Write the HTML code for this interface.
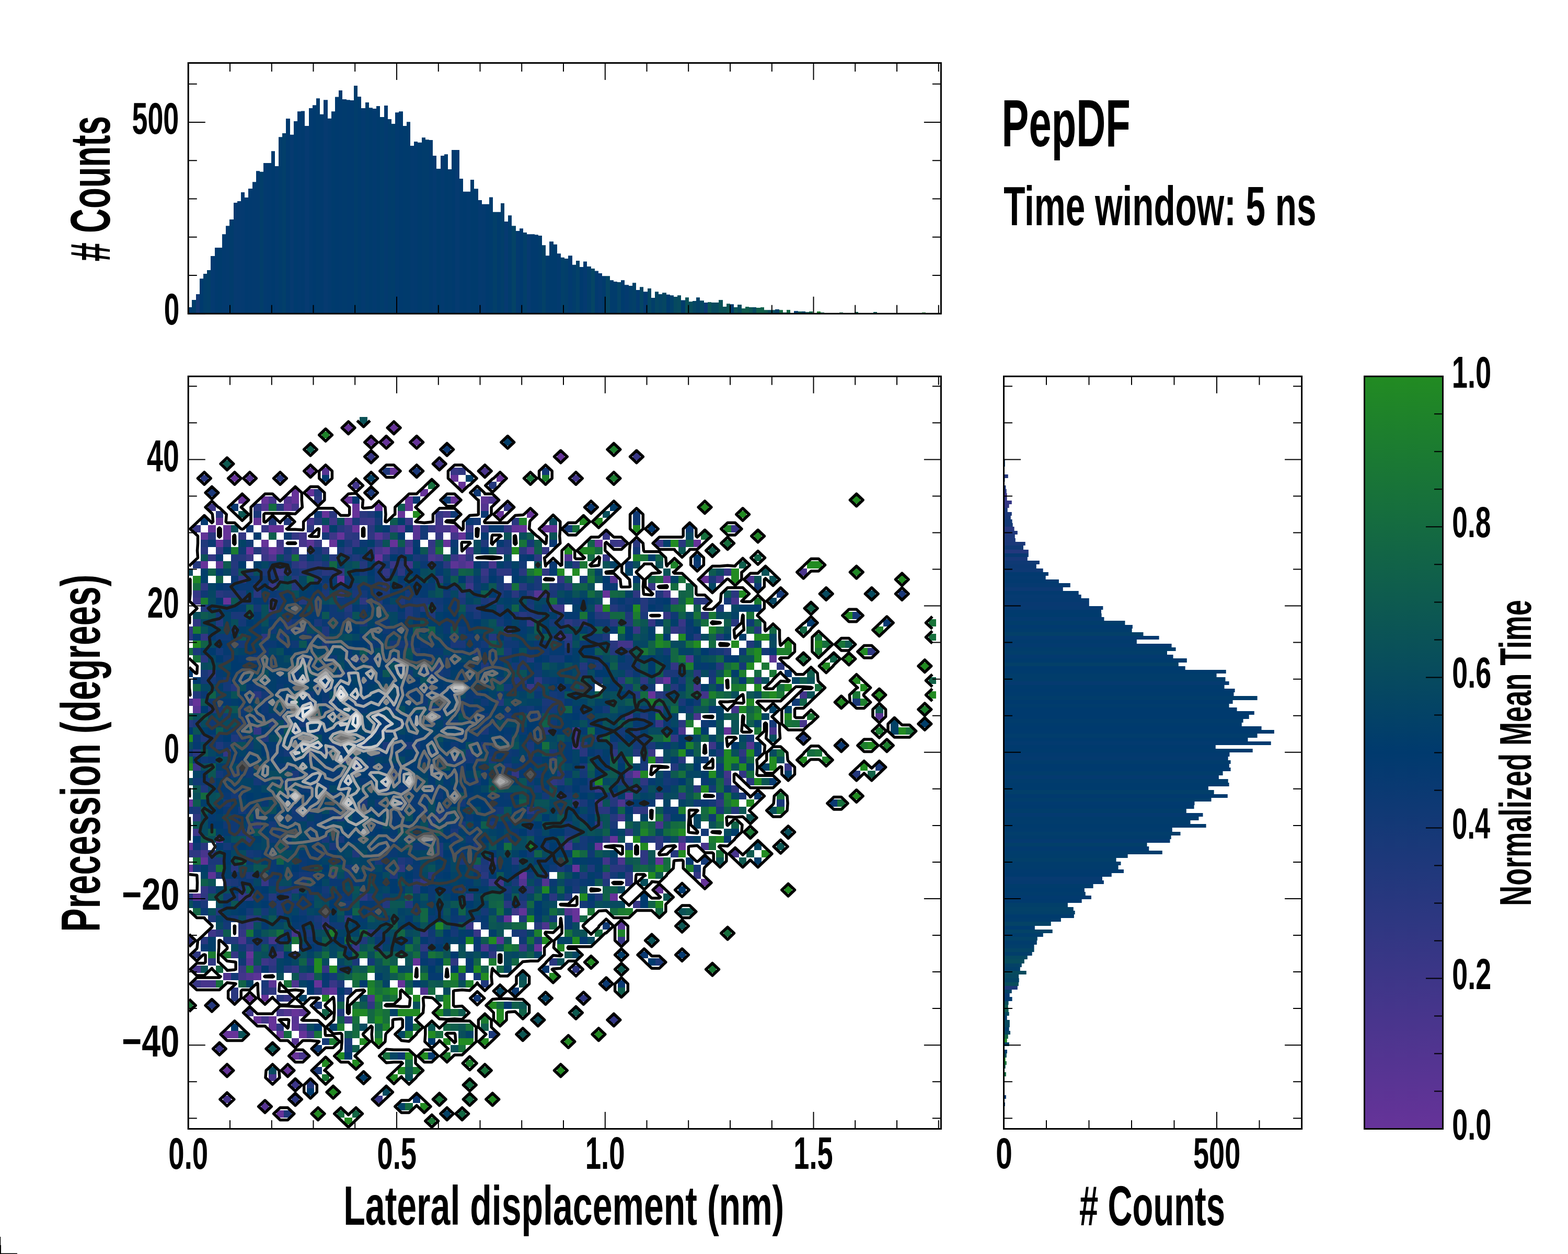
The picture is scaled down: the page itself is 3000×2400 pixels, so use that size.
<!DOCTYPE html><html><head><meta charset="utf-8"><title>PepDF</title><style>html,body{margin:0;padding:0;background:#fff;width:3000px;height:2400px;overflow:hidden}svg{display:block}</style></head><body><svg width="3000" height="2400" viewBox="0 0 3000 2400"><defs><clipPath id="cm"><rect x="360.25" y="720.3" width="1440.15" height="1440.2"/></clipPath><linearGradient id="cg" x1="0" y1="1" x2="0" y2="0"><stop offset="0" stop-color="#663399"/><stop offset="0.5" stop-color="#003a6e"/><stop offset="1" stop-color="#228b22"/></linearGradient></defs><rect width="3000" height="2400" fill="#fff"/><path fill="#013a6e" d="M360 588h7V600.3h-7zM411 473.9h7V600.3h-7zM547 227.1h8V600.3h-8zM576 212.4h7V600.3h-7zM612 218.8h7V600.3h-7zM648 173.1h7V600.3h-7zM663 191.2h7V600.3h-7zM670 192.1h7V600.3h-7zM821 268h7V600.3h-7zM879 342h7V600.3h-7zM1015 448.3h8V600.3h-8zM1023 449.2h7V600.3h-7z"/><path fill="#013d6b" d="M367 574.1h8V600.3h-8zM677 164h7V600.3h-7zM749 236.9h7V600.3h-7zM1095 506.8h7V600.3h-7z"/><path fill="#123975" d="M375 563h7V600.3h-7z"/><path fill="#003a6e" d="M382 533.2h7V600.3h-7zM519 289.2h7V600.3h-7zM598 201.2h7V600.3h-7zM641 185.4h7V600.3h-7zM763 213.2h8V600.3h-8zM864 286.9h7V600.3h-7zM886 366.8h7V600.3h-7zM929 390.7h7V600.3h-7zM994 437.2h7V600.3h-7zM1109 510.9h7V600.3h-7zM1519 595.2h8V600.3h-8z"/><path fill="#023e6a" d="M389 524h7V600.3h-7zM497 328.7h7V600.3h-7zM958 389.1h7V600.3h-7zM1080 495.1h7V600.3h-7zM1123 510.1h8V600.3h-8zM1203 547.1h7V600.3h-7zM1246 569.9h7V600.3h-7z"/><path fill="#023f69" d="M396 517.1h7V600.3h-7zM943 405.8h8V600.3h-8zM1001 445h7V600.3h-7z"/><path fill="#043a70" d="M403 490.1h8V600.3h-8zM461 367.9h7V600.3h-7zM828 298.1h7V600.3h-7zM915 382.9h7V600.3h-7zM1116 500.4h7V600.3h-7zM1231 558.2h8V600.3h-8z"/><path fill="#003b6d" d="M418 473.9h7V600.3h-7zM634 213.2h7V600.3h-7zM684 185.1h7V600.3h-7zM706 206.3h7V600.3h-7zM720 202.9h7V600.3h-7zM771 241h7V600.3h-7zM778 233.2h7V600.3h-7zM799 272.8h8V600.3h-8zM835 323.1h8V600.3h-8zM850 295.3h7V600.3h-7zM900 344h7V600.3h-7zM907 361.2h8V600.3h-8zM936 377.4h7V600.3h-7zM951 405.8h7V600.3h-7zM1051 462.2h8V600.3h-8zM1059 467.8h7V600.3h-7zM1188 536.2h7V600.3h-7zM1275 563.8h7V600.3h-7zM1397 582.2h7V600.3h-7z"/><path fill="#023a6f" d="M425 448.3h7V600.3h-7zM475 361h8V600.3h-8zM511 312h8V600.3h-8zM569 213.2h7V600.3h-7zM591 207.1h7V600.3h-7zM713 207.9h7V600.3h-7zM756 215.2h7V600.3h-7zM792 271.1h7V600.3h-7zM893 366.8h7V600.3h-7zM1066 485.3h7V600.3h-7zM1087 489.2h8V600.3h-8zM1138 518.4h7V600.3h-7z"/><path fill="#033a6f" d="M432 432.2h7V600.3h-7zM483 348.2h7V600.3h-7zM490 327.3h7V600.3h-7zM504 312h7V600.3h-7zM526 318.1h7V600.3h-7zM627 226.8h7V600.3h-7zM691 207.1h8V600.3h-8zM735 202.1h7V600.3h-7zM785 278.9h7V600.3h-7zM843 298.1h7V600.3h-7zM987 441.9h7V600.3h-7zM1195 545.2h8V600.3h-8zM1217 554.9h7V600.3h-7z"/><path fill="#013c6c" d="M439 419.9h8V600.3h-8zM533 262.2h7V600.3h-7zM699 196h7V600.3h-7zM742 228h7V600.3h-7zM807 263.3h7V600.3h-7zM814 267.2h7V600.3h-7zM972 412.2h7V600.3h-7zM1030 451.1h7V600.3h-7zM1167 536.2h7V600.3h-7zM1174 539h7V600.3h-7zM1303 574.4h8V600.3h-8z"/><path fill="#063a70" d="M447 387.9h7V600.3h-7zM555 257.7h7V600.3h-7zM619 191.2h8V600.3h-8z"/><path fill="#053a70" d="M454 384.9h7V600.3h-7zM871 286.9h8V600.3h-8zM1145 522.9h7V600.3h-7z"/><path fill="#013a6f" d="M468 377.9h7V600.3h-7z"/><path fill="#023f6a" d="M540 254.9h7V600.3h-7z"/><path fill="#003b6e" d="M562 232.1h7V600.3h-7z"/><path fill="#063a71" d="M583 241h8V600.3h-8zM965 424.1h7V600.3h-7zM1008 448.3h7V600.3h-7z"/><path fill="#013b6d" d="M605 188.2h7V600.3h-7zM655 190.1h8V600.3h-8zM857 324h7V600.3h-7zM1044 489.2h7V600.3h-7zM1152 528.2h7V600.3h-7z"/><path fill="#013d6c" d="M727 224.1h8V600.3h-8z"/><path fill="#043a6f" d="M922 390.7h7V600.3h-7z"/><path fill="#044366" d="M979 432.2h8V600.3h-8zM1181 540.1h7V600.3h-7zM1260 563h7V600.3h-7z"/><path fill="#034167" d="M1037 469.2h7V600.3h-7zM1332 569.2h7V600.3h-7zM1483 592.1h8V600.3h-8z"/><path fill="#024069" d="M1073 492.8h7V600.3h-7zM1282 565.2h7V600.3h-7z"/><path fill="#034168" d="M1102 499h7V600.3h-7z"/><path fill="#054564" d="M1131 514h7V600.3h-7zM1159 528.2h8V600.3h-8z"/><path fill="#034068" d="M1210 541.3h7V600.3h-7z"/><path fill="#044464" d="M1224 549.3h7V600.3h-7zM1534 596.1h7V600.3h-7z"/><path fill="#054662" d="M1239 552.1h7V600.3h-7zM1267 560.2h8V600.3h-8zM1339 575.3h8V600.3h-8z"/><path fill="#054663" d="M1253 558.2h7V600.3h-7zM1325 576h7V600.3h-7z"/><path fill="#064960" d="M1289 568h7V600.3h-7zM1440 588.1h7V600.3h-7z"/><path fill="#074b5e" d="M1296 565.2h7V600.3h-7z"/><path fill="#0a5158" d="M1311 569.2h7V600.3h-7zM1383 587.1h7V600.3h-7z"/><path fill="#084d5c" d="M1318 577.2h7V600.3h-7zM1469 593.3h7V600.3h-7zM1476 593.3h7V600.3h-7z"/><path fill="#0c3973" d="M1347 579.1h7V600.3h-7z"/><path fill="#0b5356" d="M1354 578.2h7V600.3h-7z"/><path fill="#074a5f" d="M1361 579.1h7V600.3h-7zM1368 579.1h7V600.3h-7z"/><path fill="#0a5257" d="M1375 574.1h8V600.3h-8z"/><path fill="#0c5654" d="M1390 581.2h7V600.3h-7zM1433 588.1h7V600.3h-7z"/><path fill="#0b5456" d="M1404 588.1h7V600.3h-7zM1541 597.3h7V600.3h-7z"/><path fill="#074c5d" d="M1411 583.1h8V600.3h-8z"/><path fill="#0e5b4f" d="M1419 590.2h7V600.3h-7zM1462 593.3h7V600.3h-7z"/><path fill="#0f5d4d" d="M1426 587.1h7V600.3h-7z"/><path fill="#0f5e4c" d="M1447 589h8V600.3h-8zM1635 597.1h7V600.3h-7z"/><path fill="#10604a" d="M1455 588.1h7V600.3h-7z"/><path fill="#146a41" d="M1491 593.3h7V600.3h-7z"/><path fill="#0c5753" d="M1498 598h7V600.3h-7z"/><path fill="#126645" d="M1505 593.1h7V600.3h-7z"/><path fill="#0c5752" d="M1527 596.1h7V600.3h-7z"/><path fill="#126545" d="M1548 596.1h7V600.3h-7z"/><path fill="#1d7f2e" d="M1563 596.1h7V600.3h-7z"/><path fill="#10604b" d="M1570 598h7V600.3h-7z"/><path fill="#126447" d="M1606 598h7V600.3h-7z"/><path fill="#0b5554" d="M1671 597.1h7V600.3h-7z"/><path fill="#1c7d2f" d="M1764 598h7V600.3h-7z"/><path fill="#0b3973" d="M1920.5 879H1922.8V886H1920.5z"/><path fill="#003a6e" d="M1920.5 886H1922.8V893H1920.5zM1920.5 1275H2267.7V1282H1920.5zM1920.5 1318H2362.6V1325H1920.5zM1920.5 1340H2358.6V1347H1920.5zM1920.5 1354H2366.6V1361H1920.5zM1920.5 1361H2399.8V1368H1920.5zM1920.5 1368H2389.7V1376H1920.5zM1920.5 1390H2413.6V1397H1920.5zM1920.5 1397H2437.9V1404H1920.5zM1920.5 1412H2387.5V1419H1920.5zM1920.5 1426H2325.8V1433H1920.5zM1920.5 1462H2351.9V1469H1920.5zM1920.5 1469H2354.6V1476H1920.5zM1920.5 1541H2284.6V1548H1920.5zM1920.5 1671H2126.8V1678H1920.5z"/><path fill="#24377d" d="M1920.5 908H1928.8V915H1920.5z"/><path fill="#0f3974" d="M1920.5 915H1922.5V922H1920.5zM1920.5 1044H1958V1052H1920.5zM1920.5 1073H1988.9V1080H1920.5z"/><path fill="#663399" d="M1920.5 922H1921.8V929H1920.5z"/><path fill="#1c387a" d="M1920.5 929H1924.4V936H1920.5zM1920.5 980H1935.8V987H1920.5zM1920.5 1023H1941.8V1030H1920.5zM1920.5 1030H1942.8V1037H1920.5z"/><path fill="#2a3780" d="M1920.5 936H1925.7V944H1920.5z"/><path fill="#3f3688" d="M1920.5 944H1926.7V951H1920.5z"/><path fill="#353684" d="M1920.5 951H1926.7V958H1920.5z"/><path fill="#353685" d="M1920.5 958H1935.8V965H1920.5z"/><path fill="#323783" d="M1920.5 965H1930.7V972H1920.5z"/><path fill="#1b387a" d="M1920.5 972H1927.7V980H1920.5z"/><path fill="#193878" d="M1920.5 987H1933.8V994H1920.5z"/><path fill="#133976" d="M1920.5 994H1936.6V1001H1920.5z"/><path fill="#143976" d="M1920.5 1001H1937.7V1008H1920.5z"/><path fill="#28377f" d="M1920.5 1008H1940.6V1016H1920.5z"/><path fill="#21387c" d="M1920.5 1016H1946.8V1023H1920.5z"/><path fill="#1a3879" d="M1920.5 1037H1961.7V1044H1920.5z"/><path fill="#23387d" d="M1920.5 1052H1967.8V1059H1920.5z"/><path fill="#083971" d="M1920.5 1059H1967.8V1066H1920.5zM1920.5 1152H2083.8V1160H1920.5z"/><path fill="#173878" d="M1920.5 1066H1965.8V1073H1920.5z"/><path fill="#0c3973" d="M1920.5 1080H1982.8V1088H1920.5zM1920.5 1124H2033.8V1131H1920.5zM1920.5 2096H1924.9V2103H1920.5z"/><path fill="#0e3974" d="M1920.5 1088H1995.7V1095H1920.5z"/><path fill="#023a6f" d="M1920.5 1095H2005.9V1102H1920.5zM1920.5 1109H2025.9V1116H1920.5zM1920.5 1440H2352.5V1448H1920.5zM1920.5 1620H2198.3V1628H1920.5zM1920.5 1714H2087.9V1721H1920.5z"/><path fill="#043a70" d="M1920.5 1102H2000.7V1109H1920.5zM1920.5 1181H2112.5V1188H1920.5zM1920.5 1217H2217.6V1224H1920.5zM1920.5 1484H2331.9V1491H1920.5zM1920.5 1556H2301.5V1563H1920.5zM1920.5 1606H2238.5V1613H1920.5z"/><path fill="#053a70" d="M1920.5 1116H2047.8V1124H1920.5zM1920.5 1145H2083.8V1152H1920.5zM1920.5 1304H2351.6V1311H1920.5zM1920.5 1685H2111.9V1692H1920.5zM1920.5 1901H1931.7V1908H1920.5zM1920.5 2110H1922.9V2117H1920.5z"/><path fill="#033a6f" d="M1920.5 1131H2063.7V1138H1920.5zM1920.5 1232H2241.6V1239H1920.5zM1920.5 1253H2244.6V1260H1920.5zM1920.5 1419H2431.7V1426H1920.5zM1920.5 1908H1936.6V1916H1920.5z"/><path fill="#063a71" d="M1920.5 1138H2068.7V1145H1920.5z"/><path fill="#073a71" d="M1920.5 1160H2110.4V1167H1920.5zM1920.5 1678H2109V1685H1920.5z"/><path fill="#013a6e" d="M1920.5 1167H2107V1174H1920.5zM1920.5 1520H2348.8V1527H1920.5zM1920.5 1664H2150V1671H1920.5zM1920.5 1721H2069.7V1728H1920.5z"/><path fill="#003b6d" d="M1920.5 1174H2107.6V1181H1920.5zM1920.5 1260H2270.8V1268H1920.5zM1920.5 1282H2345.7V1289H1920.5zM1920.5 1311H2342.6V1318H1920.5zM1920.5 1325H2360.5V1332H1920.5zM1920.5 1383H2375.8V1390H1920.5zM1920.5 1433H2396.7V1440H1920.5zM1920.5 1498H2351.6V1505H1920.5zM1920.5 1505H2311.9V1512H1920.5zM1920.5 1577H2307.6V1584H1920.5zM1920.5 1700H2074.9V1707H1920.5zM1920.5 1750H2054.9V1757H1920.5zM1920.5 1944H1926.7V1952H1920.5z"/><path fill="#013d6b" d="M1920.5 1188H2152.5V1196H1920.5zM1920.5 1239H2249.6V1246H1920.5zM1920.5 1289H2327.6V1296H1920.5zM1920.5 1296H2344.5V1304H1920.5zM1920.5 1332H2405.6V1340H1920.5zM1920.5 1476H2339.6V1484H1920.5zM1920.5 1527H2317.5V1534H1920.5zM1920.5 1548H2269.8V1556H1920.5zM1920.5 1635H2157.7V1642H1920.5z"/><path fill="#013a6f" d="M1920.5 1196H2166.9V1203H1920.5zM1920.5 1534H2285.5V1541H1920.5z"/><path fill="#013c6c" d="M1920.5 1203H2165.7V1210H1920.5zM1920.5 1347H2351.6V1354H1920.5zM1920.5 1376H2378.6V1383H1920.5zM1920.5 1455H2354.6V1462H1920.5zM1920.5 1491H2349.7V1498H1920.5zM1920.5 1563H2293.5V1570H1920.5zM1920.5 1570H2277.5V1577H1920.5zM1920.5 1599H2240.7V1606H1920.5zM1920.5 1649H2144.5V1656H1920.5zM1920.5 1656H2139.6V1664H1920.5zM1920.5 1692H2091.6V1700H1920.5zM1920.5 1707H2076.8V1714H1920.5zM1920.5 1757H2029.9V1764H1920.5zM1920.5 1800H1983.8V1808H1920.5zM1920.5 2009H1926.9V2016H1920.5z"/><path fill="#034068" d="M1920.5 1210H2187.5V1217H1920.5zM1920.5 1268H2254.8V1275H1920.5z"/><path fill="#013b6d" d="M1920.5 1224H2174.9V1232H1920.5zM1920.5 1584H2242.8V1592H1920.5z"/><path fill="#023e6a" d="M1920.5 1246H2233V1253H1920.5zM1920.5 1808H1978.6V1815H1920.5zM1920.5 1822H1974.7V1829H1920.5z"/><path fill="#013d6c" d="M1920.5 1404H2405.6V1412H1920.5zM1920.5 1628H2223.8V1635H1920.5zM1920.5 1786H1995.8V1793H1920.5z"/><path fill="#043a6f" d="M1920.5 1448H2349.7V1455H1920.5z"/><path fill="#023f6a" d="M1920.5 1512H2322.7V1520H1920.5z"/><path fill="#023e6b" d="M1920.5 1592H2258.5V1599H1920.5z"/><path fill="#023f69" d="M1920.5 1613H2194.6V1620H1920.5zM1920.5 1642H2135.6V1649H1920.5zM1920.5 1728H2042.9V1736H1920.5zM1920.5 1851H1951.8V1858H1920.5zM1920.5 1966H1930.7V1973H1920.5z"/><path fill="#034168" d="M1920.5 1736H2053.8V1743H1920.5z"/><path fill="#024069" d="M1920.5 1743H2056.7V1750H1920.5z"/><path fill="#044366" d="M1920.5 1764H2010.8V1772H1920.5zM1920.5 1995H1930.9V2002H1920.5z"/><path fill="#003b6e" d="M1920.5 1772H1979.9V1779H1920.5z"/><path fill="#034267" d="M1920.5 1779H2013.7V1786H1920.5zM1920.5 1793H1984.8V1800H1920.5z"/><path fill="#044465" d="M1920.5 1815H1978.6V1822H1920.5z"/><path fill="#064861" d="M1920.5 1829H1965.8V1836H1920.5zM1920.5 1865H1949.1V1872H1920.5zM1920.5 1973H1933V1980H1920.5z"/><path fill="#074c5d" d="M1920.5 1836H1959.8V1844H1920.5z"/><path fill="#044266" d="M1920.5 1844H1954.8V1851H1920.5zM1920.5 1894H1935.8V1901H1920.5z"/><path fill="#074b5e" d="M1920.5 1858H1963.7V1865H1920.5z"/><path fill="#044464" d="M1920.5 1872H1949.7V1880H1920.5z"/><path fill="#084e5b" d="M1920.5 1880H1948.8V1887H1920.5z"/><path fill="#1b3879" d="M1920.5 1887H1946.8V1894H1920.5z"/><path fill="#084d5c" d="M1920.5 1916H1929.6V1923H1920.5z"/><path fill="#0d5951" d="M1920.5 1923H1928.8V1930H1920.5z"/><path fill="#0e5a50" d="M1920.5 1930H1929.6V1937H1920.5z"/><path fill="#064860" d="M1920.5 1937H1930.7V1944H1920.5z"/><path fill="#074a5f" d="M1920.5 1952H1931.8V1959H1920.5z"/><path fill="#064960" d="M1920.5 1959H1931.8V1966H1920.5z"/><path fill="#126645" d="M1920.5 1980H1928.8V1988H1920.5z"/><path fill="#218825" d="M1920.5 1988H1926.7V1995H1920.5z"/><path fill="#0a5257" d="M1920.5 2016H1925.8V2024H1920.5z"/><path fill="#228b22" d="M1920.5 2024H1923.7V2031H1920.5z"/><path fill="#187239" d="M1920.5 2031H1925.8V2038H1920.5z"/><path fill="#0c5654" d="M1920.5 2038H1923.7V2045H1920.5z"/><path fill="#156b40" d="M1920.5 2052H1924.9V2060H1920.5z"/><g clip-path="url(#cm)"><path fill="#074a5f" d="M355 1088h14v14h-14zM355 1489h14v14h-14zM384 1268h14v14h-14zM384 1378h14v14h-14zM384 1558h14v14h-14zM384 1572h14v14h-14zM384 1586h14v14h-14zM398 1144h15v13h-15zM398 1226h15v14h-15zM413 1724h14v14h-14zM413 1765h14v14h-14zM427 1378h15v14h-15zM427 1448h15v13h-15zM427 1558h15v14h-15zM442 1420h14v14h-14zM442 1807h14v14h-14zM456 1627h15v14h-15zM456 1655h15v14h-15zM456 1752h15v13h-15zM471 1351h14v14h-14zM485 1406h15v14h-15zM485 1461h15v14h-15zM500 1254h14v14h-14zM514 1475h15v14h-15zM514 2042h15v14h-15zM529 1061h14v13h-14zM529 1378h14v14h-14zM529 1475h14v14h-14zM529 1682h14v14h-14zM543 1102h15v14h-15zM543 1254h15v14h-15zM543 1475h15v14h-15zM543 1627h15v14h-15zM543 1682h15v14h-15zM558 1268h14v14h-14zM558 1600h14v13h-14zM558 1641h14v14h-14zM558 1710h14v14h-14zM572 1268h15v14h-15zM572 1613h15v14h-15zM572 1696h15v14h-15zM572 1793h15v14h-15zM572 1848h15v14h-15zM587 1199h14v14h-14zM587 1282h14v14h-14zM587 1682h14v14h-14zM587 1959h14v14h-14zM601 1351h15v14h-15zM601 1710h15v14h-15zM601 1779h15v14h-15zM616 991h14v14h-14zM616 1144h14v13h-14zM616 1544h14v14h-14zM616 1724h14v14h-14zM616 1834h14v14h-14zM630 1130h15v14h-15zM630 1323h15v14h-15zM630 1406h15v14h-15zM630 1434h15v14h-15zM630 1696h15v14h-15zM645 1061h14v13h-14zM645 1213h14v13h-14zM645 1268h14v14h-14zM645 1669h14v13h-14zM645 1752h14v13h-14zM645 1807h14v14h-14zM659 1074h15v14h-15zM659 1461h15v14h-15zM659 1558h15v14h-15zM659 1696h15v14h-15zM674 1434h14v14h-14zM688 1102h15v14h-15zM688 1627h15v14h-15zM688 1904h15v13h-15zM688 1959h15v14h-15zM703 1213h14v13h-14zM717 1157h15v14h-15zM717 1240h15v14h-15zM717 1752h15v13h-15zM732 1171h14v14h-14zM732 1572h14v14h-14zM732 1669h14v13h-14zM732 1765h14v14h-14zM732 1848h14v14h-14zM732 1862h14v14h-14zM732 2083h14v14h-14zM746 1102h15v14h-15zM746 1779h15v14h-15zM761 1448h14v13h-14zM761 1710h14v14h-14zM775 1696h15v14h-15zM775 1779h15v14h-15zM775 1848h15v14h-15zM790 1268h14v14h-14zM804 1088h15v14h-15zM804 1213h15v13h-15zM804 1489h15v14h-15zM804 1586h15v14h-15zM804 1655h15v14h-15zM819 1130h14v14h-14zM819 1337h14v14h-14zM819 1530h14v14h-14zM819 1544h14v14h-14zM833 1337h15v14h-15zM833 1710h15v14h-15zM833 1848h15v14h-15zM848 1724h14v14h-14zM848 1752h14v13h-14zM848 1890h14v14h-14zM862 1544h15v14h-15zM877 1171h14v14h-14zM891 1572h15v14h-15zM906 1033h14v14h-14zM906 1047h14v14h-14zM906 1144h14v13h-14zM906 1544h14v14h-14zM935 1600h15v13h-15zM935 1696h15v14h-15zM950 1226h14v14h-14zM950 1378h14v14h-14zM950 1696h14v14h-14zM964 1282h15v14h-15zM964 1337h15v14h-15zM964 1821h15v13h-15zM964 1834h15v14h-15zM979 1406h14v14h-14zM979 1613h14v14h-14zM993 1378h15v14h-15zM993 1600h15v13h-15zM993 1613h15v14h-15zM1008 1213h14v13h-14zM1008 1682h14v14h-14zM1022 1669h15v13h-15zM1022 1696h15v14h-15zM1037 1309h14v14h-14zM1037 1627h14v14h-14zM1051 991h15v14h-15zM1051 1268h15v14h-15zM1051 1420h15v14h-15zM1051 1724h15v14h-15zM1066 1130h14v14h-14zM1066 1572h14v14h-14zM1066 1682h14v14h-14zM1080 1199h15v14h-15zM1080 1530h15v14h-15zM1095 1199h14v14h-14zM1095 1558h14v14h-14zM1095 1765h14v14h-14zM1109 1254h15v14h-15zM1109 1586h15v14h-15zM1109 1655h15v14h-15zM1124 1157h14v14h-14zM1124 1282h14v14h-14zM1124 1296h14v13h-14zM1124 1793h14v14h-14zM1138 1144h15v13h-15zM1153 1199h14v14h-14zM1153 1254h14v14h-14zM1153 1296h14v13h-14zM1153 1323h14v14h-14zM1153 1365h14v13h-14zM1153 1724h14v14h-14zM1167 1282h15v14h-15zM1167 1724h15v14h-15zM1182 1309h14v14h-14zM1182 1420h14v14h-14zM1182 1503h14v14h-14zM1182 1696h14v14h-14zM1182 1724h14v14h-14zM1196 1434h15v14h-15zM1196 1503h15v14h-15zM1211 1351h14v14h-14zM1211 1517h14v13h-14zM1225 1213h15v13h-15zM1240 1296h14v13h-14zM1240 1392h14v14h-14zM1254 1392h15v14h-15zM1254 1475h15v14h-15zM1269 1434h14v14h-14zM1269 1448h14v13h-14zM1269 1517h14v13h-14zM1283 1226h15v14h-15zM1283 1517h15v13h-15zM1298 1226h14v14h-14zM1312 1530h15v14h-15zM1341 1213h15v13h-15zM1341 1282h15v14h-15zM1370 1088h15v14h-15zM1370 1171h15v14h-15zM1385 1586h14v14h-14zM1443 1323h14v14h-14zM1472 1226h14v14h-14zM1472 1434h14v14h-14zM1573 1130h15v14h-15zM1660 1130h15v14h-15z"/><path fill="#333684" d="M355 1199h14v14h-14zM355 1793h14v14h-14zM369 1130h15v14h-15zM384 1213h14v13h-14zM384 1696h14v14h-14zM398 1061h15v13h-15zM413 1047h14v14h-14zM427 1434h15v14h-15zM442 1821h14v13h-14zM456 1019h15v14h-15zM456 1102h15v14h-15zM456 1779h15v14h-15zM471 1807h14v14h-14zM485 1392h15v14h-15zM485 1848h15v14h-15zM514 1834h15v14h-15zM558 1019h14v14h-14zM558 1848h14v14h-14zM572 1862h15v14h-15zM601 1033h15v14h-15zM616 1848h14v14h-14zM645 1088h14v14h-14zM659 1005h15v14h-15zM674 1033h14v14h-14zM732 1088h14v14h-14zM804 1682h15v14h-15zM819 1005h14v14h-14zM819 1033h14v14h-14zM833 978h15v13h-15zM833 1019h15v14h-15zM891 1005h15v14h-15zM920 1005h15v14h-15zM935 1641h15v14h-15zM964 964h15v14h-15zM964 1005h15v14h-15zM979 1475h14v14h-14zM1008 1185h14v14h-14zM1037 1047h14v14h-14zM1066 1102h14v14h-14zM1138 1503h15v14h-15zM1153 1061h14v13h-14zM1167 1945h15v14h-15zM1196 1682h15v14h-15zM1240 1185h14v14h-14zM1254 1351h15v14h-15zM1254 1448h15v13h-15zM1269 1171h14v14h-14zM1283 1199h15v14h-15zM1283 1268h15v14h-15zM1283 1406h15v14h-15zM1327 1669h14v13h-14zM1385 1088h14v14h-14zM1385 1489h14v14h-14zM1414 1475h14v14h-14z"/><path fill="#2e3781" d="M355 1213h14v13h-14zM355 1627h14v14h-14zM369 1185h15v14h-15zM369 1558h15v14h-15zM369 1627h15v14h-15zM369 1821h15v13h-15zM384 1116h14v14h-14zM384 1710h14v14h-14zM398 1834h15v14h-15zM471 1710h14v14h-14zM485 964h15v14h-15zM500 1213h14v13h-14zM514 1890h15v14h-15zM529 1959h14v14h-14zM558 1047h14v14h-14zM558 2097h14v14h-14zM587 1005h14v14h-14zM601 950h15v14h-15zM616 1047h14v14h-14zM645 1130h14v14h-14zM659 1019h15v14h-15zM659 1047h15v14h-15zM659 1752h15v13h-15zM688 1144h15v13h-15zM688 1710h15v14h-15zM703 1019h14v14h-14zM703 1917h14v14h-14zM761 1088h14v14h-14zM761 1655h14v14h-14zM804 1779h15v14h-15zM804 1807h15v14h-15zM833 1102h15v14h-15zM862 1834h15v14h-15zM877 895h14v14h-14zM891 1061h15v13h-15zM891 1710h15v14h-15zM935 1821h15v13h-15zM950 1047h14v14h-14zM950 1088h14v14h-14zM964 1088h15v14h-15zM964 1199h15v14h-15zM1022 1061h15v13h-15zM1022 1296h15v13h-15zM1037 1088h14v14h-14zM1037 1130h14v14h-14zM1051 1489h15v14h-15zM1080 1185h15v14h-15zM1080 1213h15v13h-15zM1095 1530h14v14h-14zM1095 1848h14v14h-14zM1109 1904h15v13h-15zM1138 1572h15v14h-15zM1167 1434h15v14h-15zM1196 1586h15v14h-15zM1196 1669h15v13h-15zM1211 1130h14v14h-14zM1211 1544h14v14h-14zM1225 1296h15v13h-15zM1225 1489h15v14h-15zM1225 1544h15v14h-15zM1225 1627h15v14h-15zM1225 1641h15v14h-15zM1254 1517h15v13h-15zM1254 1600h15v13h-15zM1254 1613h15v14h-15zM1298 1517h14v13h-14zM1370 1530h15v14h-15zM1399 1503h15v14h-15zM1414 1434h14v14h-14zM1443 1296h14v13h-14zM1486 1268h15v14h-15zM1660 1240h15v14h-15z"/><path fill="#166f3d" d="M355 1240h14v14h-14zM355 1448h14v13h-14zM369 1254h15v14h-15zM369 1641h15v14h-15zM413 1876h14v14h-14zM529 1779h14v14h-14zM558 1061h14v13h-14zM645 2125h14v14h-14zM674 1945h14v14h-14zM688 1862h15v14h-15zM717 1890h15v14h-15zM717 1917h15v14h-15zM732 1931h14v14h-14zM732 1945h14v14h-14zM732 2014h14v14h-14zM761 1862h14v14h-14zM775 1807h15v14h-15zM819 922h14v14h-14zM833 1973h15v14h-15zM862 1931h15v14h-15zM950 1738h14v14h-14zM964 1613h15v14h-15zM979 1116h14v14h-14zM979 1807h14v14h-14zM1008 1793h14v14h-14zM1037 1420h14v14h-14zM1051 1144h15v13h-15zM1095 1005h14v14h-14zM1269 1655h14v14h-14zM1298 1157h14v14h-14zM1298 1475h14v14h-14zM1298 1572h14v14h-14zM1327 1517h14v13h-14zM1341 1019h15v14h-15zM1341 1185h15v14h-15zM1341 1337h15v14h-15zM1385 1033h14v14h-14zM1385 1779h14v14h-14zM1428 1365h15v13h-15zM1428 1475h15v14h-15zM1486 1434h15v14h-15zM1515 1378h15v14h-15zM1530 1254h14v14h-14zM1559 1213h14v13h-14zM1559 1309h14v14h-14zM1573 1226h15v14h-15zM1602 1530h15v14h-15zM1777 1213h14v13h-14z"/><path fill="#003a6e" d="M355 1282h14v14h-14zM355 1392h14v14h-14zM369 1296h15v13h-15zM369 1448h15v13h-15zM369 1600h15v13h-15zM384 1351h14v14h-14zM398 1157h15v14h-15zM398 1240h15v14h-15zM398 1392h15v14h-15zM398 1572h15v14h-15zM413 1116h14v14h-14zM413 1144h14v13h-14zM413 1226h14v14h-14zM413 1254h14v14h-14zM413 1544h14v14h-14zM413 1572h14v14h-14zM427 1406h15v14h-15zM427 1627h15v14h-15zM427 1641h15v14h-15zM442 1157h14v14h-14zM442 1254h14v14h-14zM442 1268h14v14h-14zM442 1282h14v14h-14zM442 1296h14v13h-14zM442 1434h14v14h-14zM442 1696h14v14h-14zM442 1959h14v14h-14zM456 1074h15v14h-15zM456 1268h15v14h-15zM456 1323h15v14h-15zM456 1337h15v14h-15zM456 1392h15v14h-15zM456 1558h15v14h-15zM456 1613h15v14h-15zM456 1738h15v14h-15zM471 1185h14v14h-14zM471 1226h14v14h-14zM471 1240h14v14h-14zM471 1296h14v13h-14zM471 1323h14v14h-14zM471 1337h14v14h-14zM471 1365h14v13h-14zM471 1406h14v14h-14zM471 1517h14v13h-14zM471 1530h14v14h-14zM471 1586h14v14h-14zM471 1724h14v14h-14zM485 1019h15v14h-15zM485 1268h15v14h-15zM485 1351h15v14h-15zM485 1448h15v13h-15zM485 1710h15v14h-15zM500 1116h14v14h-14zM500 1420h14v14h-14zM500 1434h14v14h-14zM500 1517h14v13h-14zM500 1572h14v14h-14zM500 1696h14v14h-14zM500 1724h14v14h-14zM529 1226h14v14h-14zM529 1282h14v14h-14zM529 1323h14v14h-14zM543 1240h15v14h-15zM543 1406h15v14h-15zM543 1517h15v13h-15zM543 1530h15v14h-15zM543 1572h15v14h-15zM543 1600h15v13h-15zM543 1793h15v14h-15zM543 1821h15v13h-15zM558 1309h14v14h-14zM558 1406h14v14h-14zM558 1420h14v14h-14zM558 1434h14v14h-14zM558 1655h14v14h-14zM558 1752h14v13h-14zM572 1240h15v14h-15zM572 1337h15v14h-15zM572 1365h15v13h-15zM572 1392h15v14h-15zM572 1448h15v13h-15zM572 1475h15v14h-15zM572 1517h15v13h-15zM572 1710h15v14h-15zM587 1185h14v14h-14zM587 1420h14v14h-14zM587 1489h14v14h-14zM587 1517h14v13h-14zM587 1600h14v13h-14zM587 1655h14v14h-14zM587 1807h14v14h-14zM587 1876h14v14h-14zM587 1890h14v14h-14zM587 2083h14v14h-14zM601 1116h15v14h-15zM601 1268h15v14h-15zM601 1323h15v14h-15zM601 1337h15v14h-15zM601 1475h15v14h-15zM601 1613h15v14h-15zM601 1669h15v13h-15zM601 1682h15v14h-15zM601 1959h15v14h-15zM616 1296h14v13h-14zM616 1365h14v13h-14zM616 1558h14v14h-14zM616 1586h14v14h-14zM616 1655h14v14h-14zM616 1738h14v14h-14zM630 1226h15v14h-15zM630 1309h15v14h-15zM630 1489h15v14h-15zM630 1627h15v14h-15zM630 1724h15v14h-15zM645 1309h14v14h-14zM645 1351h14v14h-14zM645 1489h14v14h-14zM645 1503h14v14h-14zM645 1517h14v13h-14zM645 1530h14v14h-14zM645 1586h14v14h-14zM645 1613h14v14h-14zM645 1793h14v14h-14zM645 1890h14v14h-14zM659 1296h15v13h-15zM659 1309h15v14h-15zM659 1434h15v14h-15zM659 1586h15v14h-15zM659 1600h15v13h-15zM659 1738h15v14h-15zM659 1821h15v13h-15zM659 2014h15v14h-15zM674 1088h14v14h-14zM674 1199h14v14h-14zM674 1226h14v14h-14zM688 1226h15v14h-15zM688 1282h15v14h-15zM688 1323h15v14h-15zM688 1475h15v14h-15zM688 1517h15v13h-15zM688 1669h15v13h-15zM688 1876h15v14h-15zM703 1088h14v14h-14zM703 1240h14v14h-14zM703 1282h14v14h-14zM703 1337h14v14h-14zM703 1392h14v14h-14zM703 1489h14v14h-14zM703 1544h14v14h-14zM703 1613h14v14h-14zM717 1296h15v13h-15zM717 1323h15v14h-15zM717 1337h15v14h-15zM717 1351h15v14h-15zM717 1503h15v14h-15zM717 1558h15v14h-15zM717 1586h15v14h-15zM732 1254h14v14h-14zM732 1268h14v14h-14zM732 1337h14v14h-14zM732 1489h14v14h-14zM732 1682h14v14h-14zM746 1061h15v13h-15zM746 1282h15v14h-15zM746 1296h15v13h-15zM746 1489h15v14h-15zM746 1517h15v13h-15zM746 1682h15v14h-15zM746 1696h15v14h-15zM761 1157h14v14h-14zM761 1185h14v14h-14zM761 1254h14v14h-14zM761 1282h14v14h-14zM761 1323h14v14h-14zM761 1365h14v13h-14zM761 1489h14v14h-14zM761 1517h14v13h-14zM761 1793h14v14h-14zM775 1116h15v14h-15zM775 1309h15v14h-15zM775 1406h15v14h-15zM775 1461h15v14h-15zM775 1572h15v14h-15zM775 1669h15v13h-15zM775 1959h15v14h-15zM790 1047h14v14h-14zM790 1088h14v14h-14zM790 1185h14v14h-14zM790 1296h14v13h-14zM790 1378h14v14h-14zM790 1558h14v14h-14zM790 1586h14v14h-14zM790 1876h14v14h-14zM804 1171h15v14h-15zM804 1309h15v14h-15zM804 1600h15v13h-15zM804 1696h15v14h-15zM819 1406h14v14h-14zM819 1682h14v14h-14zM819 1848h14v14h-14zM819 1987h14v13h-14zM833 1296h15v13h-15zM833 1309h15v14h-15zM833 1434h15v14h-15zM833 1475h15v14h-15zM833 1530h15v14h-15zM833 1696h15v14h-15zM833 1807h15v14h-15zM833 1834h15v14h-15zM848 1116h14v14h-14zM848 1171h14v14h-14zM848 1323h14v14h-14zM848 1337h14v14h-14zM848 1351h14v14h-14zM848 1420h14v14h-14zM848 1475h14v14h-14zM848 1517h14v13h-14zM848 1600h14v13h-14zM848 1627h14v14h-14zM848 1669h14v13h-14zM848 1779h14v14h-14zM862 1171h15v14h-15zM862 1268h15v14h-15zM862 1461h15v14h-15zM862 1517h15v13h-15zM862 1530h15v14h-15zM862 1613h15v14h-15zM862 1710h15v14h-15zM862 1821h15v13h-15zM862 1848h15v14h-15zM877 1102h14v14h-14zM877 1268h14v14h-14zM877 1558h14v14h-14zM891 1240h15v14h-15zM891 1309h15v14h-15zM891 1378h15v14h-15zM891 1392h15v14h-15zM891 1461h15v14h-15zM891 1503h15v14h-15zM891 1530h15v14h-15zM891 1724h15v14h-15zM906 1185h14v14h-14zM906 1268h14v14h-14zM906 1378h14v14h-14zM906 1420h14v14h-14zM906 1530h14v14h-14zM906 1558h14v14h-14zM906 1586h14v14h-14zM920 1047h15v14h-15zM920 1157h15v14h-15zM920 1254h15v14h-15zM920 1282h15v14h-15zM920 1296h15v13h-15zM920 1323h15v14h-15zM920 1351h15v14h-15zM920 1489h15v14h-15zM920 1517h15v13h-15zM920 1530h15v14h-15zM920 1544h15v14h-15zM920 1600h15v13h-15zM935 1102h15v14h-15zM935 1130h15v14h-15zM935 1351h15v14h-15zM935 1517h15v13h-15zM935 1669h15v13h-15zM950 1213h14v13h-14zM950 1365h14v13h-14zM950 1392h14v14h-14zM950 1406h14v14h-14zM950 1655h14v14h-14zM964 1171h15v14h-15zM979 1102h14v14h-14zM979 1517h14v13h-14zM979 1724h14v14h-14zM993 1586h15v14h-15zM993 1627h15v14h-15zM1008 1061h14v13h-14zM1008 1296h14v13h-14zM1008 1378h14v14h-14zM1008 1392h14v14h-14zM1008 1530h14v14h-14zM1008 1655h14v14h-14zM1022 1254h15v14h-15zM1022 1378h15v14h-15zM1022 1392h15v14h-15zM1022 1572h15v14h-15zM1022 1613h15v14h-15zM1022 1724h15v14h-15zM1022 1738h15v14h-15zM1037 1199h14v14h-14zM1037 1558h14v14h-14zM1037 1655h14v14h-14zM1051 1309h15v14h-15zM1051 1586h15v14h-15zM1051 1613h15v14h-15zM1066 1296h14v13h-14zM1066 1392h14v14h-14zM1066 1586h14v14h-14zM1080 1254h15v14h-15zM1095 1323h14v14h-14zM1095 1365h14v13h-14zM1095 1503h14v14h-14zM1095 1544h14v14h-14zM1095 1641h14v14h-14zM1109 1144h15v13h-15zM1109 1240h15v14h-15zM1109 1448h15v13h-15zM1109 1489h15v14h-15zM1109 1517h15v13h-15zM1124 1185h14v14h-14zM1124 1226h14v14h-14zM1124 1240h14v14h-14zM1124 1365h14v13h-14zM1124 1558h14v14h-14zM1124 1572h14v14h-14zM1124 1710h14v14h-14zM1138 1282h15v14h-15zM1138 1378h15v14h-15zM1138 1392h15v14h-15zM1138 1475h15v14h-15zM1138 1517h15v13h-15zM1153 1102h14v14h-14zM1153 1268h14v14h-14zM1153 1282h14v14h-14zM1167 1503h15v14h-15zM1182 1323h14v14h-14zM1182 1461h14v14h-14zM1182 1475h14v14h-14zM1196 1199h15v14h-15zM1196 1213h15v13h-15zM1196 1406h15v14h-15zM1196 1544h15v14h-15zM1211 1530h14v14h-14zM1225 1710h15v14h-15zM1225 1724h15v14h-15zM1240 1157h14v14h-14zM1240 1254h14v14h-14zM1240 1268h14v14h-14zM1240 1282h14v14h-14zM1240 1834h14v14h-14zM1269 1144h14v13h-14zM1269 1213h14v13h-14zM1283 1392h15v14h-15zM1298 1406h14v14h-14zM1298 1420h14v14h-14zM1298 1489h14v14h-14zM1298 1696h14v14h-14zM1312 1337h15v14h-15zM1312 1406h15v14h-15zM1327 1061h14v13h-14zM1327 1199h14v14h-14zM1327 1461h14v14h-14zM1341 1240h15v14h-15zM1341 1392h15v14h-15zM1399 1254h15v14h-15zM1399 1420h15v14h-15zM1544 1185h15v14h-15z"/><path fill="#4c358e" d="M355 1337h14v14h-14zM514 1061h15v13h-15zM529 1047h14v14h-14zM558 1876h14v14h-14zM703 1904h14v13h-14zM819 1061h14v13h-14zM877 1074h14v14h-14zM920 895h15v14h-15zM920 1807h15v14h-15zM935 950h15v14h-15zM1037 1765h14v14h-14zM1182 1530h14v14h-14zM1182 1641h14v14h-14zM1298 1392h14v14h-14zM1312 1254h15v14h-15zM1327 1365h14v13h-14zM1428 1102h15v14h-15zM1530 1088h14v14h-14z"/><path fill="#116248" d="M355 1365h14v13h-14zM384 1226h14v14h-14zM398 1323h15v14h-15zM413 1102h14v14h-14zM456 1876h15v14h-15zM529 1641h14v14h-14zM572 1834h15v14h-15zM587 1102h14v14h-14zM616 1931h14v14h-14zM645 1821h14v13h-14zM645 1917h14v14h-14zM674 1738h14v14h-14zM732 1904h14v13h-14zM790 1793h14v14h-14zM819 1199h14v14h-14zM877 1088h14v14h-14zM877 1738h14v14h-14zM935 1724h15v14h-15zM979 1157h14v14h-14zM993 1931h15v14h-15zM1022 1627h15v14h-15zM1022 1710h15v14h-15zM1037 1378h14v14h-14zM1080 1102h15v14h-15zM1080 1351h15v14h-15zM1109 1116h15v14h-15zM1124 1033h14v14h-14zM1138 1323h15v14h-15zM1153 1406h14v14h-14zM1153 1710h14v14h-14zM1167 1448h15v13h-15zM1182 1130h14v14h-14zM1182 1544h14v14h-14zM1196 1296h15v13h-15zM1196 1461h15v14h-15zM1211 1185h14v14h-14zM1211 1655h14v14h-14zM1240 1102h14v14h-14zM1240 1226h14v14h-14zM1240 1406h14v14h-14zM1240 1572h14v14h-14zM1240 1724h14v14h-14zM1254 1061h15v13h-15zM1254 1406h15v14h-15zM1298 1130h14v14h-14zM1312 1116h15v14h-15zM1327 1323h14v14h-14zM1356 1213h14v13h-14zM1385 1323h14v14h-14zM1399 1572h15v14h-15zM1428 1199h15v14h-15zM1428 1351h15v14h-15zM1443 1061h14v13h-14zM1443 1185h14v14h-14zM1530 1337h14v14h-14zM1544 1157h15v14h-15zM1588 1254h14v14h-14zM1660 1475h15v14h-15zM1777 1296h14v13h-14z"/><path fill="#24387d" d="M355 1378h14v14h-14zM369 1074h15v14h-15zM398 1627h15v14h-15zM398 1917h15v14h-15zM413 1185h14v14h-14zM413 1738h14v14h-14zM442 1074h14v14h-14zM442 1309h14v14h-14zM442 1793h14v14h-14zM456 1061h15v13h-15zM471 1600h14v13h-14zM485 1047h15v14h-15zM485 1572h15v14h-15zM485 1752h15v13h-15zM514 1144h15v13h-15zM514 1710h15v14h-15zM529 964h14v14h-14zM529 1102h14v14h-14zM543 1088h15v14h-15zM543 1848h15v14h-15zM558 1102h14v14h-14zM558 1116h14v14h-14zM558 1696h14v14h-14zM572 1061h15v13h-15zM572 1144h15v13h-15zM587 1047h14v14h-14zM587 1074h14v14h-14zM587 2069h14v14h-14zM601 936h15v14h-15zM601 991h15v14h-15zM601 1102h15v14h-15zM601 1890h15v14h-15zM630 1061h15v13h-15zM630 1088h15v14h-15zM630 1669h15v13h-15zM645 1005h14v14h-14zM659 1157h15v14h-15zM688 1074h15v14h-15zM703 1047h14v14h-14zM717 1033h15v14h-15zM717 1074h15v14h-15zM732 1061h14v13h-14zM732 1102h14v14h-14zM732 1116h14v14h-14zM732 1724h14v14h-14zM746 1047h15v14h-15zM761 1074h14v14h-14zM775 1724h15v14h-15zM790 1682h14v14h-14zM804 1157h15v14h-15zM819 1669h14v13h-14zM877 1130h14v14h-14zM935 922h15v14h-15zM935 1144h15v13h-15zM935 1213h15v13h-15zM950 1337h14v14h-14zM964 1047h15v14h-15zM993 1724h15v14h-15zM1008 1254h14v14h-14zM1008 1696h14v14h-14zM1022 1765h15v14h-15zM1037 1392h14v14h-14zM1066 1489h14v14h-14zM1080 1226h15v14h-15zM1095 1074h14v14h-14zM1109 1268h15v14h-15zM1109 1420h15v14h-15zM1138 1171h15v14h-15zM1167 1157h15v14h-15zM1167 1240h15v14h-15zM1167 1530h15v14h-15zM1167 1558h15v14h-15zM1196 1185h15v14h-15zM1196 1489h15v14h-15zM1211 1434h14v14h-14zM1225 1144h15v13h-15zM1225 1157h15v14h-15zM1269 1558h14v14h-14zM1283 1309h15v14h-15zM1283 1461h15v14h-15zM1283 1627h15v14h-15zM1327 1144h14v13h-14zM1327 1213h14v13h-14zM1370 1268h15v14h-15zM1385 1240h14v14h-14zM1399 1544h15v14h-15zM1443 1199h14v14h-14zM1631 1475h15v14h-15z"/><path fill="#228b22" d="M355 1406h14v14h-14zM355 1461h14v14h-14zM369 1226h15v14h-15zM601 1834h15v14h-15zM601 1848h15v14h-15zM601 2125h15v14h-15zM616 1904h14v13h-14zM616 2028h14v14h-14zM630 1848h15v14h-15zM630 2083h15v14h-15zM645 2014h14v14h-14zM659 2139h15v13h-15zM674 2028h14v14h-14zM688 1987h15v13h-15zM717 1945h15v14h-15zM717 1987h15v13h-15zM746 1848h15v14h-15zM746 1890h15v14h-15zM746 2056h15v13h-15zM761 1931h14v14h-14zM761 2042h14v14h-14zM775 1862h15v14h-15zM775 1931h15v14h-15zM775 2014h15v14h-15zM790 978h14v13h-14zM790 1904h14v13h-14zM790 1931h14v14h-14zM804 2014h15v14h-15zM804 2111h15v14h-15zM819 1973h14v14h-14zM833 1931h15v14h-15zM848 1904h14v13h-14zM848 1917h14v14h-14zM848 1987h14v13h-14zM862 1862h15v14h-15zM877 1987h14v13h-14zM891 1793h15v14h-15zM891 1987h15v13h-15zM906 1848h14v14h-14zM920 1862h15v14h-15zM920 1987h15v13h-15zM935 1793h15v14h-15zM935 1917h15v14h-15zM935 2097h15v14h-15zM950 1931h14v14h-14zM950 1945h14v14h-14zM979 1047h14v14h-14zM1008 1752h14v13h-14zM1022 1088h15v14h-15zM1037 1793h14v14h-14zM1051 1862h15v14h-15zM1066 1088h14v14h-14zM1066 2042h14v14h-14zM1080 1047h15v14h-15zM1080 1987h15v13h-15zM1095 1088h14v14h-14zM1095 1793h14v14h-14zM1109 991h15v14h-15zM1109 1710h15v14h-15zM1124 1834h14v14h-14zM1138 991h15v14h-15zM1138 1489h15v14h-15zM1138 1973h15v14h-15zM1153 1157h14v14h-14zM1196 1627h15v14h-15zM1211 1005h14v14h-14zM1211 1157h14v14h-14zM1211 1600h14v13h-14zM1225 1613h15v14h-15zM1240 1448h14v13h-14zM1240 1669h14v13h-14zM1254 1655h15v14h-15zM1254 1724h15v14h-15zM1283 1033h15v14h-15zM1298 1213h14v13h-14zM1298 1434h14v14h-14zM1298 1586h14v14h-14zM1298 1627h14v14h-14zM1312 1144h15v13h-15zM1327 1226h14v14h-14zM1327 1392h14v14h-14zM1341 964h15v14h-15zM1341 1503h15v14h-15zM1356 1475h14v14h-14zM1356 1544h14v14h-14zM1370 1296h15v13h-15zM1370 1600h15v13h-15zM1385 1434h14v14h-14zM1385 1448h14v13h-14zM1385 1461h14v14h-14zM1399 1088h15v14h-15zM1399 1102h15v14h-15zM1399 1226h15v14h-15zM1399 1448h15v13h-15zM1399 1530h15v14h-15zM1414 978h14v13h-14zM1414 1130h14v14h-14zM1414 1461h14v14h-14zM1428 1268h15v14h-15zM1428 1337h15v14h-15zM1428 1434h15v14h-15zM1428 1530h15v14h-15zM1443 1213h14v13h-14zM1443 1240h14v14h-14zM1443 1254h14v14h-14zM1443 1309h14v14h-14zM1443 1365h14v13h-14zM1443 1489h14v14h-14zM1457 1213h15v13h-15zM1457 1627h15v14h-15zM1472 1323h14v14h-14zM1472 1448h14v13h-14zM1472 1461h14v14h-14zM1501 1226h14v14h-14zM1501 1309h14v14h-14zM1501 1365h14v13h-14zM1501 1696h14v14h-14zM1530 1448h14v13h-14zM1544 1074h15v14h-15zM1559 1074h14v14h-14zM1559 1226h14v14h-14zM1573 1268h15v14h-15zM1602 1337h15v14h-15zM1617 1171h14v14h-14zM1617 1254h14v14h-14zM1631 950h15v14h-15zM1631 1296h15v13h-15zM1631 1517h15v13h-15zM1646 1240h14v14h-14zM1646 1309h14v14h-14zM1646 1461h14v14h-14zM1660 1420h15v14h-15zM1675 1323h15v14h-15zM1719 1102h14v14h-14zM1719 1392h14v14h-14zM1762 1268h15v14h-15zM1777 1323h14v14h-14z"/><path fill="#084e5b" d="M355 1420h14v14h-14zM355 1724h14v14h-14zM369 1171h15v14h-15zM369 1365h15v13h-15zM369 1517h15v13h-15zM384 1461h14v14h-14zM398 1268h15v14h-15zM398 1517h15v13h-15zM398 1530h15v14h-15zM398 1600h15v13h-15zM398 1738h15v14h-15zM413 1448h14v13h-14zM413 1627h14v14h-14zM427 1696h15v14h-15zM442 1005h14v14h-14zM442 1185h14v14h-14zM442 1378h14v14h-14zM442 1600h14v13h-14zM456 1309h15v14h-15zM456 1420h15v14h-15zM485 1088h15v14h-15zM485 1641h15v14h-15zM485 1738h15v14h-15zM485 1765h15v14h-15zM500 1157h14v14h-14zM500 1171h14v14h-14zM500 1185h14v14h-14zM500 1282h14v14h-14zM500 1544h14v14h-14zM500 1821h14v13h-14zM514 1544h15v14h-15zM529 1116h14v14h-14zM529 1240h14v14h-14zM529 1337h14v14h-14zM529 1406h14v14h-14zM529 1627h14v14h-14zM529 1862h14v14h-14zM558 1130h14v14h-14zM572 1821h15v13h-15zM587 1157h14v14h-14zM601 1365h15v13h-15zM601 1406h15v14h-15zM601 1724h15v14h-15zM616 1779h14v14h-14zM630 1586h15v14h-15zM645 991h14v14h-14zM659 1088h15v14h-15zM659 1213h15v13h-15zM674 1710h14v14h-14zM703 1503h14v14h-14zM703 1793h14v14h-14zM703 1821h14v13h-14zM717 1848h15v14h-15zM732 1738h14v14h-14zM746 1268h15v14h-15zM746 1752h15v13h-15zM761 1351h14v14h-14zM761 1586h14v14h-14zM775 1102h15v14h-15zM775 1254h15v14h-15zM775 1558h15v14h-15zM790 1752h14v13h-14zM790 1779h14v14h-14zM790 1917h14v14h-14zM804 1102h15v14h-15zM804 1296h15v13h-15zM804 1572h15v14h-15zM819 1088h14v14h-14zM819 1268h14v14h-14zM819 1613h14v14h-14zM833 1406h15v14h-15zM877 1365h14v13h-14zM877 1434h14v14h-14zM877 1517h14v13h-14zM877 1807h14v14h-14zM877 1876h14v14h-14zM877 1973h14v14h-14zM891 1420h15v14h-15zM906 1475h14v14h-14zM906 1821h14v13h-14zM935 1199h15v14h-15zM935 1296h15v13h-15zM935 1461h15v14h-15zM935 1489h15v14h-15zM950 1199h14v14h-14zM950 1558h14v14h-14zM950 1807h14v14h-14zM964 1503h15v14h-15zM964 1627h15v14h-15zM979 1282h14v14h-14zM979 1503h14v14h-14zM993 1019h15v14h-15zM993 1144h15v13h-15zM993 1240h15v14h-15zM993 1503h15v14h-15zM993 1641h15v14h-15zM993 1862h15v14h-15zM1008 1102h14v14h-14zM1008 1323h14v14h-14zM1008 1738h14v14h-14zM1008 1807h14v14h-14zM1022 1074h15v14h-15zM1022 1213h15v13h-15zM1022 1558h15v14h-15zM1022 1655h15v14h-15zM1022 1945h15v14h-15zM1037 1544h14v14h-14zM1051 1517h15v13h-15zM1051 1572h15v14h-15zM1066 1461h14v14h-14zM1080 1268h15v14h-15zM1080 1296h15v13h-15zM1080 1489h15v14h-15zM1080 1669h15v13h-15zM1095 1226h14v14h-14zM1095 1475h14v14h-14zM1109 1323h15v14h-15zM1109 1378h15v14h-15zM1109 1696h15v14h-15zM1124 1116h14v14h-14zM1124 1337h14v14h-14zM1124 1448h14v13h-14zM1138 1102h15v14h-15zM1138 1558h15v14h-15zM1138 1586h15v14h-15zM1138 1724h15v14h-15zM1153 978h14v13h-14zM1153 1627h14v14h-14zM1167 1323h15v14h-15zM1167 1489h15v14h-15zM1182 1337h14v14h-14zM1182 1434h14v14h-14zM1196 1378h15v14h-15zM1196 1420h15v14h-15zM1211 1074h14v14h-14zM1211 1254h14v14h-14zM1211 1296h14v13h-14zM1211 1572h14v14h-14zM1211 1586h14v14h-14zM1225 1199h15v14h-15zM1225 1282h15v14h-15zM1225 1337h15v14h-15zM1225 1682h15v14h-15zM1240 1503h14v14h-14zM1283 1600h15v13h-15zM1298 1323h14v14h-14zM1312 1365h15v13h-15zM1312 1503h15v14h-15zM1327 1240h14v14h-14zM1341 1254h15v14h-15zM1370 1392h15v14h-15zM1385 1171h14v14h-14zM1385 1199h14v14h-14zM1399 1323h15v14h-15zM1399 1434h15v14h-15zM1414 1420h14v14h-14zM1457 1296h15v13h-15zM1472 1406h14v14h-14zM1472 1544h14v14h-14zM1486 1448h15v13h-15zM1501 1586h14v14h-14z"/><path fill="#143977" d="M355 1434h14v14h-14zM355 1544h14v14h-14zM369 1655h15v14h-15zM384 1296h14v13h-14zM398 1296h15v13h-15zM413 1171h14v14h-14zM413 1240h14v14h-14zM413 1351h14v14h-14zM413 1475h14v14h-14zM427 1296h15v13h-15zM427 1309h15v14h-15zM427 1365h15v13h-15zM427 1530h15v14h-15zM427 1613h15v14h-15zM427 1765h15v14h-15zM442 1475h14v14h-14zM442 1517h14v13h-14zM442 1710h14v14h-14zM442 1752h14v13h-14zM442 1862h14v14h-14zM456 1144h15v13h-15zM456 1185h15v14h-15zM456 1226h15v14h-15zM456 1378h15v14h-15zM456 1406h15v14h-15zM456 1461h15v14h-15zM456 1544h15v14h-15zM456 1807h15v14h-15zM471 1005h14v14h-14zM471 1627h14v14h-14zM471 1738h14v14h-14zM471 1793h14v14h-14zM485 1157h15v14h-15zM485 1254h15v14h-15zM485 1489h15v14h-15zM485 1807h15v14h-15zM500 1323h14v14h-14zM500 1738h14v14h-14zM514 1102h15v14h-15zM514 1572h15v14h-15zM529 1144h14v13h-14zM543 1047h15v14h-15zM543 1199h15v14h-15zM543 1378h15v14h-15zM543 1434h15v14h-15zM543 1696h15v14h-15zM558 1088h14v14h-14zM558 1185h14v14h-14zM558 1199h14v14h-14zM558 1544h14v14h-14zM572 1199h15v14h-15zM572 1378h15v14h-15zM572 1669h15v13h-15zM572 1682h15v14h-15zM587 1088h14v14h-14zM587 1669h14v13h-14zM601 1061h15v13h-15zM601 1144h15v13h-15zM601 1157h15v14h-15zM601 1309h15v14h-15zM601 1765h15v14h-15zM616 1019h14v14h-14zM616 1116h14v14h-14zM616 1309h14v14h-14zM616 1434h14v14h-14zM616 1696h14v14h-14zM616 1987h14v13h-14zM630 1420h15v14h-15zM630 1544h15v14h-15zM630 1862h15v14h-15zM645 1116h14v14h-14zM659 1061h15v13h-15zM659 1655h15v14h-15zM659 1669h15v13h-15zM659 1724h15v14h-15zM659 2000h15v14h-15zM674 1116h14v14h-14zM674 1448h14v13h-14zM688 1061h15v13h-15zM688 1088h15v14h-15zM688 1130h15v14h-15zM688 1420h15v14h-15zM703 1738h14v14h-14zM703 1834h14v14h-14zM717 991h15v14h-15zM717 1088h15v14h-15zM717 1102h15v14h-15zM717 1130h15v14h-15zM717 1779h15v14h-15zM746 1157h15v14h-15zM746 1226h15v14h-15zM761 1061h14v13h-14zM761 1226h14v14h-14zM775 1130h15v14h-15zM775 1226h15v14h-15zM775 1600h15v13h-15zM775 1641h15v14h-15zM790 1144h14v13h-14zM790 1240h14v14h-14zM790 1420h14v14h-14zM804 1005h15v14h-15zM804 1019h15v14h-15zM804 1061h15v13h-15zM804 1544h15v14h-15zM819 1144h14v13h-14zM819 1282h14v14h-14zM819 1503h14v14h-14zM819 1558h14v14h-14zM819 1572h14v14h-14zM819 1600h14v13h-14zM819 1793h14v14h-14zM833 1157h15v14h-15zM833 1282h15v14h-15zM833 1544h15v14h-15zM862 1116h15v14h-15zM862 1213h15v13h-15zM862 1448h15v13h-15zM862 1779h15v14h-15zM877 1530h14v14h-14zM891 1019h15v14h-15zM891 1448h15v13h-15zM906 991h14v14h-14zM906 1862h14v14h-14zM906 1904h14v13h-14zM920 1074h15v14h-15zM920 1226h15v14h-15zM920 1738h15v14h-15zM935 1655h15v14h-15zM950 1116h14v14h-14zM950 1185h14v14h-14zM950 1544h14v14h-14zM950 1752h14v13h-14zM964 1213h15v13h-15zM964 1309h15v14h-15zM964 1365h15v13h-15zM964 1600h15v13h-15zM964 1696h15v14h-15zM979 1268h14v14h-14zM979 1779h14v14h-14zM993 1074h15v14h-15zM993 1254h15v14h-15zM993 1268h15v14h-15zM993 1696h15v14h-15zM993 1710h15v14h-15zM1008 1033h14v14h-14zM1008 1144h14v13h-14zM1008 1351h14v14h-14zM1008 1586h14v14h-14zM1022 1309h15v14h-15zM1022 1365h15v13h-15zM1022 1503h15v14h-15zM1022 1544h15v14h-15zM1037 895h14v14h-14zM1037 1351h14v14h-14zM1037 1517h14v13h-14zM1037 1613h14v14h-14zM1051 1185h15v14h-15zM1051 1213h15v13h-15zM1051 1254h15v14h-15zM1051 1323h15v14h-15zM1051 1351h15v14h-15zM1051 1752h15v13h-15zM1066 1116h14v14h-14zM1066 1185h14v14h-14zM1066 1199h14v14h-14zM1066 1254h14v14h-14zM1066 1309h14v14h-14zM1066 1337h14v14h-14zM1080 1005h15v14h-15zM1080 1240h15v14h-15zM1080 1517h15v13h-15zM1080 1572h15v14h-15zM1080 1586h15v14h-15zM1095 1586h14v14h-14zM1095 1682h14v14h-14zM1109 1102h15v14h-15zM1109 1475h15v14h-15zM1109 1600h15v13h-15zM1109 1613h15v14h-15zM1109 1724h15v14h-15zM1124 1503h14v14h-14zM1138 1226h15v14h-15zM1153 1351h14v14h-14zM1167 1641h15v14h-15zM1167 1669h15v13h-15zM1182 1157h14v14h-14zM1182 1392h14v14h-14zM1196 1144h15v13h-15zM1196 1309h15v14h-15zM1196 1655h15v14h-15zM1211 1047h14v14h-14zM1211 1268h14v14h-14zM1211 1406h14v14h-14zM1211 1420h14v14h-14zM1225 1406h15v14h-15zM1225 1448h15v13h-15zM1225 1503h15v14h-15zM1269 1240h14v14h-14zM1269 1489h14v14h-14zM1312 1351h15v14h-15zM1327 1655h14v14h-14zM1341 1586h15v14h-15zM1341 1641h15v14h-15zM1356 1282h14v14h-14zM1356 1503h14v14h-14zM1356 1530h14v14h-14zM1370 1240h15v14h-15zM1385 1144h14v13h-14zM1414 1268h14v14h-14zM1428 1406h15v14h-15zM1457 1240h15v14h-15zM1472 1378h14v14h-14zM1486 1130h15v14h-15zM1631 1171h15v14h-15z"/><path fill="#663399" d="M355 1530h14v14h-14zM355 1613h14v14h-14zM355 1655h14v14h-14zM369 1337h15v14h-15zM384 1074h14v14h-14zM398 1005h15v14h-15zM413 991h14v14h-14zM413 1033h14v14h-14zM427 1005h15v14h-15zM427 1019h15v14h-15zM427 1144h15v13h-15zM427 1973h15v14h-15zM427 2042h15v14h-15zM442 909h14v13h-14zM442 1973h14v14h-14zM456 950h15v14h-15zM471 1047h14v14h-14zM471 1821h14v13h-14zM471 1904h14v13h-14zM485 991h15v14h-15zM485 1945h15v14h-15zM500 950h14v14h-14zM500 1033h14v14h-14zM500 1904h14v13h-14zM514 1005h15v14h-15zM514 1047h15v14h-15zM514 1945h15v14h-15zM514 1959h15v14h-15zM529 1005h14v14h-14zM529 1973h14v14h-14zM529 2125h14v14h-14zM543 2042h15v14h-15zM558 936h14v14h-14zM558 950h14v14h-14zM558 1931h14v14h-14zM558 2014h14v14h-14zM572 1973h15v14h-15zM587 936h14v14h-14zM601 1876h15v14h-15zM616 978h14v13h-14zM616 1005h14v14h-14zM630 1033h15v14h-15zM645 1019h14v14h-14zM645 1102h14v14h-14zM659 812h15v14h-15zM659 950h15v14h-15zM674 964h14v14h-14zM674 978h14v13h-14zM674 1005h14v14h-14zM703 839h14v14h-14zM717 964h15v14h-15zM717 1061h15v13h-15zM732 839h14v14h-14zM746 812h15v14h-15zM746 895h15v14h-15zM746 1033h15v14h-15zM761 978h14v13h-14zM761 1876h14v14h-14zM775 950h15v14h-15zM775 964h15v14h-15zM790 839h14v14h-14zM790 1834h14v14h-14zM804 936h15v14h-15zM848 1033h14v14h-14zM862 909h15v13h-15zM862 950h15v14h-15zM862 1005h15v14h-15zM877 922h14v14h-14zM877 1019h14v14h-14zM950 909h14v13h-14zM950 978h14v13h-14zM964 1752h15v13h-15zM993 1005h15v14h-15zM993 1669h15v13h-15zM1008 978h14v13h-14zM1022 1807h15v14h-15zM1037 1005h14v14h-14zM1051 1005h15v14h-15zM1066 867h14v14h-14zM1095 1655h14v14h-14zM1095 1738h14v14h-14zM1095 1752h14v13h-14zM1138 1033h15v14h-15zM1138 1613h15v14h-15zM1153 1130h14v14h-14zM1167 1600h15v13h-15zM1167 1710h15v14h-15zM1211 1475h14v14h-14zM1240 1323h14v14h-14zM1254 1641h15v14h-15zM1254 1696h15v14h-15zM1269 1102h14v14h-14zM1269 1296h14v13h-14zM1298 1613h14v14h-14zM1327 1033h14v14h-14zM1341 1102h15v14h-15zM1341 1682h15v14h-15zM1385 1392h14v14h-14z"/><path fill="#1f387b" d="M355 1710h14v14h-14zM369 1323h15v14h-15zM384 1033h14v14h-14zM384 1157h14v14h-14zM384 1406h14v14h-14zM384 1503h14v14h-14zM398 1351h15v14h-15zM398 1655h15v14h-15zM398 1752h15v13h-15zM413 1420h14v14h-14zM427 1130h15v14h-15zM427 1682h15v14h-15zM427 1793h15v14h-15zM442 1061h14v13h-14zM442 1088h14v14h-14zM442 1130h14v14h-14zM442 1406h14v14h-14zM456 1696h15v14h-15zM500 1406h14v14h-14zM500 1890h14v14h-14zM514 991h15v14h-15zM543 991h15v14h-15zM543 1061h15v13h-15zM543 1185h15v14h-15zM543 1710h15v14h-15zM543 2125h15v14h-15zM572 1088h15v14h-15zM616 1199h14v14h-14zM616 1213h14v13h-14zM645 1876h14v14h-14zM645 1931h14v14h-14zM659 1890h15v14h-15zM674 1061h14v13h-14zM674 1254h14v14h-14zM674 1627h14v14h-14zM688 1793h15v14h-15zM703 978h14v13h-14zM717 1144h15v13h-15zM717 1807h15v14h-15zM732 895h14v14h-14zM746 1669h15v13h-15zM761 1144h14v13h-14zM761 1641h14v14h-14zM775 1157h15v14h-15zM775 1171h15v14h-15zM790 1696h14v14h-14zM819 1171h14v14h-14zM833 1268h15v14h-15zM833 1613h15v14h-15zM833 1627h15v14h-15zM862 1088h15v14h-15zM877 1862h14v14h-14zM906 1157h14v14h-14zM906 1240h14v14h-14zM920 1033h15v14h-15zM920 1268h15v14h-15zM920 1655h15v14h-15zM920 1876h15v14h-15zM979 1296h14v13h-14zM993 1296h15v13h-15zM993 1752h15v13h-15zM1008 1171h14v14h-14zM1051 1116h15v14h-15zM1066 1171h14v14h-14zM1066 1475h14v14h-14zM1080 1710h15v14h-15zM1095 1185h14v14h-14zM1109 1309h15v14h-15zM1109 1669h15v13h-15zM1124 1655h14v14h-14zM1138 1710h15v14h-15zM1153 1213h14v13h-14zM1153 1682h14v14h-14zM1196 1171h15v14h-15zM1196 1240h15v14h-15zM1196 1530h15v14h-15zM1196 1613h15v14h-15zM1211 1323h14v14h-14zM1211 1392h14v14h-14zM1225 1365h15v13h-15zM1240 1600h14v13h-14zM1254 1130h15v14h-15zM1370 1157h15v14h-15zM1370 1213h15v13h-15zM1428 1226h15v14h-15zM1530 1406h14v14h-14z"/><path fill="#187339" d="M355 1917h14v14h-14zM413 1655h14v14h-14zM471 1779h14v14h-14zM543 1876h15v14h-15zM558 1793h14v14h-14zM601 1973h15v14h-15zM674 1862h14v14h-14zM688 1821h15v13h-15zM746 1904h15v13h-15zM790 1959h14v14h-14zM819 1821h14v13h-14zM833 1047h15v14h-15zM833 2097h15v14h-15zM848 1876h14v14h-14zM877 2000h14v14h-14zM891 1959h15v14h-15zM920 2042h15v14h-15zM993 1033h15v14h-15zM1008 909h14v13h-14zM1008 1088h14v14h-14zM1080 1779h15v14h-15zM1109 1171h15v14h-15zM1225 1061h15v13h-15zM1225 1572h15v14h-15zM1254 1102h15v14h-15zM1298 1102h14v14h-14zM1312 1226h15v14h-15zM1327 1171h14v14h-14zM1356 1613h14v14h-14zM1370 1627h15v14h-15zM1385 1530h14v14h-14zM1428 1171h15v14h-15zM1486 1517h15v13h-15zM1501 1378h14v14h-14zM1559 1434h14v14h-14zM1602 1226h15v14h-15zM1733 1392h15v14h-15zM1777 1185h14v14h-14z"/><path fill="#383686" d="M369 1005h15v14h-15zM369 1461h15v14h-15zM369 1876h15v14h-15zM456 1710h15v14h-15zM456 1848h15v14h-15zM471 1061h14v13h-14zM471 1765h14v14h-14zM500 1005h14v14h-14zM500 1061h14v13h-14zM500 1682h14v14h-14zM514 1116h15v14h-15zM529 1088h14v14h-14zM543 1904h15v13h-15zM572 1074h15v14h-15zM587 1973h14v14h-14zM616 1765h14v14h-14zM630 1876h15v14h-15zM674 1807h14v14h-14zM688 991h15v14h-15zM703 867h14v14h-14zM717 2097h15v14h-15zM732 1019h14v14h-14zM746 1074h15v14h-15zM775 991h15v14h-15zM819 1047h14v14h-14zM862 895h15v14h-15zM862 1061h15v13h-15zM891 1765h15v14h-15zM906 1779h14v14h-14zM920 1088h15v14h-15zM935 1682h15v14h-15zM1008 1309h14v14h-14zM1153 1019h14v14h-14zM1153 1669h14v13h-14zM1167 1033h15v14h-15zM1182 1793h14v14h-14zM1196 1365h15v13h-15zM1211 867h14v14h-14zM1211 1199h14v14h-14zM1211 1724h14v14h-14zM1240 1116h14v14h-14zM1240 1434h14v14h-14zM1254 1378h15v14h-15zM1283 1144h15v13h-15zM1298 1185h14v14h-14zM1399 1005h15v14h-15zM1501 1461h14v14h-14z"/><path fill="#208726" d="M369 1102h15v14h-15zM674 1931h14v14h-14zM688 1931h15v14h-15zM703 1890h14v14h-14zM833 1765h15v14h-15zM877 1848h14v14h-14zM1037 1696h14v14h-14zM1066 1807h14v14h-14zM1109 1047h15v14h-15zM1225 1475h15v14h-15zM1254 1226h15v14h-15zM1414 1351h14v14h-14zM1443 1019h14v14h-14zM1631 1088h15v14h-15z"/><path fill="#146b40" d="M369 1116h15v14h-15zM384 1517h14v13h-14zM514 964h15v14h-15zM543 1973h15v14h-15zM616 1821h14v13h-14zM659 1793h15v14h-15zM674 1876h14v14h-14zM674 1917h14v14h-14zM674 1973h14v14h-14zM688 1779h15v14h-15zM717 1821h15v13h-15zM717 1973h15v14h-15zM732 1834h14v14h-14zM775 2111h15v14h-15zM790 1821h14v13h-14zM819 1890h14v14h-14zM891 2069h15v14h-15zM891 2097h15v14h-15zM950 1917h14v14h-14zM1051 1738h15v14h-15zM1124 1088h14v14h-14zM1124 1130h14v14h-14zM1138 1047h15v14h-15zM1138 1779h15v14h-15zM1167 1738h15v14h-15zM1225 1323h15v14h-15zM1269 1586h14v14h-14zM1269 1641h14v14h-14zM1283 1116h15v14h-15zM1283 1157h15v14h-15zM1283 1351h15v14h-15zM1283 1572h15v14h-15zM1341 1544h15v14h-15zM1356 1226h14v14h-14zM1370 1323h15v14h-15zM1370 1503h15v14h-15zM1385 1268h14v14h-14zM1428 1448h15v13h-15zM1443 1282h14v14h-14zM1486 1309h15v14h-15zM1544 1434h15v14h-15z"/><path fill="#3d3688" d="M369 1144h15v13h-15zM369 1586h15v14h-15zM398 964h15v14h-15zM398 1779h15v14h-15zM413 2000h14v14h-14zM471 1931h14v14h-14zM500 1834h14v14h-14zM514 1157h15v14h-15zM529 1033h14v14h-14zM529 1821h14v13h-14zM558 2069h14v14h-14zM572 1959h15v14h-15zM630 991h15v14h-15zM630 1019h15v14h-15zM703 991h14v14h-14zM775 1033h15v14h-15zM833 991h15v14h-15zM833 1061h15v13h-15zM891 1116h15v14h-15zM979 1738h14v14h-14zM993 1807h15v14h-15zM1051 1157h15v14h-15zM1066 1157h14v14h-14zM1182 1033h14v14h-14zM1196 1475h15v14h-15zM1254 1033h15v14h-15zM1298 1600h14v13h-14zM1356 1420h14v14h-14z"/><path fill="#1b7b31" d="M369 1199h15v14h-15zM384 1144h14v13h-14zM398 1821h15v13h-15zM427 1821h15v13h-15zM442 1047h14v14h-14zM630 1987h15v13h-15zM703 1848h14v14h-14zM717 1931h15v14h-15zM732 1890h14v14h-14zM775 1890h15v14h-15zM790 2042h14v14h-14zM920 1945h15v14h-15zM935 1834h15v14h-15zM964 1807h15v14h-15zM1095 1627h14v14h-14zM1167 909h15v13h-15zM1182 1199h14v14h-14zM1182 1738h14v14h-14zM1211 1171h14v14h-14zM1254 1365h15v13h-15zM1269 1226h14v14h-14zM1269 1406h14v14h-14zM1312 1378h15v14h-15zM1356 1600h14v13h-14zM1385 1517h14v13h-14zM1399 1268h15v14h-15zM1399 1309h15v14h-15zM1443 1144h14v13h-14zM1457 1323h15v14h-15zM1486 1544h15v14h-15zM1675 1392h15v14h-15z"/><path fill="#053a70" d="M369 1213h15v13h-15zM369 1420h15v14h-15zM384 991h14v14h-14zM384 1475h14v14h-14zM398 1213h15v13h-15zM398 1558h15v14h-15zM413 1061h14v13h-14zM413 1088h14v14h-14zM413 1282h14v14h-14zM413 1337h14v14h-14zM413 1503h14v14h-14zM413 1613h14v14h-14zM427 1157h15v14h-15zM427 1226h15v14h-15zM427 1240h15v14h-15zM427 1337h15v14h-15zM427 1461h15v14h-15zM427 1503h15v14h-15zM427 1586h15v14h-15zM427 1724h15v14h-15zM442 1116h14v14h-14zM442 1448h14v13h-14zM442 1503h14v14h-14zM442 1544h14v14h-14zM456 1157h15v14h-15zM456 1254h15v14h-15zM456 1282h15v14h-15zM456 1296h15v13h-15zM456 1448h15v13h-15zM456 1475h15v14h-15zM456 1503h15v14h-15zM456 1517h15v13h-15zM456 1724h15v14h-15zM471 1102h14v14h-14zM471 1434h14v14h-14zM485 1144h15v13h-15zM485 1171h15v14h-15zM485 1199h15v14h-15zM485 1240h15v14h-15zM485 1696h15v14h-15zM500 1144h14v13h-14zM500 1309h14v14h-14zM500 1392h14v14h-14zM500 1627h14v14h-14zM500 1765h14v14h-14zM500 1848h14v14h-14zM514 1185h15v14h-15zM514 1254h15v14h-15zM514 1420h15v14h-15zM514 1558h15v14h-15zM514 1627h15v14h-15zM529 1074h14v14h-14zM529 1296h14v13h-14zM529 1420h14v14h-14zM529 1489h14v14h-14zM529 1600h14v13h-14zM529 1655h14v14h-14zM529 1669h14v13h-14zM529 1752h14v13h-14zM543 1130h15v14h-15zM543 1296h15v13h-15zM543 1351h15v14h-15zM543 1503h15v14h-15zM543 1724h15v14h-15zM558 1144h14v13h-14zM558 1157h14v14h-14zM558 1171h14v14h-14zM558 1530h14v14h-14zM558 1682h14v14h-14zM558 1765h14v14h-14zM572 1171h15v14h-15zM572 1213h15v13h-15zM572 1420h15v14h-15zM572 1530h15v14h-15zM572 1627h15v14h-15zM572 1752h15v13h-15zM587 1130h14v14h-14zM587 1171h14v14h-14zM587 1226h14v14h-14zM587 1268h14v14h-14zM587 1351h14v14h-14zM587 1530h14v14h-14zM587 1586h14v14h-14zM587 1627h14v14h-14zM587 1641h14v14h-14zM587 1724h14v14h-14zM601 1130h15v14h-15zM601 1171h15v14h-15zM601 1213h15v13h-15zM601 1296h15v13h-15zM601 1420h15v14h-15zM601 1448h15v13h-15zM601 1530h15v14h-15zM601 1572h15v14h-15zM601 1696h15v14h-15zM616 909h14v13h-14zM616 1157h14v14h-14zM616 1351h14v14h-14zM616 1378h14v14h-14zM616 1392h14v14h-14zM616 1406h14v14h-14zM616 1461h14v14h-14zM616 1475h14v14h-14zM616 1489h14v14h-14zM616 1572h14v14h-14zM616 1862h14v14h-14zM630 1461h15v14h-15zM630 1710h15v14h-15zM645 1296h14v13h-14zM645 1365h14v13h-14zM645 1434h14v14h-14zM645 1448h14v13h-14zM645 1641h14v14h-14zM645 1696h14v14h-14zM659 1199h15v14h-15zM659 1337h15v14h-15zM659 1392h15v14h-15zM659 1406h15v14h-15zM659 1489h15v14h-15zM659 1503h15v14h-15zM659 1848h15v14h-15zM674 1157h14v14h-14zM674 1268h14v14h-14zM674 1351h14v14h-14zM674 1365h14v13h-14zM674 1420h14v14h-14zM674 1558h14v14h-14zM674 1600h14v13h-14zM688 1171h15v14h-15zM688 1309h15v14h-15zM688 1406h15v14h-15zM688 1461h15v14h-15zM688 1544h15v14h-15zM688 1586h15v14h-15zM688 1724h15v14h-15zM688 1752h15v13h-15zM703 1130h14v14h-14zM703 1144h14v13h-14zM703 1157h14v14h-14zM703 1296h14v13h-14zM703 1406h14v14h-14zM703 1586h14v14h-14zM703 1724h14v14h-14zM717 978h15v13h-15zM717 1254h15v14h-15zM717 1282h15v14h-15zM717 1365h15v13h-15zM717 1378h15v14h-15zM717 1420h15v14h-15zM717 1461h15v14h-15zM717 1544h15v14h-15zM717 1613h15v14h-15zM717 1627h15v14h-15zM732 1005h14v14h-14zM732 1144h14v13h-14zM732 1213h14v13h-14zM732 1323h14v14h-14zM732 1434h14v14h-14zM732 1475h14v14h-14zM732 1600h14v13h-14zM732 1613h14v14h-14zM732 1655h14v14h-14zM732 1752h14v13h-14zM746 1130h15v14h-15zM746 1337h15v14h-15zM746 1392h15v14h-15zM746 1434h15v14h-15zM746 1544h15v14h-15zM746 1586h15v14h-15zM746 1613h15v14h-15zM761 1019h14v14h-14zM761 1102h14v14h-14zM761 1406h14v14h-14zM761 1420h14v14h-14zM761 1434h14v14h-14zM761 1461h14v14h-14zM761 1696h14v14h-14zM775 1088h15v14h-15zM775 1199h15v14h-15zM775 1337h15v14h-15zM775 1365h15v13h-15zM775 1448h15v13h-15zM775 1489h15v14h-15zM775 1752h15v13h-15zM775 1765h15v14h-15zM775 1793h15v14h-15zM790 1033h14v14h-14zM790 1116h14v14h-14zM790 1213h14v13h-14zM790 1226h14v14h-14zM790 1254h14v14h-14zM790 1309h14v14h-14zM790 1323h14v14h-14zM790 1337h14v14h-14zM790 1365h14v13h-14zM790 1434h14v14h-14zM790 1461h14v14h-14zM790 1517h14v13h-14zM790 1544h14v14h-14zM790 1641h14v14h-14zM804 1116h15v14h-15zM804 1130h15v14h-15zM804 1240h15v14h-15zM804 1254h15v14h-15zM804 1268h15v14h-15zM804 1406h15v14h-15zM804 1420h15v14h-15zM804 1434h15v14h-15zM804 1530h15v14h-15zM804 1793h15v14h-15zM804 1834h15v14h-15zM819 1226h14v14h-14zM819 1296h14v13h-14zM819 1323h14v14h-14zM819 1475h14v14h-14zM819 1489h14v14h-14zM819 1517h14v13h-14zM819 1862h14v14h-14zM819 2014h14v14h-14zM833 1088h15v14h-15zM833 1600h15v13h-15zM833 1669h15v13h-15zM833 1862h15v14h-15zM848 1144h14v13h-14zM848 1226h14v14h-14zM848 1309h14v14h-14zM848 1489h14v14h-14zM848 1586h14v14h-14zM848 1655h14v14h-14zM862 1309h15v14h-15zM862 1503h15v14h-15zM862 1696h15v14h-15zM862 1738h15v14h-15zM877 1185h14v14h-14zM877 1282h14v14h-14zM877 1296h14v13h-14zM877 1392h14v14h-14zM877 1420h14v14h-14zM877 1503h14v14h-14zM877 1793h14v14h-14zM891 1185h15v14h-15zM891 1199h15v14h-15zM891 1296h15v13h-15zM891 1351h15v14h-15zM891 1365h15v13h-15zM891 1406h15v14h-15zM891 1517h15v13h-15zM891 1586h15v14h-15zM891 1613h15v14h-15zM891 1682h15v14h-15zM891 1779h15v14h-15zM891 1834h15v14h-15zM891 1848h15v14h-15zM906 1074h14v14h-14zM906 1130h14v14h-14zM906 1213h14v13h-14zM906 1365h14v13h-14zM906 1392h14v14h-14zM906 1572h14v14h-14zM906 1600h14v13h-14zM906 1669h14v13h-14zM906 1793h14v14h-14zM920 1019h15v14h-15zM920 1240h15v14h-15zM920 1406h15v14h-15zM920 1752h15v13h-15zM935 1005h15v14h-15zM935 1254h15v14h-15zM935 1392h15v14h-15zM935 1420h15v14h-15zM935 1627h15v14h-15zM950 1005h14v14h-14zM950 1033h14v14h-14zM950 1268h14v14h-14zM950 1434h14v14h-14zM950 1517h14v13h-14zM950 1530h14v14h-14zM950 1572h14v14h-14zM964 1185h15v14h-15zM964 1392h15v14h-15zM964 1489h15v14h-15zM964 1530h15v14h-15zM964 1917h15v14h-15zM979 1088h14v14h-14zM979 1240h14v14h-14zM979 1351h14v14h-14zM979 1544h14v14h-14zM979 1669h14v13h-14zM993 1157h15v14h-15zM993 1199h15v14h-15zM993 1448h15v13h-15zM993 1475h15v14h-15zM1008 1461h14v14h-14zM1022 1240h15v14h-15zM1022 1351h15v14h-15zM1022 1406h15v14h-15zM1022 1600h15v13h-15zM1022 1641h15v14h-15zM1022 1752h15v13h-15zM1037 1254h14v14h-14zM1037 1503h14v14h-14zM1037 1600h14v13h-14zM1051 1088h15v14h-15zM1051 1240h15v14h-15zM1051 1641h15v14h-15zM1066 1226h14v14h-14zM1066 1240h14v14h-14zM1066 1420h14v14h-14zM1066 1503h14v14h-14zM1080 1171h15v14h-15zM1080 1309h15v14h-15zM1080 1337h15v14h-15zM1080 1420h15v14h-15zM1080 1434h15v14h-15zM1080 1448h15v13h-15zM1080 1627h15v14h-15zM1095 1171h14v14h-14zM1095 1351h14v14h-14zM1095 1489h14v14h-14zM1109 1351h15v14h-15zM1109 1392h15v14h-15zM1109 1793h15v14h-15zM1124 1171h14v14h-14zM1124 1434h14v14h-14zM1124 1530h14v14h-14zM1124 1641h14v14h-14zM1124 1682h14v14h-14zM1138 1351h15v14h-15zM1138 1641h15v14h-15zM1153 1116h14v14h-14zM1153 1392h14v14h-14zM1153 1448h14v13h-14zM1153 1461h14v14h-14zM1167 1199h15v14h-15zM1167 1309h15v14h-15zM1167 1406h15v14h-15zM1182 1144h14v13h-14zM1211 1102h14v14h-14zM1211 1378h14v14h-14zM1225 1530h15v14h-15zM1240 1005h14v14h-14zM1240 1351h14v14h-14zM1240 1365h14v13h-14zM1240 1489h14v14h-14zM1254 1144h15v13h-15zM1254 1185h15v14h-15zM1283 1448h15v13h-15zM1298 1309h14v14h-14zM1298 1821h14v13h-14zM1312 1185h15v14h-15zM1312 1213h15v13h-15zM1312 1641h15v14h-15zM1341 1268h15v14h-15zM1356 1378h14v14h-14zM1385 1254h14v14h-14zM1385 1600h14v13h-14zM1414 1296h14v13h-14zM1443 1157h14v14h-14zM1443 1517h14v13h-14zM1472 1240h14v14h-14zM1472 1489h14v14h-14z"/><path fill="#1a3879" d="M369 1240h15v14h-15zM369 1378h15v14h-15zM369 1544h15v14h-15zM384 1282h14v14h-14zM384 1724h14v14h-14zM398 936h15v14h-15zM398 1641h15v14h-15zM398 1696h15v14h-15zM413 1641h14v14h-14zM413 1669h14v13h-14zM442 1171h14v14h-14zM442 1199h14v14h-14zM442 1682h14v14h-14zM456 1130h15v14h-15zM456 1171h15v14h-15zM456 1586h15v14h-15zM471 1088h14v14h-14zM471 1669h14v13h-14zM485 978h15v13h-15zM485 1116h15v14h-15zM500 1088h14v14h-14zM500 1793h14v14h-14zM500 1876h14v14h-14zM514 1088h15v14h-15zM514 1378h15v14h-15zM514 1821h15v13h-15zM529 1213h14v13h-14zM529 1696h14v14h-14zM529 1724h14v14h-14zM529 1738h14v14h-14zM529 1807h14v14h-14zM558 1475h14v14h-14zM587 1434h14v14h-14zM587 1779h14v14h-14zM587 1834h14v14h-14zM601 1088h15v14h-15zM601 1185h15v14h-15zM601 1752h15v13h-15zM601 1917h15v14h-15zM601 2042h15v14h-15zM616 1074h14v14h-14zM616 1130h14v14h-14zM616 1226h14v14h-14zM616 1600h14v13h-14zM630 1613h15v14h-15zM645 1047h14v14h-14zM645 1558h14v14h-14zM645 1600h14v13h-14zM659 1033h15v14h-15zM659 1171h15v14h-15zM659 1987h15v13h-15zM674 991h14v14h-14zM674 1130h14v14h-14zM674 1461h14v14h-14zM674 1834h14v14h-14zM688 1185h15v14h-15zM688 1530h15v14h-15zM703 936h14v14h-14zM703 1710h14v14h-14zM717 1641h15v14h-15zM732 1130h14v14h-14zM732 1420h14v14h-14zM746 1475h15v14h-15zM761 1047h14v14h-14zM775 1420h15v14h-15zM790 895h14v14h-14zM790 1061h14v13h-14zM804 1144h15v13h-15zM819 1074h14v14h-14zM819 1351h14v14h-14zM833 1558h15v14h-15zM862 1226h15v14h-15zM862 1586h15v14h-15zM877 1144h14v13h-14zM877 1226h14v14h-14zM877 1572h14v14h-14zM877 1641h14v14h-14zM877 1696h14v14h-14zM891 1157h15v14h-15zM891 1434h15v14h-15zM906 1171h14v14h-14zM906 1613h14v14h-14zM920 1144h15v13h-15zM920 1392h15v14h-15zM920 1420h15v14h-15zM920 1641h15v14h-15zM935 1448h15v13h-15zM935 1572h15v14h-15zM935 1807h15v14h-15zM935 1973h15v14h-15zM950 1130h14v14h-14zM950 1157h14v14h-14zM964 1033h15v14h-15zM964 1240h15v14h-15zM964 1461h15v14h-15zM979 1171h14v14h-14zM979 1682h14v14h-14zM993 1779h15v14h-15zM1008 1157h14v14h-14zM1008 1420h14v14h-14zM1008 1434h14v14h-14zM1022 1102h15v14h-15zM1022 1116h15v14h-15zM1022 1171h15v14h-15zM1022 1793h15v14h-15zM1037 1337h14v14h-14zM1037 1669h14v13h-14zM1051 1130h15v14h-15zM1051 1337h15v14h-15zM1051 1434h15v14h-15zM1051 1448h15v13h-15zM1066 1655h14v14h-14zM1095 1696h14v14h-14zM1109 1282h15v14h-15zM1109 1461h15v14h-15zM1109 1530h15v14h-15zM1124 1489h14v14h-14zM1138 1268h15v14h-15zM1138 1296h15v13h-15zM1138 1406h15v14h-15zM1167 1420h15v14h-15zM1167 1572h15v14h-15zM1182 1489h14v14h-14zM1196 1282h15v14h-15zM1225 1171h15v14h-15zM1225 1461h15v14h-15zM1225 1600h15v13h-15zM1240 1420h14v14h-14zM1254 1834h15v14h-15zM1269 1282h14v14h-14zM1269 1323h14v14h-14zM1283 1282h15v14h-15zM1298 1296h14v13h-14zM1298 1337h14v14h-14zM1356 1102h14v14h-14zM1356 1296h14v13h-14zM1370 1434h15v14h-15zM1370 1517h15v13h-15zM1370 1544h15v14h-15zM1414 1448h14v13h-14zM1414 1517h14v13h-14zM1486 1530h15v14h-15zM1631 1337h15v14h-15zM1675 1461h15v14h-15zM1719 1130h14v14h-14z"/><path fill="#136744" d="M369 1309h15v14h-15zM369 1738h15v14h-15zM413 1848h14v14h-14zM456 1641h15v14h-15zM630 1074h15v14h-15zM674 1821h14v13h-14zM674 1959h14v14h-14zM674 2125h14v14h-14zM703 1931h14v14h-14zM703 1945h14v14h-14zM717 1876h15v14h-15zM761 1779h14v14h-14zM761 1821h14v13h-14zM775 1710h15v14h-15zM775 2028h15v14h-15zM804 1738h15v14h-15zM804 1752h15v13h-15zM833 1821h15v13h-15zM848 1959h14v14h-14zM877 2125h14v14h-14zM906 1834h14v14h-14zM950 1724h14v14h-14zM950 1848h14v14h-14zM979 1765h14v14h-14zM979 1834h14v14h-14zM993 1765h15v14h-15zM1008 1724h14v14h-14zM1037 1116h14v14h-14zM1051 1765h15v14h-15zM1066 1669h14v13h-14zM1066 1696h14v14h-14zM1109 1627h15v14h-15zM1109 1752h15v13h-15zM1124 1061h14v13h-14zM1124 1392h14v14h-14zM1167 1130h15v14h-15zM1167 1171h15v14h-15zM1182 1171h14v14h-14zM1225 1655h15v14h-15zM1240 1586h14v14h-14zM1254 1337h15v14h-15zM1254 1738h15v14h-15zM1283 1240h15v14h-15zM1283 1254h15v14h-15zM1298 1503h14v14h-14zM1312 1033h15v14h-15zM1312 1130h15v14h-15zM1341 1406h15v14h-15zM1341 1558h15v14h-15zM1370 1199h15v14h-15zM1370 1254h15v14h-15zM1370 1489h15v14h-15zM1370 1572h15v14h-15zM1472 1199h14v14h-14zM1530 1199h14v14h-14z"/><path fill="#573493" d="M369 1351h15v14h-15zM369 1710h15v14h-15zM413 1600h14v13h-14zM500 2111h14v14h-14zM558 1945h14v14h-14zM558 1987h14v13h-14zM616 895h14v14h-14zM717 1019h15v14h-15zM732 1047h14v14h-14zM790 1005h14v14h-14zM790 1019h14v14h-14zM950 1793h14v14h-14zM1022 1130h15v14h-15zM1167 1102h15v14h-15zM1182 1765h14v14h-14zM1675 1365h15v13h-15z"/><path fill="#0a5257" d="M369 1392h15v14h-15zM384 1061h14v13h-14zM384 1199h14v14h-14zM384 1848h14v14h-14zM398 1171h15v14h-15zM398 1682h15v14h-15zM413 1517h14v13h-14zM442 1323h14v14h-14zM456 1600h15v13h-15zM456 1973h15v14h-15zM471 1558h14v14h-14zM485 1586h15v14h-15zM485 1821h15v13h-15zM485 1834h15v14h-15zM500 1779h14v14h-14zM529 1503h14v14h-14zM529 1613h14v14h-14zM543 1116h15v14h-15zM543 1392h15v14h-15zM543 1765h15v14h-15zM558 1337h14v14h-14zM601 1254h15v14h-15zM601 1821h15v13h-15zM616 1807h14v14h-14zM630 1144h15v13h-15zM630 1185h15v14h-15zM645 1655h14v14h-14zM645 1738h14v14h-14zM645 1862h14v14h-14zM659 1834h15v14h-15zM674 1074h14v14h-14zM674 1171h14v14h-14zM674 1696h14v14h-14zM674 1724h14v14h-14zM674 1793h14v14h-14zM688 798h15v14h-15zM688 1600h15v13h-15zM688 1807h15v14h-15zM703 1682h14v14h-14zM717 1834h15v14h-15zM732 1033h14v14h-14zM746 1738h15v14h-15zM761 1682h14v14h-14zM775 1240h15v14h-15zM775 1586h15v14h-15zM775 1613h15v14h-15zM775 1834h15v14h-15zM775 2056h15v13h-15zM804 1185h15v14h-15zM804 1710h15v14h-15zM804 1765h15v14h-15zM819 1627h14v14h-14zM819 1655h14v14h-14zM833 1116h15v14h-15zM833 1130h15v14h-15zM848 1461h14v14h-14zM848 1738h14v14h-14zM848 1807h14v14h-14zM848 1821h14v13h-14zM862 2000h15v14h-15zM877 1116h14v14h-14zM877 1821h14v13h-14zM891 1544h15v14h-15zM920 1627h15v14h-15zM935 1185h15v14h-15zM935 1613h15v14h-15zM950 1503h14v14h-14zM950 1765h14v14h-14zM950 1779h14v14h-14zM964 1019h15v14h-15zM964 1544h15v14h-15zM964 1793h15v14h-15zM979 1420h14v14h-14zM993 1282h15v14h-15zM993 1365h15v13h-15zM993 1489h15v14h-15zM993 1517h15v13h-15zM993 1821h15v13h-15zM1022 1530h15v14h-15zM1037 1268h14v14h-14zM1037 1530h14v14h-14zM1037 1572h14v14h-14zM1037 1752h14v13h-14zM1051 1019h15v14h-15zM1051 1226h15v14h-15zM1051 1503h15v14h-15zM1066 1406h14v14h-14zM1066 1448h14v13h-14zM1066 1600h14v13h-14zM1066 1834h14v14h-14zM1080 1323h15v14h-15zM1080 1641h15v14h-15zM1095 1130h14v14h-14zM1095 1309h14v14h-14zM1095 1779h14v14h-14zM1109 1572h15v14h-15zM1109 1779h15v14h-15zM1124 1586h14v14h-14zM1153 1074h14v14h-14zM1153 1240h14v14h-14zM1153 1378h14v14h-14zM1153 1530h14v14h-14zM1153 1558h14v14h-14zM1153 1572h14v14h-14zM1167 1254h15v14h-15zM1167 1337h15v14h-15zM1182 1185h14v14h-14zM1182 1213h14v13h-14zM1182 1600h14v13h-14zM1211 1213h14v13h-14zM1211 1489h14v14h-14zM1225 1434h15v14h-15zM1240 1641h14v14h-14zM1240 1793h14v14h-14zM1254 1074h15v14h-15zM1269 1088h14v14h-14zM1269 1199h14v14h-14zM1269 1309h14v14h-14zM1298 1738h14v14h-14zM1312 1282h15v14h-15zM1312 1489h15v14h-15zM1312 1517h15v13h-15zM1327 1185h14v14h-14zM1356 1254h14v14h-14zM1356 1309h14v14h-14zM1356 1572h14v14h-14zM1370 1282h15v14h-15zM1370 1378h15v14h-15zM1370 1448h15v13h-15zM1399 1378h15v14h-15zM1399 1392h15v14h-15zM1399 1461h15v14h-15zM1414 1254h14v14h-14zM1428 1254h15v14h-15zM1443 1102h14v14h-14zM1457 1088h15v14h-15zM1472 1102h14v14h-14zM1544 1296h15v13h-15zM1544 1323h15v14h-15z"/><path fill="#0a3972" d="M369 1406h15v14h-15zM369 1724h15v14h-15zM384 1323h14v14h-14zM384 1738h14v14h-14zM384 1807h14v14h-14zM398 1033h15v14h-15zM398 1420h15v14h-15zM398 1448h15v13h-15zM413 1296h14v13h-14zM413 1406h14v14h-14zM427 1116h15v14h-15zM427 1475h15v14h-15zM427 1517h15v13h-15zM427 1544h15v14h-15zM442 964h14v14h-14zM442 1102h14v14h-14zM442 1613h14v14h-14zM442 1669h14v13h-14zM456 1116h15v14h-15zM456 1365h15v13h-15zM456 1669h15v13h-15zM471 1116h14v14h-14zM471 1254h14v14h-14zM471 1309h14v14h-14zM471 1378h14v14h-14zM471 1544h14v14h-14zM471 1641h14v14h-14zM471 1682h14v14h-14zM485 1102h15v14h-15zM485 1365h15v13h-15zM485 1558h15v14h-15zM500 1226h14v14h-14zM500 1365h14v13h-14zM500 1489h14v14h-14zM500 1530h14v14h-14zM500 1710h14v14h-14zM514 1074h15v14h-15zM514 1130h15v14h-15zM514 1226h15v14h-15zM514 1268h15v14h-15zM514 1434h15v14h-15zM514 1448h15v13h-15zM514 1586h15v14h-15zM514 1641h15v14h-15zM514 1655h15v14h-15zM514 1669h15v13h-15zM529 1185h14v14h-14zM529 1309h14v14h-14zM529 1392h14v14h-14zM529 1434h14v14h-14zM529 1461h14v14h-14zM529 1710h14v14h-14zM543 1019h15v14h-15zM543 1074h15v14h-15zM543 1171h15v14h-15zM543 1226h15v14h-15zM543 1558h15v14h-15zM543 1613h15v14h-15zM558 1282h14v14h-14zM558 1296h14v13h-14zM558 1392h14v14h-14zM558 1669h14v13h-14zM572 1296h15v13h-15zM572 1503h15v14h-15zM572 1641h15v14h-15zM572 1655h15v14h-15zM572 1724h15v14h-15zM572 1765h15v14h-15zM587 1254h14v14h-14zM587 1448h14v13h-14zM587 1475h14v14h-14zM587 1696h14v14h-14zM601 1392h15v14h-15zM601 1489h15v14h-15zM601 1558h15v14h-15zM601 1600h15v13h-15zM601 1627h15v14h-15zM601 1807h15v14h-15zM616 1102h14v14h-14zM616 1185h14v14h-14zM616 1282h14v14h-14zM616 1323h14v14h-14zM616 1876h14v14h-14zM630 1102h15v14h-15zM630 1337h15v14h-15zM630 1351h15v14h-15zM630 1392h15v14h-15zM630 1475h15v14h-15zM630 1517h15v13h-15zM630 1558h15v14h-15zM630 1682h15v14h-15zM645 1185h14v14h-14zM645 1323h14v14h-14zM645 1378h14v14h-14zM645 1475h14v14h-14zM645 1682h14v14h-14zM659 1102h15v14h-15zM659 1116h15v14h-15zM659 1240h15v14h-15zM659 1254h15v14h-15zM659 1544h15v14h-15zM659 1710h15v14h-15zM674 950h14v14h-14zM674 1655h14v14h-14zM674 1682h14v14h-14zM688 1033h15v14h-15zM688 1116h15v14h-15zM688 1213h15v13h-15zM688 1337h15v14h-15zM688 1351h15v14h-15zM688 1489h15v14h-15zM703 1061h14v13h-14zM703 1116h14v14h-14zM703 1268h14v14h-14zM703 1448h14v13h-14zM703 1461h14v14h-14zM703 1475h14v14h-14zM717 1226h15v14h-15zM717 1392h15v14h-15zM717 1572h15v14h-15zM717 1724h15v14h-15zM717 1793h15v14h-15zM732 1185h14v14h-14zM732 1378h14v14h-14zM732 1392h14v14h-14zM732 1461h14v14h-14zM732 1627h14v14h-14zM732 1641h14v14h-14zM732 1793h14v14h-14zM746 1199h15v14h-15zM746 1420h15v14h-15zM746 1461h15v14h-15zM746 1558h15v14h-15zM746 1572h15v14h-15zM746 1627h15v14h-15zM761 1171h14v14h-14zM761 1240h14v14h-14zM761 1309h14v14h-14zM761 1378h14v14h-14zM761 1475h14v14h-14zM761 1544h14v14h-14zM761 1558h14v14h-14zM761 2014h14v14h-14zM775 1005h15v14h-15zM775 1296h15v13h-15zM775 1323h15v14h-15zM775 1503h15v14h-15zM775 1530h15v14h-15zM790 950h14v14h-14zM790 1102h14v14h-14zM790 1130h14v14h-14zM790 1406h14v14h-14zM790 1489h14v14h-14zM790 1530h14v14h-14zM790 1655h14v14h-14zM790 1669h14v13h-14zM790 2097h14v14h-14zM804 1074h15v14h-15zM804 1282h15v14h-15zM804 1323h15v14h-15zM804 1448h15v13h-15zM819 1116h14v14h-14zM819 1240h14v14h-14zM819 1254h14v14h-14zM819 1434h14v14h-14zM819 1696h14v14h-14zM819 1710h14v14h-14zM819 1752h14v13h-14zM833 1074h15v14h-15zM833 1240h15v14h-15zM833 1351h15v14h-15zM833 1503h15v14h-15zM833 1738h15v14h-15zM833 1793h15v14h-15zM848 950h14v14h-14zM848 1185h14v14h-14zM848 1199h14v14h-14zM848 1268h14v14h-14zM848 1696h14v14h-14zM862 1033h15v14h-15zM862 1144h15v13h-15zM862 1157h15v14h-15zM862 1323h15v14h-15zM862 1475h15v14h-15zM862 1627h15v14h-15zM862 1752h15v13h-15zM877 1240h14v14h-14zM877 1309h14v14h-14zM877 1337h14v14h-14zM877 1406h14v14h-14zM877 1475h14v14h-14zM877 1627h14v14h-14zM891 991h15v14h-15zM891 1171h15v14h-15zM891 1323h15v14h-15zM891 1337h15v14h-15zM891 1489h15v14h-15zM891 1558h15v14h-15zM906 1102h14v14h-14zM906 1226h14v14h-14zM906 1406h14v14h-14zM906 1807h14v14h-14zM920 978h15v13h-15zM920 1171h15v14h-15zM920 1378h15v14h-15zM920 1461h15v14h-15zM920 1475h15v14h-15zM920 1765h15v14h-15zM935 1088h15v14h-15zM935 1171h15v14h-15zM935 1240h15v14h-15zM935 1268h15v14h-15zM935 1378h15v14h-15zM935 1530h15v14h-15zM950 1254h14v14h-14zM950 1475h14v14h-14zM964 1130h15v14h-15zM964 1351h15v14h-15zM964 1406h15v14h-15zM964 1448h15v13h-15zM964 1475h15v14h-15zM964 1517h15v13h-15zM964 1572h15v14h-15zM964 1710h15v14h-15zM979 1309h14v14h-14zM979 1365h14v13h-14zM979 1434h14v14h-14zM979 1461h14v14h-14zM979 1586h14v14h-14zM979 1655h14v14h-14zM979 1890h14v14h-14zM993 1061h15v13h-15zM993 1130h15v14h-15zM993 1185h15v14h-15zM993 1309h15v14h-15zM993 1392h15v14h-15zM993 1461h15v14h-15zM1008 1240h14v14h-14zM1008 1365h14v13h-14zM1008 1448h14v13h-14zM1008 1572h14v14h-14zM1022 1226h15v14h-15zM1022 1268h15v14h-15zM1022 1323h15v14h-15zM1022 1448h15v13h-15zM1022 1586h15v14h-15zM1037 1157h14v14h-14zM1037 1641h14v14h-14zM1037 1848h14v14h-14zM1051 1033h15v14h-15zM1051 1074h15v14h-15zM1051 1296h15v13h-15zM1051 1392h15v14h-15zM1051 1682h15v14h-15zM1066 1144h14v13h-14zM1080 1475h15v14h-15zM1080 1655h15v14h-15zM1080 1752h15v13h-15zM1080 1765h15v14h-15zM1095 1144h14v13h-14zM1109 1226h15v14h-15zM1109 1682h15v14h-15zM1124 964h14v14h-14zM1124 1378h14v14h-14zM1124 1544h14v14h-14zM1124 1600h14v13h-14zM1124 1724h14v14h-14zM1138 1669h15v13h-15zM1153 1876h14v14h-14zM1167 1116h15v14h-15zM1167 1544h15v14h-15zM1167 1586h15v14h-15zM1182 1240h14v14h-14zM1182 1448h14v13h-14zM1182 1876h14v14h-14zM1196 1157h15v14h-15zM1211 1282h14v14h-14zM1211 1365h14v13h-14zM1225 1351h15v14h-15zM1225 1378h15v14h-15zM1225 1821h15v13h-15zM1240 1378h14v14h-14zM1240 1530h14v14h-14zM1254 1157h15v14h-15zM1269 1378h14v14h-14zM1269 1420h14v14h-14zM1269 1503h14v14h-14zM1269 1544h14v14h-14zM1283 1544h15v14h-15zM1312 1005h15v14h-15zM1312 1199h15v14h-15zM1327 1074h14v14h-14zM1341 1448h15v13h-15zM1341 1489h15v14h-15zM1341 1530h15v14h-15zM1356 1351h14v14h-14zM1370 1309h15v14h-15zM1385 1503h14v14h-14zM1443 1434h14v14h-14zM1501 1282h14v14h-14zM1588 1530h14v14h-14zM1602 1420h15v14h-15zM1690 1185h14v14h-14z"/><path fill="#29377f" d="M369 1434h15v14h-15zM384 909h14v13h-14zM384 1047h14v14h-14zM384 1254h14v14h-14zM384 1613h14v14h-14zM384 1793h14v14h-14zM398 1019h15v14h-15zM398 1282h15v14h-15zM413 978h14v13h-14zM413 1130h14v14h-14zM413 1779h14v14h-14zM427 1033h15v14h-15zM442 1655h14v14h-14zM442 1890h14v14h-14zM442 1904h14v13h-14zM456 1765h15v14h-15zM471 1752h14v13h-14zM485 1130h15v14h-15zM485 1323h15v14h-15zM514 1848h15v14h-15zM529 909h14v13h-14zM529 1904h14v13h-14zM558 1074h14v14h-14zM558 1821h14v13h-14zM601 1074h15v14h-15zM616 1088h14v14h-14zM616 1752h14v13h-14zM630 978h15v13h-15zM659 1448h15v13h-15zM674 1019h14v14h-14zM688 978h15v13h-15zM703 1005h14v14h-14zM703 1779h14v14h-14zM848 1074h14v14h-14zM891 1102h15v14h-15zM906 1655h14v14h-14zM920 1102h15v14h-15zM920 1669h15v13h-15zM964 1116h15v14h-15zM964 1724h15v14h-15zM979 991h14v14h-14zM979 1130h14v14h-14zM979 1641h14v14h-14zM993 1047h15v14h-15zM993 1088h15v14h-15zM993 1116h15v14h-15zM993 1171h15v14h-15zM1008 1130h14v14h-14zM1008 1544h14v14h-14zM1051 1710h15v14h-15zM1051 1834h15v14h-15zM1066 1517h14v13h-14zM1080 1116h15v14h-15zM1080 1600h15v13h-15zM1109 1185h15v14h-15zM1109 1434h15v14h-15zM1138 1544h15v14h-15zM1153 1171h14v14h-14zM1153 1544h14v14h-14zM1153 1600h14v13h-14zM1167 1185h15v14h-15zM1167 1226h15v14h-15zM1167 1517h15v13h-15zM1167 1655h15v14h-15zM1182 1296h14v13h-14zM1182 1655h14v14h-14zM1211 1033h14v14h-14zM1211 1503h14v14h-14zM1254 1323h15v14h-15zM1298 1033h14v14h-14zM1298 1199h14v14h-14zM1298 1378h14v14h-14zM1298 1448h14v13h-14zM1327 1282h14v14h-14zM1327 1503h14v14h-14zM1341 1144h15v13h-15zM1341 1171h15v14h-15zM1399 1130h15v14h-15zM1399 1185h15v14h-15zM1428 1489h15v14h-15z"/><path fill="#034266" d="M369 1475h15v14h-15zM384 1669h14v13h-14zM398 1116h15v14h-15zM398 1185h15v14h-15zM398 1199h15v14h-15zM398 1365h15v13h-15zM398 1544h15v14h-15zM413 1378h14v14h-14zM413 1696h14v14h-14zM413 1752h14v13h-14zM427 1171h15v14h-15zM427 1185h15v14h-15zM427 1323h15v14h-15zM427 1600h15v13h-15zM427 1738h15v14h-15zM442 1489h14v14h-14zM456 1033h15v14h-15zM456 1240h15v14h-15zM456 1434h15v14h-15zM456 1489h15v14h-15zM456 1530h15v14h-15zM456 1572h15v14h-15zM471 1130h14v14h-14zM471 1199h14v14h-14zM471 1268h14v14h-14zM471 1489h14v14h-14zM471 1503h14v14h-14zM471 1876h14v14h-14zM485 1226h15v14h-15zM485 1282h15v14h-15zM485 1378h15v14h-15zM485 1434h15v14h-15zM485 1475h15v14h-15zM485 1530h15v14h-15zM485 1544h15v14h-15zM485 1613h15v14h-15zM485 1779h15v14h-15zM500 1130h14v14h-14zM500 1199h14v14h-14zM500 1296h14v13h-14zM500 1448h14v13h-14zM500 1558h14v14h-14zM500 1669h14v13h-14zM514 1213h15v13h-15zM514 1351h15v14h-15zM514 1461h15v14h-15zM529 1199h14v14h-14zM529 1254h14v14h-14zM529 1268h14v14h-14zM529 1351h14v14h-14zM529 1517h14v13h-14zM529 1572h14v14h-14zM529 1834h14v14h-14zM529 1848h14v14h-14zM543 1157h15v14h-15zM543 1268h15v14h-15zM543 1282h15v14h-15zM543 1365h15v13h-15zM543 1420h15v14h-15zM543 1448h15v13h-15zM543 1752h15v13h-15zM558 1213h14v13h-14zM558 1489h14v14h-14zM558 1613h14v14h-14zM558 1738h14v14h-14zM572 1282h15v14h-15zM572 1572h15v14h-15zM572 1600h15v13h-15zM572 1876h15v14h-15zM572 1904h15v13h-15zM587 1309h14v14h-14zM587 1558h14v14h-14zM587 1821h14v13h-14zM587 1848h14v14h-14zM601 1240h15v14h-15zM601 1503h15v14h-15zM601 1738h15v14h-15zM601 1793h15v14h-15zM616 1240h14v14h-14zM616 1641h14v14h-14zM630 1240h15v14h-15zM630 1282h15v14h-15zM630 1378h15v14h-15zM630 1530h15v14h-15zM630 1572h15v14h-15zM645 1199h14v14h-14zM645 1240h14v14h-14zM645 1406h14v14h-14zM645 1461h14v14h-14zM645 1627h14v14h-14zM645 1779h14v14h-14zM659 1378h15v14h-15zM659 1420h15v14h-15zM659 1517h15v13h-15zM659 1613h15v14h-15zM659 1641h15v14h-15zM659 1779h15v14h-15zM674 1240h14v14h-14zM674 1296h14v13h-14zM674 1378h14v14h-14zM674 1406h14v14h-14zM674 1489h14v14h-14zM674 1503h14v14h-14zM674 1613h14v14h-14zM674 1669h14v13h-14zM674 1779h14v14h-14zM688 1047h15v14h-15zM688 1268h15v14h-15zM688 1365h15v13h-15zM688 1392h15v14h-15zM688 1558h15v14h-15zM688 1613h15v14h-15zM688 1641h15v14h-15zM703 909h14v13h-14zM703 1171h14v14h-14zM703 1185h14v14h-14zM703 1365h14v13h-14zM703 1378h14v14h-14zM703 1530h14v14h-14zM703 1600h14v13h-14zM703 1669h14v13h-14zM717 1005h15v14h-15zM717 1171h15v14h-15zM717 1309h15v14h-15zM717 1448h15v13h-15zM717 1475h15v14h-15zM717 1489h15v14h-15zM717 1600h15v13h-15zM717 1696h15v14h-15zM732 1351h14v14h-14zM732 1365h14v13h-14zM732 1530h14v14h-14zM732 1807h14v14h-14zM732 1876h14v14h-14zM746 1213h15v13h-15zM746 1240h15v14h-15zM746 1309h15v14h-15zM746 1323h15v14h-15zM746 1365h15v13h-15zM746 1503h15v14h-15zM746 1655h15v14h-15zM746 1807h15v14h-15zM746 1931h15v14h-15zM761 1296h14v13h-14zM761 1613h14v14h-14zM761 1669h14v13h-14zM761 1738h14v14h-14zM761 1765h14v14h-14zM761 2111h14v14h-14zM775 1213h15v13h-15zM775 1268h15v14h-15zM775 1475h15v14h-15zM775 1517h15v13h-15zM790 1392h14v14h-14zM790 1475h14v14h-14zM790 1600h14v13h-14zM790 1627h14v14h-14zM790 1710h14v14h-14zM804 1475h15v14h-15zM804 1503h15v14h-15zM819 1213h14v13h-14zM819 1392h14v14h-14zM819 1765h14v14h-14zM833 1199h15v14h-15zM833 1254h15v14h-15zM833 1378h15v14h-15zM833 1420h15v14h-15zM833 1461h15v14h-15zM833 1572h15v14h-15zM833 1655h15v14h-15zM833 1682h15v14h-15zM833 1724h15v14h-15zM848 1102h14v14h-14zM848 1365h14v13h-14zM848 1613h14v14h-14zM848 1710h14v14h-14zM848 2125h14v14h-14zM862 1254h15v14h-15zM862 1489h15v14h-15zM862 1669h15v13h-15zM862 1682h15v14h-15zM862 1793h15v14h-15zM877 1378h14v14h-14zM877 1669h14v13h-14zM891 1144h15v13h-15zM891 1254h15v14h-15zM891 1475h15v14h-15zM891 1641h15v14h-15zM891 1738h15v14h-15zM891 1973h15v14h-15zM906 1254h14v14h-14zM906 1724h14v14h-14zM920 1116h15v14h-15zM920 1309h15v14h-15zM920 1434h15v14h-15zM920 1558h15v14h-15zM920 1613h15v14h-15zM920 1724h15v14h-15zM935 1157h15v14h-15zM935 1323h15v14h-15zM935 1586h15v14h-15zM950 1144h14v13h-14zM950 1461h14v14h-14zM950 1489h14v14h-14zM950 1641h14v14h-14zM964 1157h15v14h-15zM964 1323h15v14h-15zM964 1682h15v14h-15zM964 1738h15v14h-15zM964 1848h15v14h-15zM979 1074h14v14h-14zM979 1144h14v13h-14zM979 1185h14v14h-14zM979 1213h14v13h-14zM979 1337h14v14h-14zM979 1448h14v13h-14zM979 1530h14v14h-14zM979 1558h14v14h-14zM979 1572h14v14h-14zM979 1627h14v14h-14zM993 1102h15v14h-15zM993 1323h15v14h-15zM993 1420h15v14h-15zM993 1434h15v14h-15zM1008 1199h14v14h-14zM1008 1337h14v14h-14zM1022 1157h15v14h-15zM1022 1337h15v14h-15zM1022 1434h15v14h-15zM1022 1517h15v13h-15zM1022 1821h15v13h-15zM1037 1282h14v14h-14zM1037 1489h14v14h-14zM1037 1738h14v14h-14zM1037 1904h14v13h-14zM1051 1461h15v14h-15zM1051 1475h15v14h-15zM1051 1544h15v14h-15zM1051 1696h15v14h-15zM1066 1268h14v14h-14zM1066 1365h14v13h-14zM1066 1434h14v14h-14zM1066 1793h14v14h-14zM1080 1074h15v14h-15zM1080 1130h15v14h-15zM1080 1392h15v14h-15zM1080 1544h15v14h-15zM1080 1793h15v14h-15zM1095 1268h14v14h-14zM1095 1337h14v14h-14zM1095 1378h14v14h-14zM1095 1434h14v14h-14zM1095 1448h14v13h-14zM1109 1337h15v14h-15zM1124 1144h14v13h-14zM1124 1351h14v14h-14zM1124 1406h14v14h-14zM1124 1420h14v14h-14zM1124 1517h14v13h-14zM1124 1613h14v14h-14zM1138 1088h15v14h-15zM1138 1337h15v14h-15zM1153 1226h14v14h-14zM1153 1309h14v14h-14zM1153 1337h14v14h-14zM1167 1074h15v14h-15zM1167 1392h15v14h-15zM1167 1627h15v14h-15zM1182 1586h14v14h-14zM1196 1088h15v14h-15zM1196 1130h15v14h-15zM1196 1351h15v14h-15zM1196 1392h15v14h-15zM1196 1558h15v14h-15zM1211 1461h14v14h-14zM1225 1254h15v14h-15zM1225 1517h15v13h-15zM1225 1558h15v14h-15zM1254 1254h15v14h-15zM1254 1420h15v14h-15zM1254 1489h15v14h-15zM1254 1503h15v14h-15zM1269 1365h14v13h-14zM1269 1530h14v14h-14zM1283 1102h15v14h-15zM1283 1323h15v14h-15zM1283 1365h15v13h-15zM1298 1240h14v14h-14zM1298 1530h14v14h-14zM1312 1240h15v14h-15zM1327 1254h14v14h-14zM1327 1448h14v13h-14zM1327 1600h14v13h-14zM1356 1406h14v14h-14zM1356 1489h14v14h-14zM1370 1351h15v14h-15zM1370 1365h15v13h-15zM1399 1171h15v14h-15zM1428 1461h15v14h-15zM1443 1378h14v14h-14zM1457 1461h15v14h-15zM1472 1351h14v14h-14zM1501 1351h14v14h-14zM1704 1378h15v14h-15zM1704 1392h15v14h-15z"/><path fill="#0f3974" d="M369 1489h15v14h-15zM369 1613h15v14h-15zM384 1130h14v14h-14zM384 1448h14v13h-14zM384 1489h14v14h-14zM398 1337h15v14h-15zM398 1378h15v14h-15zM398 1406h15v14h-15zM398 1489h15v14h-15zM413 1213h14v13h-14zM427 1213h15v13h-15zM427 1254h15v14h-15zM427 1420h15v14h-15zM427 1572h15v14h-15zM427 1710h15v14h-15zM427 1752h15v13h-15zM442 1226h14v14h-14zM442 1392h14v14h-14zM442 1558h14v14h-14zM442 1572h14v14h-14zM442 1586h14v14h-14zM456 1047h15v14h-15zM456 1351h15v14h-15zM456 1682h15v14h-15zM456 1834h15v14h-15zM471 1033h14v14h-14zM471 1144h14v13h-14zM471 1420h14v14h-14zM471 1461h14v14h-14zM471 1475h14v14h-14zM471 1572h14v14h-14zM485 1309h15v14h-15zM485 1627h15v14h-15zM485 1669h15v13h-15zM485 1793h15v14h-15zM500 1102h14v14h-14zM500 1240h14v14h-14zM500 1337h14v14h-14zM500 1351h14v14h-14zM514 1171h15v14h-15zM514 1199h15v14h-15zM514 1365h15v13h-15zM514 1600h15v13h-15zM514 1682h15v14h-15zM514 1724h15v14h-15zM514 1807h15v14h-15zM529 1130h14v14h-14zM529 1157h14v14h-14zM529 1365h14v13h-14zM529 1586h14v14h-14zM529 1793h14v14h-14zM543 1337h15v14h-15zM543 1461h15v14h-15zM543 1489h15v14h-15zM543 1779h15v14h-15zM558 1226h14v14h-14zM558 1365h14v13h-14zM558 1558h14v14h-14zM558 1724h14v14h-14zM572 1254h15v14h-15zM572 1558h15v14h-15zM572 1738h15v14h-15zM572 1779h15v14h-15zM572 1807h15v14h-15zM587 1213h14v13h-14zM587 1323h14v14h-14zM587 1337h14v14h-14zM587 1406h14v14h-14zM587 1503h14v14h-14zM587 1544h14v14h-14zM587 1572h14v14h-14zM587 1710h14v14h-14zM587 1752h14v13h-14zM587 1793h14v14h-14zM601 978h15v13h-15zM601 1047h15v14h-15zM601 2000h15v14h-15zM616 1268h14v14h-14zM616 1337h14v14h-14zM616 1503h14v14h-14zM616 1627h14v14h-14zM616 1710h14v14h-14zM630 1157h15v14h-15zM630 1171h15v14h-15zM630 1254h15v14h-15zM630 1641h15v14h-15zM630 1765h15v14h-15zM645 1144h14v13h-14zM645 1171h14v14h-14zM645 1282h14v14h-14zM645 1420h14v14h-14zM645 1710h14v14h-14zM645 1765h14v14h-14zM645 1848h14v14h-14zM645 1904h14v13h-14zM659 1144h15v13h-15zM659 1282h15v14h-15zM659 1365h15v13h-15zM659 1807h15v14h-15zM674 1337h14v14h-14zM674 1475h14v14h-14zM688 1157h15v14h-15zM688 1254h15v14h-15zM688 1296h15v13h-15zM703 1226h14v14h-14zM703 1254h14v14h-14zM703 1655h14v14h-14zM717 1116h15v14h-15zM717 1185h15v14h-15zM717 1434h15v14h-15zM717 1530h15v14h-15zM732 1074h14v14h-14zM732 1157h14v14h-14zM732 1199h14v14h-14zM732 1503h14v14h-14zM732 1710h14v14h-14zM746 1088h15v14h-15zM746 1254h15v14h-15zM746 1351h15v14h-15zM746 1600h15v13h-15zM761 1116h14v14h-14zM761 1268h14v14h-14zM761 1503h14v14h-14zM761 1530h14v14h-14zM775 1144h15v13h-15zM775 1282h15v14h-15zM790 1157h14v14h-14zM790 1171h14v14h-14zM790 1613h14v14h-14zM790 1738h14v14h-14zM804 1226h15v14h-15zM804 1337h15v14h-15zM804 1517h15v13h-15zM804 1613h15v14h-15zM804 1821h15v13h-15zM819 1309h14v14h-14zM819 1365h14v13h-14zM819 1378h14v14h-14zM819 1461h14v14h-14zM819 1779h14v14h-14zM819 1834h14v14h-14zM833 1144h15v13h-15zM833 1323h15v14h-15zM833 1365h15v13h-15zM833 1517h15v13h-15zM848 853h14v14h-14zM848 1130h14v14h-14zM848 1254h14v14h-14zM848 1282h14v14h-14zM848 1378h14v14h-14zM848 1448h14v13h-14zM848 1544h14v14h-14zM848 1558h14v14h-14zM862 978h15v13h-15zM862 1185h15v14h-15zM862 1378h15v14h-15zM862 1420h15v14h-15zM862 1572h15v14h-15zM862 1600h15v13h-15zM862 1765h15v14h-15zM877 1199h14v14h-14zM877 1351h14v14h-14zM877 1448h14v13h-14zM877 1461h14v14h-14zM877 1752h14v13h-14zM891 1213h15v13h-15zM891 1268h15v14h-15zM891 1600h15v13h-15zM906 936h14v14h-14zM906 1116h14v14h-14zM906 1323h14v14h-14zM906 1351h14v14h-14zM906 1448h14v13h-14zM906 1489h14v14h-14zM906 1752h14v13h-14zM920 1337h15v14h-15zM920 1365h15v13h-15zM920 1682h15v14h-15zM935 1434h15v14h-15zM935 1544h15v14h-15zM935 1558h15v14h-15zM950 1102h14v14h-14zM950 1171h14v14h-14zM950 1296h14v13h-14zM950 1323h14v14h-14zM964 1074h15v14h-15zM964 1226h15v14h-15zM964 1254h15v14h-15zM964 1434h15v14h-15zM979 1226h14v14h-14zM993 1351h15v14h-15zM993 1793h15v14h-15zM1008 1116h14v14h-14zM1008 1406h14v14h-14zM1008 1489h14v14h-14zM1008 1558h14v14h-14zM1008 1627h14v14h-14zM1008 1669h14v13h-14zM1022 1282h15v14h-15zM1022 1475h15v14h-15zM1022 1682h15v14h-15zM1037 1226h14v14h-14zM1037 1240h14v14h-14zM1037 1296h14v13h-14zM1051 1378h15v14h-15zM1051 1655h15v14h-15zM1066 1323h14v14h-14zM1066 1544h14v14h-14zM1066 1613h14v14h-14zM1080 1503h15v14h-15zM1080 1682h15v14h-15zM1095 1613h14v14h-14zM1109 1365h15v13h-15zM1109 1503h15v14h-15zM1109 1558h15v14h-15zM1124 1199h14v14h-14zM1124 1213h14v13h-14zM1124 1254h14v14h-14zM1124 1309h14v14h-14zM1124 1627h14v14h-14zM1138 1185h15v14h-15zM1138 1213h15v13h-15zM1138 1254h15v14h-15zM1138 1434h15v14h-15zM1153 1185h14v14h-14zM1153 1517h14v13h-14zM1153 1765h14v14h-14zM1167 1144h15v13h-15zM1182 1268h14v14h-14zM1182 1406h14v14h-14zM1196 1074h15v14h-15zM1196 1254h15v14h-15zM1196 1268h15v14h-15zM1211 978h14v13h-14zM1211 991h14v14h-14zM1211 1144h14v13h-14zM1225 1309h15v14h-15zM1225 1420h15v14h-15zM1240 1144h14v13h-14zM1240 1309h14v14h-14zM1269 1475h14v14h-14zM1269 1600h14v13h-14zM1283 1171h15v14h-15zM1283 1489h15v14h-15zM1312 1600h15v13h-15zM1327 1337h14v14h-14zM1327 1530h14v14h-14zM1341 1378h15v14h-15zM1356 1240h14v14h-14zM1356 1558h14v14h-14zM1370 1461h15v14h-15zM1414 1240h14v14h-14zM1428 1185h15v14h-15zM1443 1116h14v14h-14zM1515 1337h15v14h-15z"/><path fill="#0c5653" d="M369 1503h15v14h-15zM369 1572h15v14h-15zM384 1337h14v14h-14zM384 1434h14v14h-14zM398 1475h15v14h-15zM398 1710h15v14h-15zM413 1710h14v14h-14zM427 1351h15v14h-15zM442 1144h14v13h-14zM442 1351h14v14h-14zM442 1641h14v14h-14zM442 1724h14v14h-14zM456 978h15v13h-15zM456 1088h15v14h-15zM456 1213h15v13h-15zM485 1655h15v14h-15zM500 1655h14v14h-14zM500 1807h14v14h-14zM514 1752h15v13h-15zM514 2000h15v14h-15zM558 1862h14v14h-14zM572 1226h15v14h-15zM616 1171h14v14h-14zM688 1240h15v14h-15zM688 1848h15v14h-15zM703 1752h14v13h-14zM732 1282h14v14h-14zM746 1019h15v14h-15zM746 1724h15v14h-15zM761 1724h14v14h-14zM775 1821h15v13h-15zM775 1876h15v14h-15zM790 1807h14v14h-14zM804 1047h15v14h-15zM804 1848h15v14h-15zM819 1959h14v14h-14zM833 1586h15v14h-15zM833 1779h15v14h-15zM833 1876h15v14h-15zM848 1061h14v13h-14zM848 1931h14v14h-14zM862 1199h15v14h-15zM862 1724h15v14h-15zM877 1157h14v14h-14zM877 1724h14v14h-14zM877 1765h14v14h-14zM877 1959h14v14h-14zM920 1710h15v14h-15zM935 1047h15v14h-15zM935 1116h15v14h-15zM935 1765h15v14h-15zM950 1309h14v14h-14zM950 1669h14v13h-14zM993 1876h15v14h-15zM993 1917h15v14h-15zM993 1973h15v14h-15zM1008 1600h14v13h-14zM1037 1365h14v13h-14zM1037 1434h14v14h-14zM1066 1558h14v14h-14zM1066 1641h14v14h-14zM1066 1738h14v14h-14zM1080 1821h15v13h-15zM1095 1600h14v13h-14zM1109 1296h15v13h-15zM1124 1475h14v14h-14zM1138 1130h15v14h-15zM1138 1627h15v14h-15zM1153 1475h14v14h-14zM1167 1351h15v14h-15zM1196 1641h15v14h-15zM1211 1116h14v14h-14zM1211 1337h14v14h-14zM1225 1185h15v14h-15zM1225 1268h15v14h-15zM1240 1627h14v14h-14zM1254 1544h15v14h-15zM1269 1337h14v14h-14zM1269 1572h14v14h-14zM1269 1710h14v14h-14zM1283 1434h15v14h-15zM1298 1047h14v14h-14zM1298 1268h14v14h-14zM1298 1765h14v14h-14zM1312 1461h15v14h-15zM1327 1351h14v14h-14zM1341 1351h15v14h-15zM1370 1641h15v14h-15zM1385 1130h14v14h-14zM1414 1544h14v14h-14zM1428 1323h15v14h-15zM1428 1558h15v14h-15zM1457 1489h15v14h-15zM1486 1613h15v14h-15z"/><path fill="#0e5a50" d="M369 1530h15v14h-15zM384 1171h14v14h-14zM384 1365h14v13h-14zM384 1544h14v14h-14zM413 1392h14v14h-14zM427 881h15v14h-15zM427 1074h15v14h-15zM427 1779h15v14h-15zM471 1157h14v14h-14zM471 1171h14v14h-14zM471 1696h14v14h-14zM514 1779h15v14h-15zM601 1655h15v14h-15zM601 1862h15v14h-15zM630 1655h15v14h-15zM688 1917h15v14h-15zM732 1821h14v13h-14zM746 991h15v14h-15zM746 1821h15v13h-15zM746 1834h15v14h-15zM746 1862h15v14h-15zM761 964h14v14h-14zM761 1033h14v14h-14zM775 2042h15v14h-15zM819 1876h14v14h-14zM848 1765h14v14h-14zM862 1102h15v14h-15zM877 1931h14v14h-14zM920 1793h15v14h-15zM935 1226h15v14h-15zM935 1752h15v13h-15zM950 1240h14v14h-14zM964 1765h15v14h-15zM979 1710h14v14h-14zM1022 1033h15v14h-15zM1022 1185h15v14h-15zM1022 1199h15v14h-15zM1037 1213h14v13h-14zM1095 1931h14v14h-14zM1138 1240h15v14h-15zM1138 1682h15v14h-15zM1153 1503h14v14h-14zM1153 1655h14v14h-14zM1167 1475h15v14h-15zM1182 1378h14v14h-14zM1182 1848h14v14h-14zM1196 1337h15v14h-15zM1211 1240h14v14h-14zM1211 1641h14v14h-14zM1240 1655h14v14h-14zM1254 1669h15v13h-15zM1269 1185h14v14h-14zM1283 1337h15v14h-15zM1283 1475h15v14h-15zM1312 1296h15v13h-15zM1312 1738h15v14h-15zM1327 1420h14v14h-14zM1356 1088h14v14h-14zM1356 1337h14v14h-14zM1370 1406h15v14h-15zM1385 1365h14v13h-14zM1414 1641h14v14h-14zM1428 1627h15v14h-15zM1617 1226h14v14h-14zM1675 1351h15v14h-15z"/><path fill="#47358c" d="M369 1848h15v14h-15zM384 1627h14v14h-14zM384 1876h14v14h-14zM398 1876h15v14h-15zM427 2097h15v14h-15zM456 1793h15v14h-15zM514 950h15v14h-15zM514 2056h15v13h-15zM558 1779h14v14h-14zM572 1033h15v14h-15zM572 2014h15v14h-15zM717 1047h15v14h-15zM833 1005h15v14h-15zM848 1005h14v14h-14zM891 1047h15v14h-15zM935 1074h15v14h-15zM1080 1613h15v14h-15zM1095 1420h14v14h-14zM1138 1157h15v14h-15zM1254 1572h15v14h-15zM1269 1130h14v14h-14zM1341 1613h15v14h-15zM1370 1102h15v14h-15zM1399 1144h15v13h-15zM1399 1627h15v14h-15zM1472 1392h14v14h-14zM1530 1378h14v14h-14z"/><path fill="#613397" d="M384 1019h14v14h-14zM384 1641h14v14h-14zM543 964h15v14h-15zM630 1890h15v14h-15zM979 1005h14v14h-14zM993 1738h15v14h-15z"/><path fill="#023e6a" d="M384 1088h14v14h-14zM384 1102h14v14h-14zM384 1240h14v14h-14zM384 1392h14v14h-14zM384 1530h14v14h-14zM384 1655h14v14h-14zM398 1793h15v14h-15zM398 1807h15v14h-15zM413 1309h14v14h-14zM413 1434h14v14h-14zM413 1461h14v14h-14zM413 1489h14v14h-14zM413 1530h14v14h-14zM413 1558h14v14h-14zM413 1586h14v14h-14zM427 1047h15v14h-15zM427 1282h15v14h-15zM427 1489h15v14h-15zM427 1655h15v14h-15zM427 1669h15v13h-15zM442 1213h14v13h-14zM442 1337h14v14h-14zM442 1530h14v14h-14zM442 1738h14v14h-14zM456 1199h15v14h-15zM471 1213h14v13h-14zM471 1448h14v13h-14zM471 1613h14v14h-14zM485 1074h15v14h-15zM485 1185h15v14h-15zM485 1213h15v13h-15zM485 1503h15v14h-15zM485 1517h15v13h-15zM485 1600h15v13h-15zM485 1724h15v14h-15zM500 1268h14v14h-14zM500 1461h14v14h-14zM500 1475h14v14h-14zM500 1586h14v14h-14zM500 1641h14v14h-14zM514 1282h15v14h-15zM514 1296h15v13h-15zM514 1309h15v14h-15zM514 1323h15v14h-15zM514 1337h15v14h-15zM514 1392h15v14h-15zM514 1517h15v13h-15zM514 1613h15v14h-15zM529 1448h14v13h-14zM529 1544h14v14h-14zM529 1558h14v14h-14zM543 1144h15v13h-15zM543 1213h15v13h-15zM543 1309h15v14h-15zM543 1323h15v14h-15zM543 1544h15v14h-15zM543 1738h15v14h-15zM543 1834h15v14h-15zM558 1240h14v14h-14zM558 1254h14v14h-14zM558 1351h14v14h-14zM558 1378h14v14h-14zM558 1448h14v13h-14zM558 1461h14v14h-14zM558 1517h14v13h-14zM558 1572h14v14h-14zM558 1586h14v14h-14zM572 1130h15v14h-15zM572 1157h15v14h-15zM572 1185h15v14h-15zM572 1309h15v14h-15zM572 1323h15v14h-15zM572 1351h15v14h-15zM572 1406h15v14h-15zM572 1489h15v14h-15zM572 1544h15v14h-15zM587 1061h14v13h-14zM587 1116h14v14h-14zM587 1240h14v14h-14zM587 1296h14v13h-14zM587 1365h14v13h-14zM587 1378h14v14h-14zM587 1392h14v14h-14zM587 1461h14v14h-14zM587 1613h14v14h-14zM601 1226h15v14h-15zM601 1282h15v14h-15zM601 1378h15v14h-15zM601 1434h15v14h-15zM601 1461h15v14h-15zM601 1517h15v13h-15zM601 1544h15v14h-15zM601 1586h15v14h-15zM601 1641h15v14h-15zM616 1254h14v14h-14zM616 1420h14v14h-14zM616 1448h14v13h-14zM616 1530h14v14h-14zM616 1669h14v13h-14zM630 1005h15v14h-15zM630 1116h15v14h-15zM630 1199h15v14h-15zM630 1268h15v14h-15zM630 1296h15v13h-15zM630 1365h15v13h-15zM630 1448h15v13h-15zM630 1600h15v13h-15zM630 1738h15v14h-15zM630 1752h15v13h-15zM630 1793h15v14h-15zM630 1959h15v14h-15zM645 1033h14v14h-14zM645 1074h14v14h-14zM645 1337h14v14h-14zM645 1392h14v14h-14zM645 1544h14v14h-14zM659 1185h15v14h-15zM659 1226h15v14h-15zM659 1268h15v14h-15zM659 1323h15v14h-15zM659 1475h15v14h-15zM659 1530h15v14h-15zM659 1572h15v14h-15zM674 1047h14v14h-14zM674 1185h14v14h-14zM674 1282h14v14h-14zM674 1309h14v14h-14zM674 1323h14v14h-14zM674 1392h14v14h-14zM674 1517h14v13h-14zM674 1530h14v14h-14zM674 1544h14v14h-14zM674 1572h14v14h-14zM674 1586h14v14h-14zM674 1752h14v13h-14zM674 1765h14v14h-14zM688 1378h15v14h-15zM688 1434h15v14h-15zM688 1448h15v13h-15zM688 1682h15v14h-15zM688 1696h15v14h-15zM688 1738h15v14h-15zM688 1765h15v14h-15zM688 2056h15v13h-15zM703 1033h14v14h-14zM703 1074h14v14h-14zM703 1102h14v14h-14zM703 1199h14v14h-14zM703 1309h14v14h-14zM703 1323h14v14h-14zM703 1351h14v14h-14zM703 1420h14v14h-14zM703 1434h14v14h-14zM703 1517h14v13h-14zM703 1572h14v14h-14zM703 1627h14v14h-14zM703 1641h14v14h-14zM717 1199h15v14h-15zM717 1213h15v13h-15zM717 1268h15v14h-15zM717 1406h15v14h-15zM717 1517h15v13h-15zM717 1669h15v13h-15zM717 1682h15v14h-15zM717 1738h15v14h-15zM717 1862h15v14h-15zM732 1240h14v14h-14zM732 1296h14v13h-14zM732 1406h14v14h-14zM732 1448h14v13h-14zM732 1544h14v14h-14zM732 1586h14v14h-14zM746 1116h15v14h-15zM746 1378h15v14h-15zM746 1406h15v14h-15zM761 991h14v14h-14zM761 1130h14v14h-14zM761 1199h14v14h-14zM761 1213h14v13h-14zM761 1337h14v14h-14zM761 1572h14v14h-14zM761 1627h14v14h-14zM761 1807h14v14h-14zM775 1061h15v13h-15zM775 1351h15v14h-15zM775 1378h15v14h-15zM775 1392h15v14h-15zM775 1434h15v14h-15zM775 1627h15v14h-15zM775 1655h15v14h-15zM775 1682h15v14h-15zM775 1945h15v14h-15zM790 1448h14v13h-14zM790 1503h14v14h-14zM790 1572h14v14h-14zM790 1724h14v14h-14zM790 1765h14v14h-14zM804 1199h15v14h-15zM804 1378h15v14h-15zM804 1392h15v14h-15zM804 1558h15v14h-15zM819 1102h14v14h-14zM819 1185h14v14h-14zM819 1448h14v13h-14zM819 1586h14v14h-14zM819 1724h14v14h-14zM819 1738h14v14h-14zM833 1171h15v14h-15zM833 1185h15v14h-15zM833 1226h15v14h-15zM833 1392h15v14h-15zM833 1448h15v13h-15zM833 1641h15v14h-15zM833 1752h15v13h-15zM848 1157h14v14h-14zM848 1213h14v13h-14zM848 1296h14v13h-14zM848 1392h14v14h-14zM848 1406h14v14h-14zM848 1434h14v14h-14zM848 1503h14v14h-14zM848 1530h14v14h-14zM848 1572h14v14h-14zM848 1641h14v14h-14zM848 1682h14v14h-14zM848 1793h14v14h-14zM862 1047h15v14h-15zM862 1240h15v14h-15zM862 1282h15v14h-15zM862 1296h15v13h-15zM862 1337h15v14h-15zM862 1351h15v14h-15zM862 1365h15v13h-15zM862 1392h15v14h-15zM862 1406h15v14h-15zM862 1434h15v14h-15zM877 1489h14v14h-14zM877 1544h14v14h-14zM877 1586h14v14h-14zM877 1613h14v14h-14zM877 1655h14v14h-14zM877 1682h14v14h-14zM877 1779h14v14h-14zM891 909h15v13h-15zM891 1226h15v14h-15zM891 1282h15v14h-15zM891 1627h15v14h-15zM891 1696h15v14h-15zM906 1296h14v13h-14zM906 1337h14v14h-14zM906 1434h14v14h-14zM906 1461h14v14h-14zM906 1503h14v14h-14zM906 1517h14v13h-14zM906 1627h14v14h-14zM906 1696h14v14h-14zM920 1213h15v13h-15zM920 1696h15v14h-15zM920 1821h15v13h-15zM935 1337h15v14h-15zM935 1365h15v13h-15zM935 1406h15v14h-15zM935 1475h15v14h-15zM935 1779h15v14h-15zM950 1074h14v14h-14zM950 1282h14v14h-14zM950 1351h14v14h-14zM950 1448h14v13h-14zM950 1586h14v14h-14zM950 1600h14v13h-14zM950 1613h14v14h-14zM964 839h15v14h-15zM964 1144h15v13h-15zM964 1296h15v13h-15zM964 1641h15v14h-15zM964 1655h15v14h-15zM964 1669h15v13h-15zM979 1199h14v14h-14zM979 1254h14v14h-14zM979 1392h14v14h-14zM979 1489h14v14h-14zM979 1600h14v13h-14zM993 1213h15v13h-15zM993 1226h15v14h-15zM993 1406h15v14h-15zM993 1544h15v14h-15zM993 1558h15v14h-15zM1008 1226h14v14h-14zM1008 1268h14v14h-14zM1008 1282h14v14h-14zM1008 1517h14v13h-14zM1022 1420h15v14h-15zM1022 1489h15v14h-15zM1037 1185h14v14h-14zM1037 1448h14v13h-14zM1037 1475h14v14h-14zM1037 1710h14v14h-14zM1051 1171h15v14h-15zM1051 1600h15v13h-15zM1051 1627h15v14h-15zM1066 1378h14v14h-14zM1066 1530h14v14h-14zM1066 1627h14v14h-14zM1080 1144h15v13h-15zM1080 1282h15v14h-15zM1080 1365h15v13h-15zM1080 1378h15v14h-15zM1080 1558h15v14h-15zM1080 1696h15v14h-15zM1095 1157h14v14h-14zM1095 1240h14v14h-14zM1095 1254h14v14h-14zM1095 1461h14v14h-14zM1095 1669h14v13h-14zM1109 1157h15v14h-15zM1109 1199h15v14h-15zM1109 1641h15v14h-15zM1124 1268h14v14h-14zM1124 1669h14v13h-14zM1138 1448h15v13h-15zM1138 1461h15v14h-15zM1138 1600h15v13h-15zM1138 1655h15v14h-15zM1153 1434h14v14h-14zM1167 964h15v14h-15zM1167 1296h15v13h-15zM1182 1254h14v14h-14zM1182 1365h14v13h-14zM1182 1517h14v13h-14zM1182 1669h14v13h-14zM1182 1821h14v13h-14zM1196 1323h15v14h-15zM1225 1392h15v14h-15zM1240 1061h14v13h-14zM1240 1199h14v14h-14zM1240 1213h14v13h-14zM1269 1033h14v14h-14zM1269 1254h14v14h-14zM1269 1268h14v14h-14zM1283 1185h15v14h-15zM1283 1296h15v13h-15zM1283 1558h15v14h-15zM1298 1282h14v14h-14zM1298 1351h14v14h-14zM1298 1558h14v14h-14zM1312 1434h15v14h-15zM1327 1268h14v14h-14zM1341 1309h15v14h-15zM1341 1475h15v14h-15zM1356 1268h14v14h-14zM1356 1434h14v14h-14zM1370 1420h15v14h-15zM1385 1213h14v13h-14zM1399 1282h15v14h-15zM1399 1586h15v14h-15zM1414 1157h14v14h-14zM1414 1213h14v13h-14zM1428 1157h15v14h-15zM1443 1420h14v14h-14zM1443 1641h14v14h-14zM1501 1475h14v14h-14zM1762 1378h15v14h-15z"/><path fill="#054663" d="M384 1185h14v14h-14zM384 1309h14v14h-14zM384 1420h14v14h-14zM398 1130h15v14h-15zM398 1254h15v14h-15zM398 1309h15v14h-15zM398 1434h15v14h-15zM398 1503h15v14h-15zM413 1157h14v14h-14zM413 1199h14v14h-14zM413 1268h14v14h-14zM413 1323h14v14h-14zM413 1365h14v13h-14zM427 1088h15v14h-15zM427 1199h15v14h-15zM427 1268h15v14h-15zM427 1392h15v14h-15zM442 1240h14v14h-14zM442 1365h14v13h-14zM442 1461h14v14h-14zM442 1627h14v14h-14zM456 1821h15v13h-15zM471 1282h14v14h-14zM471 1392h14v14h-14zM471 1655h14v14h-14zM485 1296h15v13h-15zM485 1337h15v14h-15zM485 1420h15v14h-15zM485 1682h15v14h-15zM500 1074h14v14h-14zM500 1378h14v14h-14zM500 1503h14v14h-14zM500 1600h14v13h-14zM500 1613h14v14h-14zM500 1752h14v13h-14zM514 1240h15v14h-15zM514 1406h15v14h-15zM514 1489h15v14h-15zM514 1503h15v14h-15zM514 1530h15v14h-15zM514 1696h15v14h-15zM514 1738h15v14h-15zM514 1765h15v14h-15zM529 1171h14v14h-14zM529 1530h14v14h-14zM529 1765h14v14h-14zM543 1586h15v14h-15zM543 1641h15v14h-15zM543 1655h15v14h-15zM543 1669h15v13h-15zM558 1323h14v14h-14zM558 1503h14v14h-14zM558 1627h14v14h-14zM558 1834h14v14h-14zM572 1102h15v14h-15zM572 1116h15v14h-15zM572 1434h15v14h-15zM572 1461h15v14h-15zM572 1586h15v14h-15zM587 1144h14v13h-14zM587 1738h14v14h-14zM587 1765h14v14h-14zM601 1199h15v14h-15zM616 1061h14v13h-14zM616 1517h14v13h-14zM616 1613h14v14h-14zM616 1682h14v14h-14zM630 1213h15v13h-15zM630 1503h15v14h-15zM630 1807h15v14h-15zM630 1821h15v13h-15zM645 1157h14v14h-14zM645 1226h14v14h-14zM645 1254h14v14h-14zM645 1572h14v14h-14zM645 1724h14v14h-14zM645 1834h14v14h-14zM659 1130h15v14h-15zM659 1351h15v14h-15zM659 1627h15v14h-15zM659 1682h15v14h-15zM659 1765h15v14h-15zM674 1102h14v14h-14zM674 1144h14v13h-14zM674 1213h14v13h-14zM674 1641h14v14h-14zM688 1199h15v14h-15zM688 1503h15v14h-15zM688 1572h15v14h-15zM688 1655h15v14h-15zM703 1558h14v14h-14zM703 1696h14v14h-14zM703 1765h14v14h-14zM717 1655h15v14h-15zM717 1710h15v14h-15zM717 1765h15v14h-15zM732 1226h14v14h-14zM732 1309h14v14h-14zM732 1517h14v13h-14zM732 1558h14v14h-14zM732 1696h14v14h-14zM732 1779h14v14h-14zM746 1144h15v13h-15zM746 1171h15v14h-15zM746 1185h15v14h-15zM746 1448h15v13h-15zM746 1530h15v14h-15zM746 1641h15v14h-15zM746 1710h15v14h-15zM746 1793h15v14h-15zM746 2014h15v14h-15zM761 1392h14v14h-14zM761 1600h14v13h-14zM761 1752h14v13h-14zM761 1848h14v14h-14zM761 1973h14v14h-14zM775 1185h15v14h-15zM775 1544h15v14h-15zM775 1738h15v14h-15zM790 1074h14v14h-14zM790 1282h14v14h-14zM790 1351h14v14h-14zM804 1351h15v14h-15zM804 1365h15v13h-15zM804 1461h15v14h-15zM804 1627h15v14h-15zM804 1641h15v14h-15zM804 1669h15v13h-15zM804 1724h15v14h-15zM804 1876h15v14h-15zM819 1420h14v14h-14zM819 1641h14v14h-14zM819 1807h14v14h-14zM833 1213h15v13h-15zM833 1489h15v14h-15zM848 1088h14v14h-14zM848 1240h14v14h-14zM862 1130h15v14h-15zM862 1558h15v14h-15zM862 1641h15v14h-15zM862 1655h15v14h-15zM877 1213h14v13h-14zM877 1254h14v14h-14zM877 1323h14v14h-14zM877 1600h14v13h-14zM877 1710h14v14h-14zM891 1130h15v14h-15zM891 1655h15v14h-15zM891 1669h15v13h-15zM891 1752h15v13h-15zM891 1821h15v13h-15zM906 1088h14v14h-14zM906 1199h14v14h-14zM906 1282h14v14h-14zM906 1309h14v14h-14zM906 1682h14v14h-14zM906 1710h14v14h-14zM906 1738h14v14h-14zM920 1185h15v14h-15zM920 1199h15v14h-15zM920 1448h15v13h-15zM920 1503h15v14h-15zM920 1586h15v14h-15zM935 1282h15v14h-15zM935 1309h15v14h-15zM935 1738h15v14h-15zM950 1420h14v14h-14zM950 1627h14v14h-14zM950 1890h14v14h-14zM964 1061h15v13h-15zM964 1268h15v14h-15zM964 1378h15v14h-15zM964 1420h15v14h-15zM964 1558h15v14h-15zM964 1586h15v14h-15zM979 1323h14v14h-14zM979 1378h14v14h-14zM979 1696h14v14h-14zM979 1821h14v13h-14zM993 1337h15v14h-15zM993 1572h15v14h-15zM993 1655h15v14h-15zM1008 1475h14v14h-14zM1008 1503h14v14h-14zM1008 1641h14v14h-14zM1008 1710h14v14h-14zM1008 1779h14v14h-14zM1022 1144h15v13h-15zM1022 1461h15v14h-15zM1037 1144h14v13h-14zM1037 1171h14v14h-14zM1037 1323h14v14h-14zM1037 1406h14v14h-14zM1037 1461h14v14h-14zM1037 1586h14v14h-14zM1037 1724h14v14h-14zM1051 1199h15v14h-15zM1051 1282h15v14h-15zM1051 1365h15v13h-15zM1051 1406h15v14h-15zM1051 1530h15v14h-15zM1051 1558h15v14h-15zM1066 1282h14v14h-14zM1066 1351h14v14h-14zM1066 1710h14v14h-14zM1080 1406h15v14h-15zM1080 1461h15v14h-15zM1095 1213h14v13h-14zM1095 1282h14v14h-14zM1095 1296h14v13h-14zM1095 1517h14v13h-14zM1095 1572h14v14h-14zM1095 1821h14v13h-14zM1109 1130h15v14h-15zM1109 1406h15v14h-15zM1109 1544h15v14h-15zM1124 1323h14v14h-14zM1138 1365h15v13h-15zM1138 1420h15v14h-15zM1153 1420h14v14h-14zM1153 1489h14v14h-14zM1167 1365h15v13h-15zM1167 1378h15v14h-15zM1182 1282h14v14h-14zM1182 1351h14v14h-14zM1211 1226h14v14h-14zM1225 1226h15v14h-15zM1240 1517h14v13h-14zM1254 1240h15v14h-15zM1254 1586h15v14h-15zM1269 1157h14v14h-14zM1269 1351h14v14h-14zM1269 1392h14v14h-14zM1283 1378h15v14h-15zM1283 1420h15v14h-15zM1283 1503h15v14h-15zM1298 1461h14v14h-14zM1312 1019h15v14h-15zM1312 1171h15v14h-15zM1312 1475h15v14h-15zM1327 1296h14v13h-14zM1327 1406h14v14h-14zM1327 1475h14v14h-14zM1327 1558h14v14h-14zM1327 1572h14v14h-14zM1356 1116h14v14h-14zM1370 1475h15v14h-15zM1399 1157h15v14h-15zM1399 1517h15v13h-15zM1414 1406h14v14h-14zM1443 1226h14v14h-14zM1443 1613h14v14h-14zM1457 1365h15v13h-15zM1472 1144h14v13h-14zM1472 1213h14v13h-14zM1515 1296h15v13h-15z"/><path fill="#0f5e4c" d="M384 1600h14v13h-14zM384 1682h14v14h-14zM398 1088h15v14h-15zM398 1461h15v14h-15zM398 1586h15v14h-15zM514 1019h15v14h-15zM543 1807h15v14h-15zM587 853h14v14h-14zM616 1793h14v14h-14zM645 1945h14v14h-14zM659 1862h15v14h-15zM659 1973h15v14h-15zM674 1848h14v14h-14zM674 2000h14v14h-14zM703 1807h14v14h-14zM717 1959h15v14h-15zM746 1765h15v14h-15zM790 1199h14v14h-14zM819 1157h14v14h-14zM833 1033h15v14h-15zM833 1904h15v13h-15zM862 1959h15v14h-15zM891 1088h15v14h-15zM906 1641h14v14h-14zM920 1130h15v14h-15zM920 1572h15v14h-15zM920 1848h15v14h-15zM920 1959h15v14h-15zM935 1503h15v14h-15zM935 1710h15v14h-15zM950 1710h14v14h-14zM979 1917h14v14h-14zM993 1530h15v14h-15zM1008 1019h14v14h-14zM1008 1821h14v13h-14zM1022 1047h15v14h-15zM1095 1116h14v14h-14zM1109 1213h15v13h-15zM1124 1461h14v14h-14zM1138 1199h15v14h-15zM1153 1586h14v14h-14zM1153 1696h14v14h-14zM1167 1268h15v14h-15zM1167 1461h15v14h-15zM1167 1696h15v14h-15zM1182 1890h14v14h-14zM1196 1572h15v14h-15zM1211 1309h14v14h-14zM1240 1240h14v14h-14zM1254 1268h15v14h-15zM1254 1282h15v14h-15zM1298 1144h14v13h-14zM1298 1171h14v14h-14zM1312 1309h15v14h-15zM1312 1323h15v14h-15zM1327 1157h14v14h-14zM1327 1434h14v14h-14zM1356 1047h14v14h-14zM1385 1185h14v14h-14zM1385 1544h14v14h-14zM1399 1296h15v13h-15zM1399 1365h15v13h-15zM1414 1074h14v14h-14zM1428 1378h15v14h-15zM1530 1296h14v13h-14zM1544 1282h15v14h-15z"/><path fill="#5c3495" d="M398 1669h15v13h-15zM413 1074h14v14h-14zM485 1862h15v14h-15zM514 1876h15v14h-15zM558 1959h14v14h-14zM572 1931h15v14h-15zM587 895h14v14h-14zM587 1033h14v14h-14zM659 991h15v14h-15zM761 1005h14v14h-14zM862 1074h15v14h-15zM891 1074h15v14h-15zM920 950h15v14h-15zM1472 1254h14v14h-14z"/><path fill="#523490" d="M427 1862h15v14h-15zM471 909h14v13h-14zM471 1834h14v14h-14zM471 1862h14v14h-14zM500 964h14v14h-14zM543 950h15v14h-15zM543 1931h15v14h-15zM616 1890h14v14h-14zM775 1047h15v14h-15zM804 1890h15v14h-15zM877 1061h14v13h-14zM920 964h15v14h-15zM993 1682h15v14h-15zM1008 1047h14v14h-14zM1037 1682h14v14h-14zM1080 1061h15v13h-15zM1080 1738h15v14h-15zM1196 1517h15v13h-15zM1428 1420h15v14h-15z"/><path fill="#42358a" d="M456 1862h15v14h-15zM500 1047h14v14h-14zM500 1945h14v14h-14zM514 1793h15v14h-15zM529 1931h14v14h-14zM558 964h14v14h-14zM572 1019h15v14h-15zM587 991h14v14h-14zM587 1862h14v14h-14zM659 1945h15v14h-15zM674 922h14v14h-14zM746 1005h15v14h-15zM775 1074h15v14h-15zM833 881h15v14h-15zM848 978h14v13h-14zM862 1019h15v14h-15zM950 1682h14v14h-14zM1066 1213h14v13h-14zM1095 909h14v13h-14zM1095 1392h14v14h-14zM1095 1406h14v14h-14zM1138 1530h15v14h-15zM1153 1641h14v14h-14zM1182 1226h14v14h-14zM1182 1558h14v14h-14zM1196 1226h15v14h-15zM1254 1296h15v13h-15zM1327 1309h14v14h-14zM1341 1323h15v14h-15zM1385 1475h14v14h-14zM1399 1351h15v14h-15zM1530 1323h14v14h-14z"/><path fill="#1a7735" d="M471 1848h14v14h-14zM616 2056h14v13h-14zM804 1862h15v14h-15zM819 2139h14v13h-14zM848 1834h14v14h-14zM862 1876h15v14h-15zM1109 1074h15v14h-15zM1124 1102h14v14h-14zM1124 1738h14v14h-14zM1196 1448h15v13h-15zM1225 1240h15v14h-15zM1254 1558h15v14h-15zM1283 1586h15v14h-15zM1298 1254h14v14h-14zM1356 1171h14v14h-14zM1356 1848h14v14h-14zM1428 1240h15v14h-15zM1428 1296h15v13h-15zM1428 1586h15v14h-15zM1443 1351h14v14h-14zM1443 1392h14v14h-14zM1457 1268h15v14h-15zM1472 1282h14v14h-14zM1486 1323h15v14h-15zM1544 1365h15v13h-15zM1559 1240h14v14h-14zM1631 1323h15v14h-15z"/><path fill="#1f832a" d="M616 826h14v13h-14zM717 1904h15v13h-15zM732 1959h14v14h-14zM891 1876h15v14h-15zM993 991h15v14h-15zM1124 1047h14v14h-14zM1182 1779h14v14h-14zM1211 1061h14v13h-14zM1225 1586h15v14h-15zM1283 1074h15v14h-15zM1356 1199h14v14h-14zM1385 1005h14v14h-14zM1385 1282h14v14h-14zM1414 1309h14v14h-14zM1573 1448h15v13h-15zM1675 1199h15v14h-15z"/><path fill="#1d7f2d" d="M630 1779h15v14h-15zM645 1959h14v14h-14zM703 1876h14v14h-14zM775 1973h15v14h-15zM848 2014h14v14h-14zM891 2028h15v14h-15zM1008 1613h14v14h-14zM1022 1779h15v14h-15zM1037 909h14v13h-14zM1167 853h15v14h-15zM1196 1738h15v14h-15zM1240 1337h14v14h-14zM1254 1213h15v13h-15zM1298 1544h14v14h-14zM1312 1268h15v14h-15zM1312 1420h15v14h-15zM1312 1655h15v14h-15zM1356 1323h14v14h-14zM1370 1558h15v14h-15zM1414 1282h14v14h-14zM1486 1240h15v14h-15zM1501 1240h14v14h-14zM1646 1337h14v14h-14zM1646 1420h14v14h-14zM1690 1420h14v14h-14zM1762 1351h15v14h-15z"/><path fill="none" stroke="#000000" stroke-width="5.5" stroke-linejoin="round" d="M654.2 818.7L666.6 807L678.9 818.7L666.6 830.5ZM707.9 804.9L695.6 816.7L683.3 804.9M741.3 818.7L753.6 807L766 818.7L753.6 830.5ZM610.7 832.6L623 820.8L635.4 832.6L623 844.3ZM697.8 846.4L710.1 834.6L722.4 846.4L710.1 858.1ZM726.8 846.4L739.1 834.6L751.4 846.4L739.1 858.1ZM784.8 846.4L797.2 834.6L809.5 846.4L797.2 858.1ZM958.9 846.4L971.3 834.6L983.6 846.4L971.3 858.1ZM581.7 860.2L594 848.4L606.3 860.2L594 871.9ZM842.9 860.2L855.2 848.4L867.5 860.2L855.2 871.9ZM1162.1 860.2L1174.4 848.4L1186.7 860.2L1174.4 871.9ZM697.8 874L710.1 862.3L722.4 874L710.1 885.8ZM1060.5 874L1072.8 862.3L1085.2 874L1072.8 885.8ZM1205.6 874L1217.9 862.3L1230.3 874L1217.9 885.8ZM422.1 887.8L434.4 876.1L446.7 887.8L434.4 899.6ZM828.4 887.8L840.7 876.1L853 887.8L840.7 899.6ZM581.7 901.6L594 889.9L606.3 901.6L594 913.4ZM610.7 901.6L623 889.9L635.4 901.6L635.4 915.5L623 927.2L610.7 915.5ZM726.8 901.6L739.1 889.9L753.6 889.9L766 901.6L753.6 913.4L739.1 913.4ZM784.8 901.6L797.2 889.9L809.5 901.6L797.2 913.4ZM857.4 901.6L869.7 889.9L884.2 889.9L896.5 901.6L898.7 902.7L912.1 915.5L898.7 928.3L896.5 929.3L884.2 941L871.9 929.3L869.7 927.2L857.4 915.5ZM915.4 901.6L927.7 889.9L940.1 901.6L927.7 913.4ZM1031.5 901.6L1043.8 889.9L1056.2 901.6L1056.2 915.5L1043.8 927.2L1031.5 915.5ZM378.5 915.5L390.9 903.7L403.2 915.5L390.9 927.2ZM436.6 915.5L448.9 903.7L461.2 915.5L448.9 927.2ZM465.6 915.5L477.9 903.7L490.3 915.5L477.9 927.2ZM523.6 915.5L536 903.7L548.3 915.5L536 927.2ZM697.8 915.5L710.1 903.7L722.4 915.5L710.1 927.2ZM944.4 915.5L956.8 903.7L969.1 915.5L956.8 927.2L955.7 929.3L942.3 942.1L928.8 929.3L942.3 916.5ZM1002.5 915.5L1014.8 903.7L1027.1 915.5L1014.8 927.2ZM1089.5 915.5L1101.9 903.7L1114.2 915.5L1101.9 927.2ZM1162.1 915.5L1174.4 903.7L1186.7 915.5L1174.4 927.2ZM667.7 929.3L681.1 916.5L694.5 929.3L681.1 942.1ZM393.1 943.1L405.4 931.4L417.7 943.1L405.4 954.9ZM581.7 943.1L594 931.4L608.5 931.4L620.9 943.1L620.9 956.9L608.5 968.7L596.2 956.9L594 954.9ZM697.8 943.1L710.1 931.4L722.4 943.1L710.1 954.9ZM451.1 956.9L463.4 945.2L475.8 956.9L463.4 968.7L461.2 970.7L463.4 972.8L475.8 984.6L463.4 996.3L451.1 984.6L448.9 982.5L436.6 970.7L448.9 959ZM842.9 956.9L855.2 945.2L869.7 945.2L882 956.9L869.7 968.7L855.2 968.7ZM1626.4 956.9L1638.7 945.2L1651.1 956.9L1638.7 968.7ZM958.9 970.7L971.3 959L983.6 970.7L971.3 982.5L969.1 984.6L956.8 996.3L944.4 984.6L956.8 972.8ZM1118.6 970.7L1130.9 959L1143.2 970.7L1130.9 982.5ZM1162.1 970.7L1174.4 959L1186.7 970.7L1174.4 982.5L1172.2 984.6L1159.9 996.3L1157.7 998.4L1145.4 1010.1L1133.1 998.4L1145.4 986.6L1147.6 984.6L1159.9 972.8ZM1336.2 970.7L1348.5 959L1360.9 970.7L1348.5 982.5ZM1205.6 984.6L1217.9 972.8L1230.3 984.6L1230.3 998.4L1230.3 1012.2L1217.9 1024L1205.6 1012.2L1205.6 998.4ZM1408.8 984.6L1421.1 972.8L1433.4 984.6L1421.1 996.3ZM1104 998.4L1116.4 986.6L1128.7 998.4L1116.4 1010.1L1114.2 1012.2L1101.9 1024L1087.4 1024L1075 1012.2L1087.4 1000.5L1101.9 1000.5ZM419.9 1010.1L417.7 1012.2L417.7 1026L419.9 1028.1L422.1 1026L422.1 1012.2ZM608.5 1011.7L607.4 1012.2L594 1025L591.8 1026L594 1026.7L608.5 1027.1L609.6 1026L610.7 1012.2ZM695.6 1010.1L693.4 1012.2L693.4 1026L695.6 1026.7L696.7 1026L696.7 1012.2ZM913.2 1011.2L911.1 1012.2L911.1 1026L913.2 1027.1L914.3 1026L915.4 1012.2ZM1234.6 1012.2L1247 1000.5L1259.3 1012.2L1247 1024ZM1307.2 1012.2L1319.5 1000.5L1331.8 1012.2L1331.8 1026L1334 1028.1L1336.2 1026L1348.5 1014.3L1360.9 1026L1348.5 1037.8L1346.4 1039.8L1334 1051.6L1319.5 1051.6L1318.4 1053.7L1305 1066.5L1291.6 1053.7L1290.5 1051.6L1276 1051.6L1261.5 1051.6L1249.1 1039.8L1261.5 1028.1L1276 1028.1L1290.5 1028.1L1305 1028.1L1307.2 1026ZM1379.7 1012.2L1392.1 1000.5L1406.6 1000.5L1418.9 1012.2L1406.6 1024L1392.1 1024ZM448.9 1024L446.7 1026L446.7 1039.8L448.9 1041.9L450 1039.8L449.6 1026ZM942.3 1024L941.2 1026L940.1 1039.8L942.3 1041.9L943 1039.8L956.8 1026.7L958.9 1026L956.8 1024ZM985.8 1025L983.6 1026L983.6 1039.8L985.8 1041.9L988 1039.8L986.5 1026ZM1437.8 1026L1450.1 1014.3L1462.4 1026L1450.1 1037.8ZM550.5 1038.8L549.4 1039.8L550.5 1040.5L565 1040.4L565.7 1039.8L565 1038.8ZM884.2 1037.8L883.1 1039.8L883.7 1053.7L884.2 1054.7L884.9 1053.7L898.7 1040.5L899.8 1039.8L898.7 1037.8ZM1379.7 1039.8L1392.1 1028.1L1404.4 1039.8L1392.1 1051.6ZM1350.7 1053.7L1363 1041.9L1375.4 1053.7L1363 1065.4ZM913.2 1067L912.1 1067.5L913.2 1067.9L927.7 1068.2L942.3 1069.6L956.8 1068.2L958.9 1067.5L956.8 1067L942.3 1065.4L927.7 1065.4ZM1145.4 1065.4L1143.2 1067.5L1130.9 1079.2L1128.7 1081.3L1130.9 1083.4L1145.4 1082L1145.9 1081.3L1147.6 1067.5ZM1321.7 1067.5L1334 1055.7L1346.4 1067.5L1346.4 1081.3L1334 1093.1L1321.7 1081.3ZM1436.7 1067.5L1450.1 1054.7L1463.5 1067.5L1450.1 1080.3ZM1232.5 1079.2L1231.4 1081.3L1217.9 1094.1L1217.2 1095.1L1217.9 1096.2L1231.4 1109L1230.3 1122.8L1231.4 1136.6L1232.5 1137.6L1247 1138.7L1249.1 1136.6L1247 1134.5L1234.6 1122.8L1234.6 1109L1247 1097.2L1261.5 1096.2L1263.7 1095.1L1261.5 1094.1L1248.1 1081.3L1247 1079.2ZM1407.7 1081.3L1421.1 1068.5L1434.5 1081.3L1421.1 1094.1L1418.9 1095.1L1418.9 1109L1406.6 1120.7L1394.2 1109L1392.1 1107.9L1389.9 1109L1377.6 1120.7L1375.4 1122.8L1363 1134.5L1350.7 1122.8L1348.5 1120.7L1336.2 1109L1348.5 1097.2L1350.7 1095.1L1363 1083.4L1377.6 1083.4L1392.1 1082.3L1406.6 1083.4ZM1539.3 1081.3L1551.7 1069.6L1566.2 1069.6L1578.5 1081.3L1566.2 1093.1L1551.7 1093.1L1549.5 1095.1L1537.2 1106.9L1524.8 1095.1L1537.2 1083.4ZM361.9 1083.4L364 1081.3L376.4 1069.6L378.5 1067.5L377.5 1053.7L378.5 1039.8L378.5 1026L376.4 1024L364 1012.2L376.4 1000.5L378.5 998.4L390.9 986.6L403.2 998.4L405.4 1000.5L407.6 998.4L406.5 984.6L405.4 982.5L393.1 970.7L405.4 959L417.7 970.7L419.9 971.8L433.3 984.6L432.2 998.4L434.4 1000.5L448.9 1000.5L461.2 1012.2L463.4 1012.9L465.6 1012.2L477.9 1000.5L480.1 998.4L480.1 984.6L480.1 970.7L492.4 959L494.6 956.9L507 945.2L521.5 945.2L533.8 956.9L536 959L538.2 956.9L550.5 945.2L552.7 943.1L565 931.4L577.3 943.1L577.3 956.9L578.4 970.8L565 983.5L550.5 982.5L536 982.5L521.5 982.5L507 982.5L504.8 984.6L504.8 998.4L507 999.4L509.1 998.4L521.5 986.6L533.8 998.4L536 1000.5L537.1 998.4L550.5 985.6L563.9 998.4L550.5 1011.2L548.3 1012.2L550.5 1013.2L565 1013.2L579.5 1014.3L580.6 1012.2L580.6 998.4L594 985.6L596.2 984.6L608.5 972.8L623 972.8L637.5 972.8L649.9 984.6L652.1 986.6L666.6 986.6L668.7 984.6L668.7 970.7L666.6 968.7L654.2 956.9L666.6 945.2L681.1 944.1L694.5 956.9L693.4 970.7L695.6 972.8L710.1 971.3L712.3 970.7L724.6 959L736.9 970.7L738 984.6L736.9 998.4L739.1 999.1L740.2 998.4L753.6 985.6L755.8 984.6L755.8 970.7L768.1 959L770.3 956.9L782.6 945.2L797.2 945.2L799.3 943.1L811.7 931.4L813.8 929.3L826.2 917.5L838.5 929.3L826.2 941L824 943.1L811.7 954.9L809.5 956.9L797.2 968.7L795 970.7L797.2 972.8L809.5 984.6L797.2 996.3L795 998.4L797.2 999.1L811.7 1000.5L826.2 998.9L828.4 998.4L828.4 984.6L840.7 972.8L855.2 972.8L869.7 972.8L882 984.6L869.7 996.3L855.2 996.3L853 998.4L855.2 999.1L869.7 1000.5L882 1012.2L884.2 1014.3L886.4 1012.2L886.4 998.4L898.7 986.6L913.2 985.6L915.4 984.6L915.4 970.7L915.4 956.9L913.2 955.9L899.8 943.1L913.2 930.3L926.7 943.1L927.7 945.2L942.3 945.2L954.6 956.9L942.3 968.7L940.1 970.7L940.1 984.6L927.7 996.3L926.7 998.4L927.7 1000.5L942.3 1000.5L956.8 1000.5L971.3 1000.5L973.5 998.4L985.8 986.6L1000.3 985.6L1002.5 984.6L1014.8 972.8L1027.1 984.6L1014.8 996.3L1013.7 998.4L1012.6 1012.2L1014.8 1014.3L1027.1 1026L1029.3 1027.1L1042.7 1039.8L1043.8 1040.9L1044.9 1039.8L1046 1026L1043.8 1024L1031.5 1012.2L1043.8 1000.5L1044.9 998.4L1058.3 985.6L1071.8 998.4L1071.8 1012.2L1070.7 1026L1071.8 1039.8L1058.3 1052.6L1057.2 1053.7L1043.8 1066.5L1041.6 1067.5L1043.5 1081.3L1043.8 1083.4L1044.6 1081.3L1058.3 1068.2L1072.1 1081.3L1072.8 1082.3L1075 1081.3L1075 1067.5L1075 1053.7L1087.4 1041.9L1099.7 1053.7L1099.7 1067.5L1101.9 1069.6L1116.4 1069.6L1118.6 1067.5L1116.4 1065.4L1104 1053.7L1116.4 1041.9L1118.6 1039.8L1130.9 1028.1L1145.4 1028.1L1147.6 1026L1159.9 1014.3L1172.2 1026L1174.4 1028.1L1188.9 1028.1L1201.3 1039.8L1188.9 1051.6L1174.4 1051.6L1162.1 1039.8L1159.9 1037.8L1157.7 1039.8L1157.7 1053.7L1159.9 1055.7L1172.2 1067.5L1174.4 1069.6L1186.7 1081.3L1174.4 1093.1L1159.9 1094.6L1159.2 1095.1L1159.9 1097.2L1174.4 1097.2L1186.7 1109L1188.2 1122.8L1188.9 1123.5L1203.4 1123.2L1205.6 1122.8L1204.5 1109L1203.4 1108.3L1189.7 1095.1L1189.7 1081.3L1203.4 1068.2L1204.5 1067.5L1204.5 1053.7L1205.6 1039.8L1217.9 1028.1L1230.3 1039.8L1231.4 1053.7L1232.5 1055.7L1247 1055.7L1261.5 1055.7L1273.8 1067.5L1274.9 1081.3L1276 1083.4L1277.1 1081.3L1290.5 1068.5L1303.9 1081.3L1290.5 1094.1L1288.3 1095.1L1290.5 1097.2L1305 1097.2L1317.3 1109L1319.5 1111L1331.8 1122.8L1331.8 1136.6L1334 1138.7L1348.5 1138.7L1360.9 1150.4L1348.5 1162.2L1346.4 1164.2L1348.5 1166.3L1363 1166.3L1365.2 1164.2L1377.6 1152.5L1378.6 1150.4L1379.7 1136.6L1392.1 1124.8L1406.6 1124.8L1421.1 1124.8L1433.4 1136.6L1421.1 1148.3L1418.9 1150.4L1421.1 1151.4L1435.6 1151.4L1437.8 1150.4L1450.1 1138.7L1462.4 1150.4L1462.4 1164.2L1450.1 1176L1449 1178L1450.1 1179.1L1463.5 1191.9L1463.5 1205.7L1464.6 1207.8L1466.8 1205.7L1479.1 1193.9L1491.5 1205.7L1491.5 1219.5L1492.5 1233.3L1493.6 1235.4L1495.8 1233.3L1508.1 1221.6L1520.5 1233.3L1520.5 1247.2L1508.1 1258.9L1493.6 1258.9L1491.5 1261L1493.6 1263L1506 1274.8L1508.1 1275.8L1521.6 1288.6L1522.7 1290.7L1537.2 1290.7L1539.3 1288.6L1551.7 1276.9L1564 1288.6L1565.1 1302.4L1566.2 1304.5L1578.5 1316.2L1566.2 1328L1564 1330.1L1551.7 1341.8L1549.5 1343.9L1537.2 1355.6L1522.7 1355.6L1520.5 1357.7L1520.5 1371.5L1522.7 1373.6L1537.2 1373.6L1538.3 1371.5L1551.7 1358.7L1565.1 1371.5L1551.7 1384.3L1549.5 1385.4L1537.2 1397.1L1522.7 1397.1L1508.1 1397.1L1495.8 1385.4L1495.8 1371.5L1495.8 1357.7L1508.1 1346L1510.3 1343.9L1522.7 1332.1L1524.8 1330.1L1537.2 1318.3L1551.7 1318.3L1553.9 1316.2L1551.7 1315.2L1537.2 1314.2L1522.7 1314.2L1520.5 1316.2L1508.1 1328L1506 1330.1L1493.6 1341.8L1479.1 1341.8L1464.6 1341.8L1450.1 1341.8L1447.9 1343.9L1450.1 1346L1462.4 1357.7L1464.6 1359.8L1466.8 1357.7L1479.1 1346L1491.5 1357.7L1479.1 1369.5L1476.9 1371.5L1479.1 1373.6L1491.5 1385.4L1491.5 1399.2L1492.5 1413L1479.1 1425.8L1465.7 1413L1466.8 1399.2L1466.8 1385.4L1464.6 1383.3L1462.4 1385.4L1462.4 1399.2L1450.1 1410.9L1447.9 1413L1450.1 1414L1463.5 1426.8L1462.4 1440.6L1450.1 1452.4L1447.9 1454.4L1449 1468.3L1447.9 1482.1L1450.1 1484.2L1464.6 1484.2L1479.1 1484.2L1491.5 1495.9L1479.1 1507.7L1464.6 1507.7L1450.1 1507.7L1435.6 1507.7L1423.3 1495.9L1421.1 1493.8L1408.8 1482.1L1406.6 1481.1L1404.4 1482.1L1404.4 1495.9L1406.6 1498L1418.9 1509.7L1421.1 1510.8L1434.5 1523.6L1435.6 1525.6L1437.8 1523.6L1450.1 1511.8L1462.4 1523.6L1450.1 1535.3L1447.9 1537.4L1435.6 1549.1L1433.4 1551.2L1435.6 1553.3L1447.9 1565L1435.6 1576.8L1423.3 1565L1421.1 1562.9L1406.6 1564L1392.1 1562.9L1389.9 1565L1391 1578.8L1392.1 1579.9L1393.2 1578.8L1406.6 1566L1420 1578.8L1418.9 1592.6L1406.6 1604.4L1405.5 1606.5L1392.1 1619.3L1377.6 1618.2L1375.4 1620.3L1377.6 1622.4L1389.9 1634.1L1389.9 1647.9L1377.6 1659.7L1365.2 1647.9L1365.2 1634.1L1363 1632L1348.5 1632L1336.2 1620.3L1334 1618.2L1319.5 1619.6L1317.3 1620.3L1317.3 1634.1L1319.5 1636.2L1331.8 1647.9L1334 1649L1336.2 1647.9L1348.5 1636.2L1360.9 1647.9L1348.5 1659.7L1347.4 1661.8L1346.4 1675.6L1348.5 1677.6L1360.9 1689.4L1348.5 1701.1L1336.2 1689.4L1334 1687.3L1321.7 1675.6L1319.5 1673.5L1307.2 1661.8L1307.2 1647.9L1305 1645.9L1290.5 1646.9L1289.4 1647.9L1288.3 1661.8L1276 1673.5L1275.3 1675.6L1261.5 1688.7L1247 1687.3L1246.2 1689.4L1232.5 1702.5L1218.7 1689.4L1232.5 1676.3L1234.6 1675.6L1232.5 1673.5L1217.9 1673.5L1216.9 1675.6L1215.8 1689.4L1203.4 1701.1L1201.3 1703.2L1188.9 1715L1186.7 1717L1188.9 1719.1L1201.3 1730.8L1203.4 1732.9L1205.6 1730.8L1217.9 1719.1L1220.1 1717L1232.5 1705.3L1244.8 1717L1247 1719.1L1261.5 1719.1L1263.7 1717L1261.5 1715L1249.1 1703.2L1261.5 1691.5L1273.8 1703.2L1276 1705.3L1288.3 1717L1276 1728.8L1273.8 1730.8L1273.8 1744.7L1261.5 1756.4L1249.1 1744.7L1247 1742.6L1232.5 1742.6L1217.9 1742.6L1215.8 1744.7L1203.4 1756.4L1188.9 1756.4L1174.4 1756.4L1162.1 1744.7L1159.9 1742.6L1145.4 1743.6L1144.3 1744.7L1130.9 1757.5L1128.7 1758.5L1116.4 1770.2L1115.3 1772.3L1116.4 1774.4L1128.7 1786.1L1130.9 1788.2L1133.1 1786.1L1145.4 1774.4L1145.9 1772.3L1159.9 1759L1173.9 1772.3L1159.9 1785.6L1157.7 1786.1L1145.4 1797.9L1143.2 1800L1130.9 1811.7L1116.4 1811.7L1101.9 1811.7L1087.4 1811.7L1086.3 1813.8L1087.4 1815.8L1101.9 1815.8L1114.2 1827.6L1101.9 1839.3L1087.4 1839.3L1085.2 1841.4L1072.8 1853.2L1058.3 1854.2L1056.2 1855.2L1058.3 1857.3L1070.7 1869L1058.3 1880.8L1046 1869L1043.8 1867L1031.5 1855.2L1043.8 1843.5L1044.9 1841.4L1058.3 1828.6L1072.8 1829.7L1075 1827.6L1072.8 1826.6L1059.4 1813.8L1060.5 1800L1072.8 1788.2L1075 1786.1L1075 1772.3L1073.4 1758.5L1072.8 1757.5L1072.3 1758.5L1071.8 1772.3L1058.3 1785.1L1043.8 1784.1L1042.7 1786.1L1043.8 1788.2L1056.2 1800L1043.8 1811.7L1041.6 1813.8L1041.6 1827.6L1029.3 1839.3L1014.8 1839.3L1000.3 1840.4L999.2 1841.4L985.8 1854.2L984.7 1855.2L971.3 1868L956.8 1868L943.3 1855.2L942.3 1853.2L941.5 1855.2L940.1 1869L941.5 1882.9L927.7 1896L914 1882.9L913.2 1880.8L912.1 1882.9L898.7 1895.7L884.2 1894.6L869.7 1895.7L867.5 1896.7L867.5 1910.5L867.5 1924.3L869.7 1926.4L884.2 1925.4L897.6 1938.2L884.2 1950.9L869.7 1949.9L855.2 1950.9L840.7 1949.9L828.4 1938.2L840.7 1926.4L842.9 1924.3L840.7 1922.3L828.4 1910.5L826.2 1909.5L811.7 1908.4L809.5 1910.5L810.6 1924.3L809.5 1938.2L797.2 1949.9L795 1952L797.2 1954L809.5 1965.8L797.2 1977.5L796.6 1979.6L782.6 1992.9L768.1 1991.4L755.8 1979.6L768.1 1967.9L770.3 1965.8L770.3 1952L768.1 1949.9L753.6 1950.9L751.4 1952L751.4 1965.8L739.1 1977.5L738 1979.6L736.9 1993.4L724.6 2005.2L712.3 1993.4L711.2 1979.6L712.3 1965.8L710.1 1963.7L707.9 1965.8L695.6 1977.5L694.5 1979.6L695.6 1981.7L707.9 1993.4L695.6 2005.2L693.4 2007.2L681.1 2019L678.9 2021.1L681.1 2023.1L693.4 2034.9L681.1 2046.6L668.7 2034.9L666.6 2032.8L652.1 2032.8L639.7 2021.1L652.1 2009.3L653.1 2007.3L654.2 1993.4L654.2 1979.6L652.1 1977.5L637.5 1978.6L624.1 1965.8L637.5 1953L638.6 1952L639.7 1938.2L639.7 1924.3L638.6 1910.5L637.5 1908.4L635.4 1910.5L623 1922.3L621.9 1924.3L623 1926.4L635.4 1938.2L623 1949.9L610.7 1938.2L608.5 1937.1L595.1 1924.3L608.5 1911.5L610.7 1910.5L608.5 1909.5L594 1909.8L592.9 1910.5L579.5 1923.3L566.1 1910.5L579.5 1897.7L580.2 1896.7L579.5 1896.2L565 1894.6L550.5 1896L536.7 1882.9L536 1880.8L534.9 1882.9L533.8 1896.7L536 1897.7L550.5 1897.7L563.9 1910.5L550.5 1923.3L536 1923.3L522.6 1910.5L521.5 1908.4L519.3 1910.5L507 1922.3L494.6 1910.5L493.5 1896.7L493.2 1882.9L492.4 1881.8L490.3 1882.9L477.9 1894.6L463.4 1894.6L461.2 1896.7L461.2 1910.5L448.9 1922.3L436.6 1910.5L436.6 1896.7L448.9 1884.9L451.1 1882.9L448.9 1882.2L434.4 1880.8L432.2 1882.9L419.9 1894.6L405.4 1894.6L390.9 1894.6L376.4 1894.6L364 1882.9L376.4 1871.1L390.9 1871.1L405.4 1871.1L419.9 1871.1L422.1 1869L419.9 1868L406.5 1855.2L405.4 1853.2L403.2 1855.2L390.9 1867L376.4 1867L364 1855.2L376.4 1843.5L390.9 1843.5L393.1 1841.4L393.1 1827.6L390.9 1826.9L388.7 1827.6L376.4 1839.3L364 1827.6L376.4 1815.8L377.1 1813.8L378.5 1800L390.9 1788.2L393.1 1786.1L405.4 1774.4L406.1 1772.3L405.4 1771.3L392 1758.5L390.9 1756.4L376.4 1756.4L364 1744.7L361.9 1743.6M1452.3 1095.1L1464.6 1083.4L1476.9 1095.1L1479.1 1097.2L1491.5 1109L1479.1 1120.7L1466.8 1109L1464.6 1106.9L1462.4 1109L1462.4 1122.8L1450.1 1134.5L1437.8 1122.8L1435.6 1120.7L1423.3 1109L1435.6 1097.2L1450.1 1097.2ZM1626.4 1095.1L1638.7 1083.4L1651.1 1095.1L1638.7 1106.9ZM1043.8 1106.9L1041.6 1109L1043.8 1110L1058.3 1110L1059.1 1109L1058.3 1107.9ZM1713.5 1109L1725.8 1097.2L1738.1 1109L1725.8 1120.7ZM1261.5 1121.7L1259.3 1122.8L1261.5 1124.8L1276 1124.8L1277.1 1122.8L1276 1120.7ZM1481.3 1136.6L1493.6 1124.8L1506 1136.6L1493.6 1148.3L1491.5 1150.4L1479.1 1162.2L1466.8 1150.4L1479.1 1138.7ZM1568.4 1136.6L1580.7 1124.8L1593 1136.6L1580.7 1148.3ZM1655.4 1136.6L1667.8 1124.8L1680.1 1136.6L1667.8 1148.3ZM1713.5 1136.6L1725.8 1124.8L1738.1 1136.6L1725.8 1148.3ZM1539.3 1164.2L1551.7 1152.5L1564 1164.2L1551.7 1176ZM1247 1177.4L1244.8 1178L1247 1179.1L1261.5 1178.7L1262.2 1178L1261.5 1177.4ZM1421.1 1177L1420.6 1178L1418.9 1191.9L1406.6 1203.6L1404.4 1205.7L1405.5 1219.5L1406.6 1221.6L1407.7 1219.5L1421.1 1206.7L1423.3 1205.7L1422.2 1191.9L1422.2 1178ZM1611.9 1178L1624.2 1166.3L1638.7 1166.3L1651.1 1178L1638.7 1189.8L1624.2 1189.8ZM1363 1189.8L1360.9 1191.9L1363 1193.9L1377.6 1192.6L1378.3 1191.9L1377.6 1191.2ZM1539.3 1191.9L1551.7 1180.1L1564 1191.9L1551.7 1203.6L1550.6 1205.7L1537.2 1218.5L1523.7 1205.7L1537.2 1192.9ZM1684.4 1191.9L1696.8 1180.1L1709.1 1191.9L1696.8 1203.6L1694.6 1205.7L1682.3 1217.4L1669.9 1205.7L1682.3 1193.9ZM361.9 1193.9L362.9 1191.9L362.9 1178L376.4 1165.3L377.1 1164.2L376.4 1163.5L362.6 1150.4L364 1136.6L364 1122.8L364 1109L361.9 1106.9M1783.8 1203.6L1771.5 1191.9L1783.8 1180.1M1553.9 1219.5L1566.2 1207.8L1578.5 1219.5L1580.7 1221.6L1593 1233.3L1580.7 1245.1L1578.5 1247.2L1566.2 1258.9L1553.9 1247.2L1553.9 1233.3ZM1377.6 1231.3L1376.8 1233.3L1377.6 1235.4L1392.1 1235.4L1394.2 1233.3L1392.1 1232.3ZM1597.4 1233.3L1609.7 1221.6L1624.2 1221.6L1636.6 1233.3L1624.2 1245.1L1609.7 1245.1ZM1783.8 1231.3L1771.5 1219.5L1783.8 1207.8M1640.9 1247.2L1653.2 1235.4L1667.8 1235.4L1680.1 1247.2L1667.8 1258.9L1653.2 1258.9ZM1524.8 1261L1537.2 1249.2L1549.5 1261L1537.2 1272.7ZM1582.9 1261L1595.2 1249.2L1607.5 1261L1595.2 1272.7L1594.1 1274.8L1580.7 1287.6L1567.3 1274.8L1580.7 1262ZM1611.9 1261L1624.2 1249.2L1636.6 1261L1624.2 1272.7ZM1757 1274.8L1769.3 1263L1781.7 1274.8L1769.3 1286.5ZM361.9 1276.9L374.2 1288.6L376.4 1289L376.8 1288.6L377.5 1274.8L376.4 1273.8L362.9 1261L361.9 1258.9M1493.6 1286.5L1491.5 1288.6L1479.1 1300.4L1478 1302.4L1464.6 1315.2L1462.4 1316.2L1464.6 1318.3L1479.1 1318.3L1480.2 1316.2L1493.6 1303.5L1508.1 1304.5L1510.3 1302.4L1508.1 1301.4L1494.7 1288.6ZM1392.1 1301.4L1389.9 1302.4L1391 1316.2L1392.1 1316.9L1393.2 1316.2L1392.6 1302.4ZM1626.4 1302.4L1638.7 1290.7L1651.1 1302.4L1653.2 1304.5L1665.6 1316.2L1653.2 1328L1652.2 1330.1L1653.2 1332.1L1665.6 1343.9L1653.2 1355.6L1638.7 1355.6L1626.4 1343.9L1625.3 1330.1L1638.7 1317.3L1640.9 1316.2L1638.7 1314.2ZM1783.8 1314.2L1771.5 1302.4L1783.8 1290.7M1421.1 1329L1418.9 1330.1L1406.6 1341.8L1392.1 1343.2L1377.6 1342.9L1376.8 1343.9L1377.6 1346L1389.9 1357.7L1392.1 1359.8L1393.2 1357.7L1406.6 1344.9L1421.1 1346L1423.3 1343.9L1421.8 1330.1ZM1669.9 1330.1L1682.3 1318.3L1694.6 1330.1L1682.3 1341.8ZM361.9 1332.1L364 1330.1L362.4 1316.2L362.3 1302.4L361.9 1300.4M1597.4 1343.9L1609.7 1332.1L1622 1343.9L1609.7 1355.6ZM1783.8 1341.8L1771.5 1330.1L1783.8 1318.3M1669.9 1357.7L1682.3 1346L1694.6 1357.7L1694.6 1371.5L1682.3 1383.3L1669.9 1371.5ZM1757 1357.7L1769.3 1346L1781.7 1357.7L1769.3 1369.5ZM1348.5 1371.1L1346.4 1371.5L1348.5 1372.6L1363 1373.6L1364.1 1371.5L1363 1370.5ZM1421.1 1369.5L1420.6 1371.5L1420 1385.4L1418.9 1399.2L1421.1 1401.2L1435.6 1401.2L1437.8 1399.2L1435.6 1398.1L1422.2 1385.4L1423.3 1371.5ZM1699 1385.4L1711.3 1373.6L1723.6 1385.4L1725.8 1387.4L1740.3 1387.4L1752.6 1399.2L1740.3 1410.9L1725.8 1410.9L1711.3 1410.9L1699 1399.2ZM1757 1385.4L1769.3 1373.6L1781.7 1385.4L1769.3 1397.1ZM1668.8 1399.2L1682.3 1386.4L1695.7 1399.2L1682.3 1412ZM1392.1 1410.9L1389.9 1413L1391.5 1426.8L1392.1 1428.9L1393.2 1426.8L1406.6 1414L1408.8 1413L1406.6 1410.9ZM1524.8 1413L1537.2 1401.2L1549.5 1413L1537.2 1424.7ZM1348.5 1425.8L1347.4 1426.8L1346.4 1440.6L1348.5 1441.7L1350.7 1440.6L1349.6 1426.8ZM1597.4 1426.8L1609.7 1415.1L1622 1426.8L1609.7 1438.6ZM1640.9 1426.8L1653.2 1415.1L1667.8 1415.1L1680.1 1426.8L1667.8 1438.6L1653.2 1438.6ZM1684.4 1426.8L1696.8 1415.1L1709.1 1426.8L1696.8 1438.6ZM1466.8 1440.6L1479.1 1428.9L1493.6 1428.9L1506 1440.6L1507.1 1454.4L1508.1 1456.5L1520.5 1468.3L1520.5 1482.1L1508.1 1493.8L1495.8 1482.1L1495.8 1468.3L1493.6 1467.2L1491.5 1468.3L1479.1 1480L1464.6 1480L1452.3 1468.3L1464.6 1456.5L1466.8 1454.4ZM1538.3 1440.6L1551.7 1427.8L1566.2 1427.8L1579.6 1440.6L1580.7 1442.7L1593 1454.4L1580.7 1466.2L1568.4 1454.4L1566.2 1453.4L1551.7 1453.4L1549.5 1454.4L1537.2 1466.2L1524.8 1454.4L1537.2 1442.7ZM1363 1452.4L1362 1454.4L1348.5 1467.2L1347.4 1468.3L1348.5 1470.3L1363 1470.3L1364.1 1468.3L1364.1 1454.4ZM1247 1466.2L1246.5 1468.3L1244.8 1482.1L1247 1482.8L1247.7 1482.1L1261.5 1469L1276 1468.8L1278.2 1468.3L1276 1467.6L1261.5 1466.2ZM1640.9 1468.3L1653.2 1456.5L1665.6 1468.3L1667.8 1470.3L1669.9 1468.3L1682.3 1456.5L1694.6 1468.3L1682.3 1480L1680.1 1482.1L1667.8 1493.8L1655.4 1482.1L1653.2 1480L1651.1 1482.1L1638.7 1493.8L1626.4 1482.1L1638.7 1470.3ZM1348.5 1521.5L1347.4 1523.6L1348.5 1524.6L1363 1524.6L1365.2 1523.6L1363 1522.5ZM1481.3 1523.6L1493.6 1511.8L1506 1523.6L1507.1 1537.4L1506 1551.2L1493.6 1562.9L1479.1 1562.9L1466.8 1551.2L1479.1 1539.4L1480.2 1537.4ZM1626.4 1523.6L1638.7 1511.8L1651.1 1523.6L1638.7 1535.3ZM361.9 1525.6L362.9 1523.6L362.4 1509.7L361.9 1508.7M1582.9 1537.4L1595.2 1525.6L1609.7 1525.6L1622 1537.4L1609.7 1549.1L1595.2 1549.1ZM1247 1550.7L1244.8 1551.2L1244.8 1565L1247 1567.1L1247.5 1565L1248.1 1551.2ZM1319.5 1550.2L1318.4 1551.2L1318.4 1565L1317.3 1578.8L1317.3 1592.6L1319.5 1593.3L1334 1594.7L1335.1 1592.6L1334 1590.6L1321.7 1578.8L1320.6 1565L1334 1552.2L1335.1 1551.2L1334 1550.5ZM1363 1591.6L1362 1592.6L1363 1593.3L1377.6 1594.7L1378.6 1592.6L1377.6 1591.6ZM1423.3 1592.6L1435.6 1580.9L1447.9 1592.6L1435.6 1604.4ZM1495.8 1592.6L1508.1 1580.9L1520.5 1592.6L1508.1 1604.4ZM361.9 1608.5L362.4 1606.5L362.6 1592.6L362.9 1578.8L362.3 1565L361.9 1564M1159.9 1619.8L1157.7 1620.3L1159.9 1620.8L1174.4 1622.4L1186.7 1634.1L1188.9 1635.1L1191.1 1634.1L1191.1 1620.3L1188.9 1619.3L1174.4 1618.2ZM1217.9 1618.2L1215.8 1620.3L1215.8 1634.1L1217.9 1634.8L1220.1 1634.1L1220.1 1620.3ZM1276 1619.8L1273.8 1620.3L1261.5 1632L1260.7 1634.1L1261.5 1636.2L1276 1635.1L1277.1 1634.1L1290.5 1621.3L1292.7 1620.3L1290.5 1618.2ZM1437.8 1620.3L1450.1 1608.5L1462.4 1620.3L1464.6 1622.4L1476.9 1634.1L1464.6 1645.9L1462.4 1647.9L1450.1 1659.7L1437.8 1647.9L1435.6 1645.9L1433.4 1647.9L1421.1 1659.7L1408.8 1647.9L1406.6 1645.9L1394.2 1634.1L1406.6 1622.4L1418.9 1634.1L1421.1 1636.2L1423.3 1634.1L1435.6 1622.4ZM1480.2 1620.3L1493.6 1607.5L1507.1 1620.3L1493.6 1633.1ZM1174.4 1688.4L1172.2 1689.4L1174.4 1691.5L1188.9 1691.5L1191.1 1689.4L1188.9 1688.4ZM1130.9 1701.1L1130.2 1703.2L1130.9 1705.3L1145.4 1704.2L1147.6 1703.2L1145.4 1702.2ZM1291.6 1703.2L1305 1690.4L1318.4 1703.2L1305 1716ZM1495.8 1703.2L1508.1 1691.5L1520.5 1703.2L1508.1 1715ZM361.9 1705.3L376.4 1705.3L377.1 1703.2L377.5 1689.4L376.9 1675.6L376.4 1674.9L361.9 1673.5M1101.9 1716L1101.1 1717L1087.4 1730.2L1072.8 1730.4L1072.1 1730.8L1072.8 1731.9L1087.4 1732.9L1101.9 1732.9L1104 1730.8L1104 1717ZM1292.7 1744.7L1305 1732.9L1319.5 1732.9L1331.8 1744.7L1319.5 1756.4L1305 1756.4ZM448.9 1772L448.2 1772.3L448.4 1786.1L448.9 1787.2L449.4 1786.1L449.6 1772.3ZM1176.6 1772.3L1188.9 1760.6L1201.3 1772.3L1201.3 1786.1L1201.3 1800L1188.9 1811.7L1176.6 1800L1176.6 1786.1ZM1292.7 1772.3L1305 1760.6L1317.3 1772.3L1305 1784.1ZM1379.7 1786.1L1392.1 1774.4L1404.4 1786.1L1392.1 1797.9ZM361.9 1788.2L374.2 1800L361.9 1811.7M419.9 1799.5L418.8 1800L418.8 1813.8L417.7 1827.6L417.7 1841.4L419.9 1842.4L433.3 1855.2L434.4 1857.3L448.9 1855.9L451.1 1855.2L451.1 1841.4L448.9 1840.9L434.4 1839.3L422.1 1827.6L434.4 1815.8L434.9 1813.8L434.4 1811.7L422.1 1800ZM1234.6 1800L1247 1788.2L1259.3 1800L1247 1811.7ZM956.8 1826.9L954.6 1827.6L954.6 1841.4L956.8 1842.4L958.9 1841.4L958.9 1827.6ZM1176.6 1827.6L1188.9 1815.8L1201.3 1827.6L1188.9 1839.3ZM1220.1 1827.6L1232.5 1815.8L1244.8 1827.6L1247 1829.7L1261.5 1829.7L1273.8 1841.4L1261.5 1853.2L1247 1853.2L1234.6 1841.4L1232.5 1839.3ZM1292.7 1827.6L1305 1815.8L1317.3 1827.6L1305 1839.3ZM1118.6 1841.4L1130.9 1829.7L1143.2 1841.4L1130.9 1853.2ZM797.2 1853.2L796.4 1855.2L795 1869L797.2 1870.1L798.2 1869L797.9 1855.2ZM855.2 1854.2L854.5 1855.2L853 1869L855.2 1870.1L857.4 1869L855.7 1855.2ZM1088.4 1855.2L1101.9 1842.4L1115.3 1855.2L1101.9 1868ZM1176.6 1855.2L1188.9 1843.5L1201.3 1855.2L1188.9 1867ZM1350.7 1855.2L1363 1843.5L1375.4 1855.2L1363 1867ZM507 1868L505.9 1869L507 1869.7L521.5 1870.1L523.6 1869L521.5 1867ZM988 1869L1000.3 1857.3L1012.6 1869L1012.6 1882.9L1000.3 1894.6L998.1 1896.7L985.8 1908.4L973.5 1896.7L985.8 1884.9L988 1882.9ZM1147.6 1882.9L1159.9 1871.1L1172.2 1882.9L1159.9 1894.6ZM1176.6 1882.9L1188.9 1871.1L1201.3 1882.9L1201.3 1896.7L1188.9 1908.4L1176.6 1896.7ZM681.1 1895.7L680 1896.7L666.6 1909.5L665.5 1910.5L664.4 1924.3L664.4 1938.2L666.6 1940.2L668.7 1938.2L668.7 1924.3L681.1 1912.6L683.3 1910.5L695.6 1898.8L697.8 1896.7L695.6 1894.6ZM768.1 1894.6L766 1896.7L766 1910.5L753.6 1922.3L739.1 1922.3L736.9 1924.3L739.1 1925.4L753.6 1925.4L768.1 1926.4L782.6 1926.4L783.7 1924.3L784.8 1910.5L782.6 1908.4L770.3 1896.7ZM944.4 1896.7L956.8 1884.9L969.1 1896.7L956.8 1908.4ZM465.6 1910.5L477.9 1898.8L490.3 1910.5L477.9 1922.3ZM899.8 1910.5L913.2 1897.7L926.7 1910.5L913.2 1923.3ZM1031.5 1910.5L1043.8 1898.8L1056.2 1910.5L1043.8 1922.3ZM1104 1910.5L1116.4 1898.8L1128.7 1910.5L1116.4 1922.3ZM361.9 1912.6L374.2 1924.3L361.9 1936.1M393.1 1924.3L405.4 1912.6L417.7 1924.3L405.4 1936.1ZM929.9 1924.3L942.3 1912.6L956.8 1911.2L971.3 1911.5L985.8 1912.6L1000.3 1912.6L1012.6 1924.3L1012.6 1938.2L1000.3 1949.9L988 1938.2L985.8 1936.1L971.3 1937.1L969.1 1938.2L969.1 1952L956.8 1963.7L944.4 1952L944.4 1938.2L942.3 1936.1ZM465.6 1938.2L477.9 1926.4L490.3 1938.2L492.4 1940.2L507 1940.2L521.5 1940.2L522.2 1938.2L536 1925L550.5 1925.4L565 1926.4L579.5 1926.4L591.8 1938.2L579.5 1949.9L577.3 1952L579.5 1953L594 1953L608.5 1953L621.9 1965.8L622.3 1979.6L623 1981.7L637.5 1981.7L649.9 1993.4L637.5 2005.2L623 2005.2L620.9 2007.2L608.5 2019L596.2 2007.2L608.5 1995.5L610.7 1993.4L608.5 1992.7L594 1991.4L579.5 1991.4L577.3 1993.4L565 2005.2L552.7 1993.4L550.5 1991.4L536 1991.4L523.6 1979.6L521.5 1977.5L509.1 1965.8L507 1963.7L492.4 1963.7L480.1 1952L477.9 1949.9ZM1089.5 1938.2L1101.9 1926.4L1114.2 1938.2L1101.9 1949.9ZM536 1951.3L533.8 1952L536 1954L548.3 1965.8L550.5 1967.9L551.6 1965.8L552.7 1952L550.5 1950.9ZM915.4 1952L927.7 1940.2L940.1 1952L940.1 1965.8L942.3 1967.9L954.6 1979.6L942.3 1991.4L940.1 1993.4L927.7 2005.2L915.4 1993.4L927.7 1981.7L929.9 1979.6L927.7 1977.5L915.4 1965.8ZM1017 1952L1029.3 1940.2L1041.6 1952L1029.3 1963.7ZM1162.1 1952L1174.4 1940.2L1186.7 1952L1174.4 1963.7ZM436.6 1965.8L448.9 1954L461.2 1965.8L463.4 1967.9L475.8 1979.6L463.4 1991.4L448.9 1991.4L434.4 1991.4L422.1 1979.6L434.4 1967.9ZM813.8 1965.8L826.2 1954L838.5 1965.8L840.7 1967.9L842.9 1965.8L855.2 1954L869.7 1954L884.2 1954L898.7 1954L911.1 1965.8L911.1 1979.6L911.1 1993.4L898.7 2005.2L896.5 2007.2L884.2 2019L869.7 2019L867.5 2021.1L855.2 2032.8L842.9 2021.1L855.2 2009.3L857.4 2007.2L855.2 2005.2L842.9 1993.4L840.7 1991.4L839.6 1993.4L826.2 2006.2L812.8 1993.4L813.8 1979.6ZM855.2 1977.5L853 1979.6L855.2 1981.7L867.5 1993.4L869.7 1995.5L871.9 1993.4L870.8 1979.6L869.7 1977.5ZM988 1979.6L1000.3 1967.9L1012.6 1979.6L1000.3 1991.4ZM1133.1 1979.6L1145.4 1967.9L1157.7 1979.6L1145.4 1991.4ZM1075 1993.4L1087.4 1981.7L1099.7 1993.4L1087.4 2005.2ZM407.6 2007.2L419.9 1995.5L432.2 2007.2L419.9 2019ZM509.1 2007.2L521.5 1995.5L533.8 2007.2L521.5 2019ZM552.7 2021.1L565 2009.3L579.5 2009.3L591.8 2021.1L579.5 2032.8L565 2032.8ZM725.7 2021.1L739.1 2008.3L753.6 2009.3L768.1 2009.3L782.6 2009.3L795 2021.1L795 2034.9L797.2 2037L809.5 2048.7L797.2 2060.5L796.1 2062.5L782.6 2075.3L769.2 2062.5L768.1 2060.5L766 2062.5L753.6 2074.3L741.3 2062.5L753.6 2050.8L755.8 2048.7L768.1 2037L770.3 2034.9L768.1 2032.8L753.6 2032.8L739.1 2033.9ZM799.3 2021.1L811.7 2009.3L826.2 2009.3L838.5 2021.1L826.2 2032.8L811.7 2032.8ZM610.7 2034.9L623 2023.1L635.4 2034.9L623 2046.6L620.9 2048.7L623 2049.7L636.5 2062.5L623 2075.3L609.6 2062.5L608.5 2060.5L596.2 2048.7L608.5 2037ZM885.3 2034.9L898.7 2022.1L912.1 2034.9L898.7 2047.7ZM422.1 2048.7L434.4 2037L446.7 2048.7L434.4 2060.5ZM509.1 2048.7L521.5 2037L533.8 2048.7L534.9 2062.5L521.5 2075.3L508 2062.5ZM538.2 2048.7L550.5 2037L562.8 2048.7L550.5 2060.5ZM915.4 2048.7L927.7 2037L940.1 2048.7L927.7 2060.5ZM1060.5 2048.7L1072.8 2037L1085.2 2048.7L1072.8 2060.5ZM683.3 2062.5L695.6 2050.8L707.9 2062.5L695.6 2074.3ZM552.7 2076.4L565 2064.6L577.3 2076.4L565 2088.1ZM581.7 2076.4L594 2064.6L606.3 2076.4L606.3 2090.2L594 2101.9L581.7 2090.2ZM886.4 2076.4L898.7 2064.6L911.1 2076.4L898.7 2088.1ZM625.2 2090.2L637.5 2078.4L649.9 2090.2L637.5 2101.9ZM726.8 2090.2L739.1 2078.4L751.4 2090.2L739.1 2101.9L736.9 2104L724.6 2115.7L712.3 2104L724.6 2092.2ZM421 2104L434.4 2091.2L447.8 2104L434.4 2116.8ZM552.7 2104L565 2092.2L577.3 2104L565 2115.7ZM784.8 2104L797.2 2092.2L809.5 2104L811.7 2106.1L824 2117.8L811.7 2129.6L799.3 2117.8L797.2 2115.7L795 2117.8L782.6 2129.6L768.1 2129.6L755.8 2117.8L768.1 2106.1L782.6 2106.1ZM828.4 2104L840.7 2092.2L853 2104L840.7 2115.7ZM886.4 2104L898.7 2092.2L911.1 2104L898.7 2115.7ZM929.9 2104L942.3 2092.2L954.6 2104L942.3 2115.7ZM494.6 2117.8L507 2106.1L519.3 2117.8L507 2129.6ZM523.6 2131.6L536 2119.9L550.5 2119.9L562.8 2131.6L550.5 2143.4L536 2143.4ZM596.2 2131.6L608.5 2119.9L620.9 2131.6L608.5 2143.4ZM639.7 2131.6L652.1 2119.9L664.4 2131.6L666.6 2133.7L668.7 2131.6L681.1 2119.9L693.4 2131.6L681.1 2143.4L678.9 2145.4L666.6 2157.2L654.2 2145.4L652.1 2143.4ZM842.9 2131.6L855.2 2119.9L867.5 2131.6L855.2 2143.4ZM871.9 2131.6L884.2 2119.9L896.5 2131.6L884.2 2143.4ZM813.8 2145.4L826.2 2133.7L838.5 2145.4L826.2 2157.2Z"/><path fill="none" stroke="#1c1c1c" stroke-width="5.5" stroke-linejoin="round" d="M589.9 1053.7L594 1046.8L599.8 1053.7L594 1058.3ZM646.3 1067.5L652.1 1060.6L666.6 1067.5L652.1 1081.3ZM695.6 1067.5L710.1 1053.7L713 1067.5L710.1 1072.1ZM763.3 1067.5L768.1 1064L775.4 1067.5L775.4 1081.3L782.6 1091.7L787.5 1095.1L782.6 1098.6L775.4 1109L782.6 1114.1L791.4 1109L797.2 1102L806.8 1109L811.7 1113.6L814.6 1109L826.2 1099.7L835.8 1109L840.7 1122.8L840.7 1122.8L855.2 1125.5L860 1122.8L869.7 1117.2L877 1122.8L884.2 1132L898.7 1129.7L906 1136.6L913.2 1138.9L927.7 1141.8L935 1136.6L942.3 1128.3L956.8 1136.6L949.5 1150.4L942.3 1153.9L927.7 1161.9L913.2 1164.2L913.2 1164.2L913.2 1164.2L927.7 1167.7L942.3 1169.4L956.8 1178L956.8 1178L956.8 1178L971.3 1167L982.9 1178.1L985.8 1182.7L1000.3 1184L1014.8 1183.6L1029.3 1191.9L1029.3 1205.7L1029.3 1205.7L1039 1219.5L1034.2 1233.3L1043.8 1238.9L1047 1233.3L1054.7 1219.5L1047.5 1205.7L1043.8 1201.1L1029.3 1191.9L1043.8 1182.7L1048.7 1178L1043.8 1174.6L1029.3 1173.4L1014.8 1168.8L1007.6 1164.2L1000.3 1157.3L995.5 1150.4L1000.3 1143.5L1014.8 1143.5L1029.3 1147.6L1039 1136.6L1043.8 1131.1L1049.6 1136.6L1047.5 1150.4L1054.7 1164.2L1058.3 1168.8L1072.8 1175.3L1076.5 1178L1072.8 1182.7L1063.2 1191.9L1072.8 1201.1L1087.4 1197.4L1098.2 1205.7L1101.9 1212.6L1109.1 1205.7L1116.4 1191.9L1130.9 1197.4L1139.6 1205.7L1130.9 1214L1116.4 1219.5L1116.4 1219.5L1116.4 1219.5L1130.9 1228.7L1145.4 1233.3L1130.9 1236.8L1116.4 1237.9L1109.1 1247.2L1116.4 1256.4L1130.9 1257.5L1145.4 1261L1145.4 1261L1159.9 1274.8L1159.9 1274.8L1167.2 1288.6L1174.4 1302.4L1174.4 1302.4L1188.9 1316.2L1182.7 1330.1L1188.9 1337L1197.6 1330.1L1203.4 1323.2L1213.1 1330.1L1214.3 1343.9L1217.9 1357.7L1203.4 1365.6L1188.9 1371.5L1188.9 1371.5L1174.4 1385.4L1159.9 1376.1L1145.4 1378.4L1130.9 1385.4L1130.9 1385.4L1130.9 1385.4L1145.4 1388.8L1159.9 1394.6L1174.4 1399.2L1159.9 1406.1L1145.4 1409.5L1143.8 1413L1145.4 1417.6L1159.9 1417.6L1169.6 1426.8L1169.6 1440.6L1172.3 1454.5L1174.4 1459.1L1178 1454.4L1188.9 1440.6L1196.2 1454.4L1203.4 1464.8L1208.3 1468.3L1203.4 1471L1188.9 1482.1L1174.4 1473.8L1164.7 1468.3L1159.9 1466.3L1149 1454.4L1145.4 1447.5L1130.9 1454.4L1130.9 1454.4L1130.9 1454.4L1141.8 1468.3L1145.4 1471L1159.9 1482.1L1145.4 1489L1130.9 1495.9L1130.9 1495.9L1130.9 1509.7L1130.9 1509.7L1130.9 1509.7L1145.4 1507L1152.6 1509.7L1159.9 1523.6L1145.4 1532.8L1140.6 1537.4L1141.8 1551.2L1145.4 1565L1145.4 1578.8L1130.9 1588L1123.6 1578.8L1116.4 1571.9L1106.7 1565L1101.9 1558.1L1097 1551.2L1087.4 1545.7L1084.1 1551.2L1081.6 1565L1072.8 1575.4L1058.3 1575.4L1043.8 1576.5L1040.2 1578.8L1043.8 1585.7L1058.3 1581.6L1072.8 1582.3L1087.4 1578.8L1101.9 1585.7L1116.4 1592.6L1101.9 1599.6L1087.4 1606.5L1087.4 1606.5L1072.8 1620.3L1065.6 1606.5L1058.3 1603.7L1043.8 1606.5L1043.8 1606.5L1036.6 1620.3L1043.8 1627.2L1058.3 1634.1L1043.8 1647.9L1029.3 1647.9L1029.3 1647.9L1029.3 1647.9L1036.6 1661.8L1043.8 1671L1046.2 1675.6L1043.8 1678.3L1029.3 1675.6L1029.3 1675.6L1019.6 1661.8L1014.8 1654.8L1010 1661.8L1000.3 1666.4L985.8 1675.6L985.8 1675.6L971.3 1686.6L956.8 1679L948.1 1689.4L956.8 1697.7L966.4 1703.2L956.8 1708.7L942.3 1706.7L927.7 1711.1L921.5 1717L924.1 1730.8L913.2 1741.2L898.7 1744.7L898.7 1744.7L898.7 1744.7L906 1758.5L898.7 1761.9L884.2 1772.3L869.7 1769.5L855.2 1767.7L840.7 1758.5L840.7 1744.7L846.5 1730.8L840.7 1721.6L837.1 1730.8L840.7 1744.7L840.7 1758.5L826.2 1768.9L821.3 1772.3L811.7 1781.5L797.2 1777.8L789.9 1772.3L782.6 1766.8L773 1772.3L768.1 1775.8L757.3 1786.1L753.6 1800L753.6 1800L750 1813.8L748.8 1827.6L739.1 1833.1L733.3 1827.6L724.6 1817.2L717.4 1813.8L724.6 1809.2L734.3 1800L734.3 1786.1L739.1 1782.7L750 1772.3L739.1 1767.7L728.2 1772.3L724.6 1776.9L714.9 1786.1L710.1 1790.7L702.8 1786.1L695.6 1782.7L692.7 1786.1L688.3 1800L681.1 1806.9L670.2 1800L666.6 1786.1L681.1 1776.9L686.9 1772.3L681.1 1765.4L666.6 1758.5L666.6 1758.5L666.6 1758.5L662.4 1772.3L666.6 1786.1L664.1 1800L666.6 1806.9L670.2 1813.8L681.1 1824.1L684 1827.6L681.1 1832.2L666.6 1835.3L658.5 1827.6L661.7 1813.8L652.1 1809.8L640 1800L643.8 1786.1L637.5 1777.8L627.9 1772.3L623 1767.7L619.4 1772.3L623 1779.2L626.7 1786.1L634.6 1800L623 1809.2L608.5 1805.5L601.3 1800L600.2 1786.1L597.6 1772.3L594 1765.4L579.5 1772.3L579.5 1772.3L579.5 1772.3L583.1 1786.1L584.3 1800L594 1813.8L579.5 1819.3L575.4 1813.8L575.9 1800L572.2 1786.1L565 1782.7L554.1 1772.3L550.5 1758.5L550.5 1758.5L536 1755L533.6 1758.5L521.5 1770L507 1761.9L492.4 1758.5L492.4 1758.5L492.4 1758.5L477.9 1761.3L463.4 1765.4L448.9 1760.8L434.4 1758.5L434.4 1758.5L419.9 1744.7L434.4 1737.8L448.9 1737.8L456.2 1730.8L463.4 1723.9L470.7 1717L477.9 1713.6L484.2 1703.2L477.9 1692.8L463.4 1689.4L463.4 1689.4L463.4 1689.4L463.4 1689.4L467.1 1703.2L463.4 1710.1L456.2 1703.2L448.9 1700.4L441.7 1703.2L448.9 1717L434.4 1726.2L419.9 1726.2L412.6 1717L419.9 1710.1L431.5 1703.2L430.3 1689.4L426.1 1675.6L429.6 1661.8L428.6 1647.9L429.6 1634.1L419.9 1630.7L412.6 1634.1L405.4 1641L400.5 1634.1L405.4 1630.2L412 1620.3L405.4 1608.8L398.1 1606.5L390.9 1603L382.2 1592.6L385.1 1578.8L390.9 1569.6L395.7 1565L390.9 1558.1L387.2 1551.2L390.9 1546.6L398.1 1551.2L405.4 1555.8L410.2 1551.2L405.4 1546.6L398.1 1537.4L396.7 1523.6L405.4 1514.3L410.2 1509.7L405.4 1505.1L390.9 1495.9L390.9 1482.1L405.4 1471L408.3 1468.3L405.4 1463.7L390.9 1468.3L376.4 1459.1L373.5 1454.4L376.4 1451.7L390.9 1440.6L390.9 1440.6L390.9 1426.8L405.4 1413L405.4 1413L405.4 1413L390.9 1406.1L386 1399.2L376.4 1385.4L390.9 1371.5L390.9 1371.5L405.4 1361.7L408 1357.7L405.4 1352.2L394.5 1343.9L398.1 1330.1L405.4 1323.2L406.7 1316.2L405.4 1311.6L398.1 1302.4L405.4 1293.2L409 1288.6L409.5 1274.8L405.4 1261L405.4 1261L390.9 1247.2L402.5 1233.3L400.5 1219.5L405.4 1214.9L419.9 1205.7L419.9 1205.7L419.9 1205.7L405.4 1196.5L390.9 1191.9L405.4 1187.3L419.9 1184L427.2 1178L419.9 1167.7L405.4 1171.1L398.1 1164.2L405.4 1159.6L419.9 1161.5L434.4 1164.2L434.4 1164.2L434.4 1164.2L448.9 1159.6L463.4 1150.4L477.9 1150.4L477.9 1150.4L477.9 1136.6L477.9 1136.6L477.9 1136.6L463.4 1150.4L452.5 1136.6L448.9 1132L441.7 1122.8L448.9 1117.2L463.4 1112.9L477.9 1109L477.9 1109L477.9 1109L463.4 1095.1L477.9 1092.8L492.4 1090.5L499.7 1095.1L499.7 1109L492.4 1117.2L486.6 1122.8L492.4 1129.7L502.1 1122.8L507 1119.3L510.6 1122.8L521.5 1128.7L530.2 1122.8L536 1113.6L550.5 1115.9L565 1111.7L574.7 1122.8L579.5 1128.3L586.8 1122.8L594 1115.9L608.5 1115.9L613.4 1109L608.5 1105.5L594 1099.7L579.5 1095.1L594 1090.5L608.5 1086.8L623 1088.2L637.5 1088.2L652.1 1095.1L637.5 1102L632.7 1109L633.9 1122.8L637.5 1126.7L642.4 1122.8L652.1 1115.9L663.7 1122.8L666.6 1124.7L670.2 1122.8L675.3 1109L666.6 1095.1L681.1 1091.7L695.6 1091.7L710.1 1088.2L715.9 1081.3L724.6 1075.4L735.5 1081.3L724.6 1095.1L724.6 1095.1L724.6 1095.1L736.2 1109L739.1 1110.5L746.4 1109L753.6 1095.1L753.6 1095.1L759.4 1081.3ZM521.5 1081.3L536 1078.5L550.5 1081.3L536 1085.9ZM820.4 1081.3L826.2 1076.7L832 1081.3L826.2 1088.2ZM1026.9 1081.3L1029.3 1078.5L1031.7 1081.3L1029.3 1084.1ZM514.2 1095.1L521.5 1081.3L526.3 1095.1L531.1 1109L521.5 1114.5L515.7 1109ZM545.6 1095.1L550.5 1081.3L555.3 1095.1L550.5 1099.7ZM753.6 1115.9L752 1122.8L753.6 1125.1L768.1 1122.8L768.1 1122.8L768.1 1122.8ZM797.2 1115.9L793 1122.8L797.2 1136.6L797.2 1136.6L797.2 1136.6L804.4 1122.8ZM724.6 1134.6L722.5 1136.6L724.6 1138.6L729.4 1136.6ZM521.5 1147.6L519 1150.4L518.6 1164.2L521.5 1165.6L524.4 1164.2L528.7 1150.4ZM826.2 1155L823 1164.2L826.2 1171.1L832 1164.2ZM1112.7 1164.2L1116.4 1150.4L1119.3 1164.2L1116.4 1167.7ZM477.9 1169.8L469.2 1178L477.9 1183.2L483.4 1178ZM1185.3 1191.9L1188.9 1187.3L1196.2 1191.9L1188.9 1195.3ZM448.9 1198.8L445.7 1205.7L448.9 1219.5L448.9 1219.5L448.9 1219.5L454.7 1205.7ZM971.3 1200.2L966.4 1205.7L971.3 1208.8L985.8 1207.4L993 1205.7L985.8 1201.1ZM1155.1 1205.7L1159.9 1201.1L1164.7 1205.7L1159.9 1208.5ZM1072.8 1209.1L1062 1219.5L1072.8 1224.7L1080.1 1219.5ZM419.9 1226.4L412.6 1233.3L419.9 1237.9L422.8 1233.3ZM1087.4 1233.3L1087.4 1233.3L1087.4 1247.2L1087.4 1247.2L1087.4 1247.2L1087.4 1233.3ZM1145.4 1233.3L1159.9 1230.6L1164.7 1233.3L1159.9 1247.2ZM1179.3 1247.2L1188.9 1240.2L1198.6 1247.2L1188.9 1251.8ZM1205.5 1247.2L1217.9 1238.9L1228.8 1247.2L1217.9 1261ZM1210.7 1274.8L1217.9 1261L1232.5 1267.9L1247 1261L1261.5 1269.3L1271.1 1274.8L1261.5 1288.6L1261.5 1288.6L1247 1295.5L1232.5 1288.6L1232.5 1288.6L1217.9 1281.7ZM1301.4 1274.8L1305 1272L1308.6 1274.8L1309.8 1288.6L1305 1293.2L1300.2 1288.6ZM1116.4 1295.5L1113.5 1302.4L1116.4 1303.8L1130.9 1316.2L1116.4 1330.1L1101.9 1326.6L1087.4 1330.1L1087.4 1330.1L1087.4 1330.1L1101.9 1337L1116.4 1330.1L1130.9 1334.7L1145.4 1330.1L1145.4 1330.1L1157.5 1316.2L1145.4 1309.3L1135 1302.4L1130.9 1295.5ZM1328.2 1302.4L1334 1296.9L1338.2 1302.4L1334 1308ZM1072.8 1310.7L1069.2 1316.2L1072.8 1320.9L1080.1 1316.2ZM1227.6 1316.2L1232.5 1312.8L1237.3 1316.2L1232.5 1319.7ZM1276 1330.1L1290.5 1323.2L1297.8 1330.1L1290.5 1343.9ZM1324.4 1330.1L1334 1324.5L1339.8 1330.1L1334 1337ZM1159.9 1343.9L1159.9 1343.9L1159.9 1343.9L1174.4 1350.8L1178 1343.9L1174.4 1341.1ZM1222.8 1343.9L1232.5 1338.4L1239.7 1343.9L1247 1357.7L1232.5 1361.2L1217.9 1357.7ZM1254.2 1343.9L1261.5 1339.3L1268.7 1343.9L1276 1357.7L1276 1357.7L1283.2 1371.5L1276 1378.4L1268.7 1371.5L1261.5 1361.2L1247 1357.7ZM1116.4 1350.8L1112.2 1357.7L1116.4 1364.6L1130.9 1357.7L1130.9 1357.7L1130.9 1357.7ZM1192.6 1385.4L1203.4 1378.4L1217.9 1376.1L1232.5 1378.4L1247 1385.4L1232.5 1393.6L1217.9 1396.4L1203.4 1395.7L1198.6 1399.2L1203.4 1401.5L1217.9 1413L1203.4 1426.8L1188.9 1413L1188.9 1413L1174.4 1399.2L1188.9 1390ZM1058.3 1397.8L1051.1 1399.2L1058.3 1406.1L1062 1399.2ZM1101.9 1394.6L1099 1399.2L1096.1 1413L1099 1426.8L1101.9 1429.1L1103.9 1426.8L1106 1413L1109.1 1399.2ZM1267.3 1399.2L1276 1392.3L1284.7 1399.2L1276 1409.5ZM1217.9 1413L1232.5 1406.1L1247 1413L1232.5 1426.8ZM1312.3 1413L1319.5 1410.7L1323.1 1413L1319.5 1416.4ZM1227.6 1440.6L1232.5 1426.8L1235.4 1440.6L1232.5 1454.4ZM419.9 1452.1L415.1 1454.4L419.9 1457.2L423.5 1454.4ZM1101.9 1468.3L1101.9 1468.3L1101.9 1468.3L1116.4 1468.3L1116.4 1468.3L1116.4 1468.3ZM1181.7 1495.9L1188.9 1482.1L1192.6 1495.9L1203.4 1509.7L1188.9 1516.6L1174.4 1523.6L1167.2 1509.7L1174.4 1502.8ZM1203.4 1509.7L1217.9 1502.8L1225.2 1509.7L1217.9 1516.6ZM1258.6 1509.7L1261.5 1507L1265.1 1509.7L1261.5 1512.5ZM1072.8 1516.6L1067.4 1523.6L1072.8 1527L1081.6 1523.6ZM1101.9 1535.4L1098.2 1537.4L1101.9 1544.3L1104.8 1537.4ZM1199.8 1537.4L1203.4 1534.6L1210.7 1537.4L1203.4 1540.1ZM1225.2 1537.4L1232.5 1533.9L1239.7 1537.4L1232.5 1540.1ZM1058.3 1548.4L1055.9 1551.2L1058.3 1554.6L1060.1 1551.2ZM405.4 1578.8L405.4 1578.8L405.4 1592.6L405.4 1592.6L405.4 1592.6L405.4 1578.8ZM1000.3 1578.8L1000.3 1578.8L1000.3 1578.8L1014.8 1585.7L1018.4 1578.8L1014.8 1577.6ZM419.9 1599.6L412.6 1606.5L419.9 1608.4L427.2 1606.5ZM1014.8 1611.1L1007.6 1620.3L1014.8 1628.2L1026.4 1620.3ZM927.7 1630.2L922.9 1634.1L927.7 1641L942.3 1647.9L938.1 1661.8L942.3 1671L946.4 1661.8L942.3 1647.9L942.3 1634.1L942.3 1634.1ZM971.3 1629.5L968.4 1634.1L971.3 1638.7L974.2 1634.1ZM1058.3 1634.1L1072.8 1620.3L1080.1 1634.1L1085.5 1647.9L1072.8 1656.7L1061.6 1647.9ZM448.9 1641L444.1 1647.9L448.9 1654.8L463.4 1652.5L469.6 1647.9L463.4 1644.5ZM1000.3 1645.2L995.5 1647.9L1000.3 1652.5L1007.6 1647.9ZM448.9 1668.7L446 1675.6L448.9 1678.3L451 1675.6ZM492.4 1668.7L485.2 1675.6L492.4 1677.9L493.6 1675.6ZM579.5 1702.1L574.7 1703.2L579.5 1705.5L581.6 1703.2ZM840.7 1699.8L834.9 1703.2L840.7 1712.4L850.4 1703.2ZM898.7 1703.2L898.7 1703.2L898.7 1703.2L913.2 1703.2L913.2 1703.2L913.2 1703.2ZM994.5 1703.2L1000.3 1697.7L1005.1 1703.2L1000.3 1707.8ZM536 1715.3L532.3 1717L536 1720.5L550.5 1717L550.5 1717L550.5 1717ZM884.2 1715.5L879.4 1717L881.3 1730.8L884.2 1737.8L889.1 1730.8L887.1 1717ZM982.2 1730.8L985.8 1717L993 1730.8L985.8 1735.5ZM637.5 1741.2L636.5 1744.7L637.5 1749.3L641.2 1744.7ZM753.6 1751.6L750 1758.5L753.6 1767.7L760.9 1758.5ZM485.2 1800L492.4 1797.2L499.7 1800L492.4 1806.9ZM528.7 1800L536 1793L550.5 1786.1L554.1 1800L550.5 1804.6L536 1804.6ZM753.6 1800L768.1 1794.4L777.8 1800L768.1 1806.9ZM821.3 1813.8L826.2 1809.2L831 1813.8L826.2 1816.5ZM850.4 1813.8L855.2 1806.9L857.6 1813.8L855.2 1817.2ZM516.6 1827.6L521.5 1813.8L527.3 1827.6L521.5 1832.2ZM554.1 1827.6L565 1822.4L572.2 1827.6L565 1833.5ZM758.5 1827.6L768.1 1820.7L777.8 1827.6L768.1 1831.5ZM652.1 1855.2L666.6 1852.5L669.5 1855.2L666.6 1862.1Z"/><path fill="none" stroke="#383838" stroke-width="5.5" stroke-linejoin="round" d="M620.1 1122.8L623 1119.3L624.8 1122.8L623 1125.5ZM685.9 1122.8L695.6 1115.9L710.1 1122.8L710.1 1122.8L712.2 1136.6L724.6 1148.4L739.1 1141.8L753.6 1136.6L753.6 1136.6L768.1 1131.4L782.6 1122.8L789.9 1136.6L782.6 1146.5L768.1 1141.8L759.1 1150.4L768.1 1161.9L782.6 1157.3L797.2 1159.6L811.7 1157.3L814.9 1164.2L818.9 1178L826.2 1184L837.8 1191.9L840.7 1195.3L843.1 1191.9L855.2 1185L867.3 1191.9L869.7 1205.7L869.7 1205.7L869.7 1205.7L874.5 1191.9L884.2 1178L893.9 1191.9L898.7 1205.7L898.7 1205.7L898.7 1205.7L913.2 1201.1L927.7 1202.2L942.3 1205.7L927.7 1212.6L925.7 1219.5L927.7 1223L938.6 1233.3L942.3 1235.1L956.8 1237.9L959.2 1233.3L956.8 1228.7L952.6 1219.5L956.8 1210.3L971.3 1216.4L985.8 1216.1L993 1219.5L1000.3 1224.1L1006.7 1233.3L1014.8 1241L1029.3 1240.2L1039 1247.2L1029.3 1254.1L1014.8 1256.4L1000.3 1251.8L985.8 1254.1L971.3 1258.2L956.8 1261L956.8 1261L956.8 1261L971.3 1267.9L974.9 1274.8L982.9 1288.6L980.9 1302.4L985.8 1316.2L971.3 1330.1L971.3 1330.1L971.3 1330.1L985.8 1330.1L985.8 1330.1L985.8 1316.2L1000.3 1302.4L1002.4 1316.2L1014.8 1324.5L1024.5 1316.2L1029.3 1308L1040.2 1316.2L1040.9 1330.1L1043.8 1332.8L1058.3 1338L1072.8 1343.9L1058.3 1348.5L1049.6 1357.7L1043.8 1368.8L1042 1371.5L1032.9 1385.4L1039.4 1399.2L1042.4 1413L1029.3 1422.6L1017.4 1413L1014.8 1403.8L1010.7 1413L1000.3 1426.8L1000.3 1426.8L1000.3 1426.8L1011.9 1440.6L1014.8 1454.4L1000.3 1468.3L1000.3 1468.3L985.8 1475.2L971.3 1471L966.4 1482.1L971.3 1485.2L985.8 1489L988.7 1495.9L1000.3 1505.1L1014.8 1509.7L1014.8 1509.7L1022.1 1523.6L1018.4 1537.4L1014.8 1551.2L1014.8 1551.2L1014.8 1551.2L1014.8 1551.2L1029.3 1545.7L1043.8 1551.2L1029.3 1554.6L1021.4 1565L1014.8 1571.3L1000.3 1569L985.8 1577.8L974.9 1565L971.3 1558.1L959.7 1565L968.4 1578.8L971.3 1585.7L974.9 1592.6L985.8 1597.8L994.9 1606.5L985.8 1616.3L975.4 1606.5L971.3 1597.3L956.8 1606.5L956.8 1606.5L942.3 1616.8L936 1606.5L927.7 1595.4L916.1 1606.5L927.7 1620.3L913.2 1632.7L911.2 1634.1L907.4 1647.9L898.7 1661.8L890 1647.9L884.2 1634.1L884.2 1634.1L884.2 1634.1L877.8 1647.9L874.5 1661.8L881.3 1675.6L869.7 1684.8L855.2 1689.4L855.2 1689.4L840.7 1691.1L826.2 1689.4L829.1 1675.6L840.7 1666.4L847.9 1661.8L852.3 1647.9L840.7 1641L826.2 1646.8L821.3 1647.9L811.7 1654.8L805.9 1661.8L804.4 1675.6L811.7 1682.5L826.2 1689.4L811.7 1694L797.2 1689.4L797.2 1689.4L797.2 1689.4L782.6 1694L775.4 1689.4L768.1 1680.2L764 1689.4L768.1 1703.2L763.3 1717L753.6 1721L739.1 1720.5L724.6 1728.9L713.7 1717L721.7 1703.2L713 1689.4L717.4 1675.6L710.1 1673.8L708.3 1675.6L707.2 1689.4L704.3 1703.2L695.6 1711.5L688.3 1717L681.1 1723.9L673.8 1730.8L666.6 1740.1L652.1 1741.2L641.2 1730.8L652.1 1717L652.1 1717L652.1 1717L641.2 1703.2L637.5 1698.6L634.6 1703.2L637.5 1717L623 1723.9L613.4 1717L608.5 1710.1L594 1710.1L591.9 1703.2L579.5 1696.8L565 1698L550.5 1703.2L550.5 1703.2L536 1706.7L530.2 1703.2L531.1 1689.4L536 1682.5L537.8 1675.6L536 1673.3L521.5 1671L519.7 1675.6L507 1684.4L499.1 1675.6L507 1664.8L514.2 1661.8L516.6 1647.9L507 1644L497.3 1647.9L492.4 1650.7L485.2 1647.9L477.9 1645.6L463.4 1638.7L456.2 1634.1L448.9 1620.3L463.4 1606.5L477.9 1618L486 1606.5L477.9 1600.7L466.6 1592.6L463.4 1578.8L463.4 1565L463.4 1565L448.9 1561.1L439.2 1565L448.9 1569L463.4 1578.8L456.2 1592.6L448.9 1598.2L439.2 1592.6L438.6 1578.8L434.4 1569.6L427.2 1565L434.4 1560.4L438.6 1551.2L448.9 1539.7L451 1537.4L448.9 1530.5L434.4 1533.9L430.3 1537.4L419.9 1546L410.8 1537.4L419.9 1529.7L425.7 1523.6L419.9 1512.5L418.3 1509.7L419.9 1507L423.8 1495.9L434.4 1485.1L439.2 1482.1L434.4 1471.7L427.2 1468.3L434.4 1463.7L438 1454.4L439.2 1440.6L434.4 1433.7L419.9 1440.6L405.4 1429.6L403 1426.8L405.4 1424.5L412.6 1413L419.9 1403.1L434.4 1404.4L443.1 1399.2L448.9 1394.6L458.6 1385.4L448.9 1377.5L442.5 1385.4L434.4 1394L419.9 1385.4L434.4 1373.8L438 1371.5L441.7 1357.7L434.4 1352.2L429.6 1357.7L419.9 1371.5L414.6 1357.7L409 1343.9L419.9 1334.7L430.8 1330.1L419.9 1324.9L413.3 1316.2L419.9 1304.7L434.4 1302.4L434.4 1302.4L438 1288.6L434.4 1285.2L419.9 1274.8L434.4 1267.9L445.3 1261L445.3 1247.2L436.2 1233.3L448.9 1225.3L461 1219.5L463.4 1214.9L477.9 1219.5L470.7 1233.3L470.7 1247.2L477.9 1250.6L487.6 1247.2L482.8 1233.3L492.4 1224.1L499.7 1219.5L492.4 1216.1L477.9 1205.7L492.4 1195.3L495.3 1191.9L507 1184L513.2 1178L521.5 1172.5L536 1168.8L537.8 1164.2L545.6 1150.4L536 1136.6L550.5 1131.1L560.2 1136.6L565 1150.4L565 1150.4L565 1150.4L579.5 1143.5L594 1150.4L585.3 1164.2L579.5 1173.4L574.7 1178L579.5 1179L584.3 1178L594 1172.5L598.4 1164.2L594 1150.4L601.3 1136.6L608.5 1130.7L614.7 1136.6L623 1147.6L637.5 1136.6L641.7 1150.4L652.1 1164.2L652.1 1164.2L652.1 1164.2L666.6 1155.6L677.4 1150.4L681.1 1147L689.8 1136.6ZM710.1 1122.8L724.6 1115.9L739.1 1118.2L744 1122.8L739.1 1129.7L724.6 1124.7ZM503.3 1136.6L507 1133.8L514.2 1136.6L507 1150.4ZM637.5 1136.6L652.1 1129.7L666.6 1134.6L670.2 1136.6L666.6 1140L652.1 1138.9ZM866.1 1150.4L869.7 1145.8L877 1150.4L877 1164.2L869.7 1178L859.3 1164.2ZM550.5 1173.9L541.8 1178L550.5 1188.4L559.2 1178ZM695.6 1168.8L689.8 1178L695.6 1182L700.4 1178ZM782.6 1181.5L776.4 1191.9L782.6 1198.8L797.2 1197.1L811.7 1196.5L817.9 1191.9L811.7 1185L797.2 1185ZM430.3 1205.7L434.4 1191.9L437.6 1205.7L434.4 1212.6ZM884.2 1216.1L882.8 1219.5L884.2 1223L891.5 1219.5ZM1025.7 1219.5L1029.3 1217.2L1030.9 1219.5L1029.3 1222.3ZM898.7 1226.4L895.1 1233.3L898.7 1236.8L902.4 1233.3ZM1055.1 1233.3L1058.3 1228.7L1072.8 1233.3L1058.3 1242.5ZM927.7 1250.6L924.6 1261L927.7 1269.3L931.1 1261ZM477.9 1269.3L466.3 1274.8L477.9 1278L489.5 1274.8ZM898.7 1272.3L896.1 1274.8L898.7 1276.3L906 1274.8ZM993 1274.8L1000.3 1266.5L1009 1274.8L1014.8 1284L1019.6 1288.6L1014.8 1293.2L1000.3 1302.4L990.6 1288.6ZM1128 1274.8L1130.9 1272L1138.1 1274.8L1130.9 1278.2ZM1068 1288.6L1072.8 1284L1087.4 1280.3L1101.9 1274.8L1108.1 1288.6L1101.9 1299L1087.4 1294.5L1072.8 1293.2ZM913.2 1312.3L910 1316.2L913.2 1319.7L927.7 1316.2L927.7 1316.2L927.7 1316.2ZM1051.1 1316.2L1058.3 1313.9L1060.1 1316.2L1058.3 1319ZM1093.6 1316.2L1101.9 1305.2L1116.4 1310.7L1122.8 1316.2L1116.4 1322.4L1101.9 1320.9ZM1069.2 1357.7L1072.8 1343.9L1080.1 1357.7L1072.8 1366.9ZM985.8 1366.9L980.9 1371.5L985.8 1372.9L1000.3 1385.4L1000.3 1399.2L1000.3 1399.2L1000.3 1399.2L1000.3 1385.4L1003.9 1371.5L1000.3 1365.6ZM1051.1 1371.5L1058.3 1369.6L1065.6 1371.5L1072.8 1376.1L1076.5 1385.4L1072.8 1392.3L1058.3 1390.9L1050 1385.4ZM1125.1 1371.5L1130.9 1367.6L1135.7 1371.5L1130.9 1375.5ZM395.7 1385.4L405.4 1371.5L419.9 1385.4L405.4 1394.6ZM1078.6 1399.2L1087.4 1394.6L1091.7 1399.2L1087.4 1407.5ZM1116.4 1413L1130.9 1407.1L1135.7 1413L1130.9 1426.8L1130.9 1426.8L1116.4 1429.1L1114.3 1426.8L1116.4 1413ZM1069.9 1426.8L1072.8 1419.9L1080.1 1426.8L1072.8 1440.6ZM956.8 1437.9L948.5 1440.6L942.3 1454.4L942.3 1454.4L942.3 1454.4L956.8 1455.8L960.4 1454.4L971.3 1440.6L971.3 1440.6L971.3 1440.6ZM1019.6 1440.6L1029.3 1436L1039 1440.6L1043.8 1444.1L1058.3 1445.2L1072.8 1440.6L1081.6 1454.4L1072.8 1462.7L1070.2 1468.3L1072.8 1475.2L1077.7 1482.1L1072.8 1489L1058.3 1488.2L1048 1495.9L1058.3 1507.4L1063.2 1509.7L1058.3 1523.6L1043.8 1513.2L1039 1509.7L1036.6 1495.9L1038.4 1482.1L1043.8 1473.8L1046.5 1468.3L1043.8 1462.7L1029.3 1468.3L1014.8 1454.4ZM463.4 1464.5L460.1 1468.3L463.4 1474.2L467.1 1468.3ZM927.7 1464.3L918.1 1468.3L927.7 1471.7L933.5 1468.3ZM942.3 1475.2L937.4 1482.1L942.3 1489L946.2 1482.1ZM1003.9 1482.1L1014.8 1471.7L1024.1 1482.1L1014.8 1494.5ZM403 1495.9L405.4 1489L408.3 1495.9L405.4 1497.4ZM942.3 1506.3L939.8 1509.7L942.3 1511.1L945.2 1509.7ZM985.8 1518.9L978.5 1523.6L982.9 1537.4L985.8 1544.3L1000.3 1540.4L1010 1537.4L1010 1523.6L1000.3 1516.6ZM1098.2 1523.6L1101.9 1520.1L1104.8 1523.5L1101.9 1525.5ZM942.3 1533.9L938.6 1537.4L942.3 1542L949.5 1537.4ZM1061.2 1537.4L1072.8 1532.8L1082.5 1537.4L1076.1 1551.2L1072.8 1558.1L1069.2 1551.2ZM898.7 1546.6L887.8 1551.2L898.7 1556.4L903.1 1551.2ZM942.3 1561.6L936.5 1565L932.6 1578.8L942.3 1584.4L947.1 1578.8L951.9 1565ZM898.7 1576.5L895.8 1578.8L898.7 1582.3L903.6 1578.8ZM797.2 1590.9L792.3 1592.6L797.2 1594.4L804.4 1592.6ZM565 1644L560.8 1647.9L565 1651.9L574.7 1647.9ZM637.5 1643.7L630.3 1647.9L637.5 1653.5L649.2 1647.9ZM739.1 1644L731.9 1647.9L739.1 1651.9L743.3 1647.9ZM954.3 1647.9L956.8 1641L960.4 1647.9L956.8 1661.8ZM1069.6 1647.9L1072.8 1643.3L1076.5 1647.9L1072.8 1650.4ZM460.5 1661.8L463.4 1660.2L470.7 1661.8L466.3 1675.6L463.4 1677.9L461.4 1675.6ZM579.5 1661.8L579.5 1661.8L579.5 1661.8L594 1665.2L608.5 1664.8L615.8 1661.8L608.5 1657.1L594 1658.3ZM891.5 1675.6L898.7 1661.8L913.2 1668.7L918.1 1675.6L913.2 1680.2L898.7 1679ZM666.6 1682.5L656.9 1689.4L658.3 1703.2L666.6 1712.4L674.9 1703.2L671.4 1689.4ZM739.1 1682.5L734.3 1689.4L739.1 1693.3L743.3 1689.4ZM866.8 1703.2L869.7 1698.6L884.2 1694.9L889.7 1703.2L884.2 1707.8L869.7 1706.7ZM485.2 1717L492.4 1706L502.1 1717L492.4 1724.9ZM775.4 1717L782.6 1714.3L787.5 1717L782.6 1720.5ZM516.6 1730.8L521.5 1726.2L526.3 1730.8L521.5 1735.5ZM540.1 1730.8L550.5 1723.9L560.8 1730.8L555.3 1744.7L550.5 1747L545.6 1744.7ZM569.1 1730.8L579.5 1717L594 1730.8L579.5 1739.5ZM818.9 1730.8L826.2 1728.1L828 1730.8L826.2 1735.5ZM611.4 1744.7L623 1733.6L631.3 1744.7L623 1754.7ZM687.3 1744.7L695.6 1735.5L710.1 1741.2L724.6 1732.6L735.9 1744.7L739.1 1753.9L740.9 1758.5L739.1 1760L724.6 1758.5L724.6 1758.5L710.1 1747.4L695.6 1755.7ZM788.4 1744.7L797.2 1730.8L803.4 1744.7L797.2 1749.9Z"/><path fill="none" stroke="#545454" stroke-width="5.5" stroke-linejoin="round" d="M604.4 1150.4L608.5 1143.5L613.4 1150.4L612.7 1164.2L608.5 1178L605.6 1164.2ZM702.8 1150.4L710.1 1147.6L713 1150.4L724.6 1155.9L732.5 1164.2L739.1 1175.7L741.5 1178L739.1 1182.7L724.6 1189.9L719.8 1191.9L724.6 1193.6L739.1 1201.1L753.6 1200.2L768.1 1193.6L779.4 1205.7L775.4 1219.5L778.5 1233.3L774.4 1247.2L773 1261L782.6 1265.6L797.2 1268.9L811.7 1263.7L826.2 1270.2L830.3 1261L826.2 1255.4L811.7 1252.7L797.2 1253.1L790.9 1247.2L788.4 1233.3L789.9 1219.5L797.2 1205.7L800.1 1219.5L811.7 1227.4L822.5 1233.3L826.2 1236.8L828.6 1233.3L826.2 1228.7L821.3 1219.5L826.2 1210.3L833.4 1219.5L840.7 1223.5L848.7 1233.3L855.2 1240.2L869.7 1247.2L869.7 1247.2L884.2 1247.2L898.7 1251.8L908.4 1247.2L913.2 1242.5L916.1 1247.2L919.5 1261L913.2 1270.2L898.7 1266L889.5 1274.8L898.7 1280.2L912 1288.6L913.2 1302.4L901.9 1316.2L913.2 1328.3L927.7 1330.1L927.7 1330.1L942.3 1339.9L951.9 1343.9L945.2 1357.7L942.3 1362.3L937.4 1371.5L927.7 1378.4L920.5 1385.4L913.2 1392.3L898.7 1399.2L898.7 1399.2L898.7 1399.2L913.2 1407.1L920.5 1399.2L927.7 1392.3L937.4 1385.4L942.3 1378.4L946.4 1385.4L956.8 1396.9L964.8 1385.4L971.3 1377.5L985.8 1379.8L992.2 1385.4L989.9 1399.2L985.8 1408.4L982.2 1413L980 1426.8L971.3 1434.3L956.8 1434.4L943.5 1426.8L942.3 1424.5L927.7 1423.4L925.7 1426.8L927.7 1433.7L932.6 1440.6L927.7 1454.4L913.2 1454.4L913.2 1454.4L906.8 1468.3L909.1 1482.1L913.2 1495.9L898.7 1501.8L890 1495.9L886.6 1482.1L884.2 1468.3L884.2 1468.3L884.2 1468.3L882.4 1482.1L881.3 1495.9L884.2 1502.8L889.1 1509.7L891.5 1523.6L884.2 1527L878 1537.4L877 1551.2L884.2 1565L879.4 1578.8L884.2 1581.6L893.9 1592.6L898.7 1596.1L903.6 1592.6L913.2 1584.8L920.5 1592.6L913.2 1599.6L907.4 1606.5L913.2 1613.4L919.7 1620.3L913.2 1625.8L898.7 1620.3L898.7 1620.3L898.7 1620.3L884.2 1624.2L872.1 1634.1L869.7 1647.9L867.3 1634.1L861.4 1620.3L869.7 1613.4L884.2 1606.5L884.2 1606.5L884.2 1606.5L869.7 1595.4L855.2 1603.7L840.7 1592.6L840.7 1592.6L826.2 1589.9L811.7 1584.8L797.2 1582.3L782.6 1588.9L777.8 1592.6L782.6 1595.6L797.2 1603L811.7 1596.1L826.2 1593.9L837.3 1606.5L838.3 1620.3L838.6 1634.1L826.2 1641L811.7 1642L797.2 1644.5L782.6 1634.1L786.8 1620.3L782.6 1618.2L777.8 1620.3L768.1 1628.2L758.5 1620.3L753.6 1617.2L750.7 1620.3L739.1 1634.1L739.1 1634.1L724.6 1643.8L710.1 1645.2L704.3 1647.9L710.1 1654.8L714.9 1661.8L710.1 1665.2L700.4 1661.8L695.6 1658.3L693.8 1661.8L695.6 1666.4L699.2 1675.6L695.6 1684.8L681.1 1685.9L673.8 1675.6L666.6 1667.3L656.9 1661.8L659.3 1647.9L652.1 1640L637.5 1638.4L625.9 1634.1L623 1629.5L618.2 1620.3L608.5 1614.1L598.9 1620.3L608.5 1628.2L619.4 1634.1L608.5 1644.5L594 1641L589.9 1634.1L584.3 1620.3L579.5 1618.9L572.2 1620.3L565 1634.1L565 1634.1L550.5 1647.9L536 1638.7L521.5 1642.9L507 1634.1L513.2 1620.3L512.4 1606.5L507 1601.9L496.1 1592.6L507 1580.8L511.8 1578.8L507 1576.9L492.4 1576.5L477.9 1578.8L472.5 1565L477.9 1556.7L481.6 1551.2L492.4 1539.3L499.7 1551.2L507 1558.1L516.6 1551.2L521.5 1544.3L527.7 1537.4L521.5 1527L507 1529.1L492.4 1532.8L477.9 1537.4L477.9 1537.4L463.4 1551.2L461.4 1537.4L458.6 1523.6L463.4 1516.6L477.9 1509.7L477.9 1509.7L477.9 1509.7L463.4 1505.1L458.6 1509.7L448.9 1516.6L440.6 1509.7L434.4 1505.1L428.6 1495.9L434.4 1490L443.1 1495.9L448.9 1502.8L456.2 1495.9L463.4 1484.9L467.1 1482.1L473.1 1468.3L463.4 1458.2L454.5 1468.3L456.2 1482.1L448.9 1484.9L447.3 1482.1L440.9 1468.3L447.1 1454.4L448.9 1447.5L451.8 1440.6L448.9 1436L443.1 1426.8L448.9 1422.9L453.8 1426.8L463.4 1433.7L471.7 1426.8L477.9 1418.5L482.1 1413L477.9 1409.5L463.4 1413L454.4 1399.2L463.4 1390.5L468.9 1385.4L463.4 1375L458.6 1371.5L457.6 1357.7L463.4 1350.8L467.6 1343.9L463.4 1337L456.2 1330.1L456.2 1316.2L448.9 1307L446.5 1302.4L448.9 1297.8L453.8 1288.6L463.4 1281.7L477.9 1282.1L492.4 1288.6L492.4 1288.6L492.4 1288.6L498.2 1274.8L492.4 1261L507 1247.2L507 1247.2L507 1247.2L497.9 1233.3L507 1225.7L514.2 1219.5L515.7 1205.7L521.5 1201.1L527.9 1191.9L536 1183.2L544 1191.9L550.5 1202.9L565 1195.6L569 1191.9L579.5 1184L591.1 1191.9L594 1196.5L603.7 1205.7L608.5 1208.8L621.2 1219.5L623 1221L637.5 1221L644.8 1219.5L652.1 1212.6L653.9 1205.7L657.9 1191.9L666.6 1184.3L681.1 1191.9L681.1 1191.9L695.6 1191.9L695.6 1191.9L710.1 1182.7L712.2 1178L713.7 1164.2L710.1 1155ZM546.9 1164.2L550.5 1158.7L565 1156.2L575.2 1164.2L565 1173.9L550.5 1167ZM629.3 1191.9L637.5 1184L644.8 1191.9L637.5 1201.1ZM536 1205.7L536 1205.7L531.1 1219.5L536 1225L546.9 1233.3L550.5 1237.9L552.9 1233.3L550.5 1219.5L550.5 1219.5L536 1205.7ZM797.2 1205.7L811.7 1204.2L818.9 1205.7L811.7 1208.5ZM579.5 1217.2L574.7 1219.5L579.5 1221.8L594 1219.5L594 1219.5L594 1219.5ZM753.6 1210.3L742 1219.5L739.1 1226.4L737.8 1233.3L739.1 1240.2L753.6 1238.6L760.9 1233.3L765.2 1219.5ZM862.4 1219.5L869.7 1213.4L875.5 1219.5L869.7 1227.4ZM910.3 1219.5L913.2 1216.1L915.3 1219.5L913.2 1224.1ZM445.3 1233.3L448.9 1231L453.8 1233.3L448.9 1237.9ZM937.4 1247.2L942.3 1243.7L948.1 1247.2L949.5 1261L942.3 1272.5L936.7 1261ZM473.1 1261L477.9 1259.2L492.4 1261L477.9 1262.4ZM521.5 1255.4L518.6 1261L519.4 1274.8L521.5 1276.3L528.7 1274.8L525.6 1261ZM855.2 1261L855.2 1261L853.9 1274.8L855.2 1277.1L860 1274.8L855.2 1261ZM884.2 1282.7L878.8 1288.6L872.1 1302.4L884.2 1305.1L893.3 1302.4L887.3 1288.6ZM915.7 1288.6L927.7 1280L942.3 1276.3L956.8 1278.2L971.3 1282.7L975.6 1288.6L971.3 1295.5L965.1 1302.4L956.8 1308L947.1 1302.4L942.3 1299.7L939.6 1302.4L942.3 1311.6L944.3 1316.2L942.3 1318.6L939.8 1316.2L927.7 1311.3L913.2 1302.4ZM954.3 1330.1L956.8 1328.1L959.2 1330.1L956.8 1337ZM418.1 1343.9L419.9 1342.4L424.7 1343.9L419.9 1350.8ZM492.4 1337L490 1343.9L492.4 1345.4L494.3 1343.9ZM840.7 1339.6L834.2 1343.9L840.7 1350L846 1343.9ZM884.2 1343.9L884.2 1343.9L884.2 1357.7L884.2 1357.7L889.1 1371.5L898.7 1377.1L904.5 1371.5L913.2 1362L924.8 1357.7L913.2 1350.8L898.7 1350.8L884.2 1343.9ZM980 1343.9L985.8 1339.9L995.5 1343.9L985.8 1349.4ZM477.9 1352.5L469.2 1357.7L477.9 1361.5L481.9 1357.7ZM968.4 1357.7L971.3 1354.3L974.9 1357.7L971.3 1361.2ZM949.5 1371.5L956.8 1366.9L962.6 1371.5L956.8 1375.5ZM1010 1371.5L1014.8 1363.6L1029.3 1362.3L1032.9 1371.5L1029.3 1376.1L1014.8 1379.4ZM1022.1 1399.2L1029.3 1392.3L1033.8 1399.2L1035.1 1413L1029.3 1417.2L1024 1413ZM840.7 1453.1L838.9 1454.4L835.6 1468.3L840.7 1472.4L851.6 1468.3L842 1454.4ZM996.7 1454.4L1000.3 1447.5L1002.7 1454.4L1000.3 1456.8ZM1053.5 1454.4L1058.3 1452.9L1063.2 1454.4L1063.6 1468.3L1058.3 1479.3L1053.1 1468.3ZM492.4 1465.5L487.6 1468.3L492.4 1471.7L494.4 1468.3ZM811.7 1461.4L809.9 1468.3L811.7 1469.8L812.9 1468.3ZM947.1 1468.3L956.8 1462.7L964 1468.3L960.4 1482.1L971.3 1489L981.3 1495.9L971.3 1507.2L956.8 1509.1L943.6 1495.9L952.8 1482.1ZM922.9 1482.1L927.7 1480.4L929.4 1482.1L927.7 1489ZM1010 1482.1L1014.8 1477.5L1019 1482.1L1014.8 1487.6ZM935 1523.6L942.3 1518L953.9 1523.6L942.3 1528.2ZM623 1537.4L623 1537.4L623 1537.4L637.5 1539.1L638.9 1537.4L637.5 1536.4ZM855.2 1529.5L848.7 1537.4L855.2 1545.3L862.4 1537.4ZM895.1 1537.4L898.7 1530.5L913.2 1523.6L927.7 1530.5L932.6 1537.4L942.3 1549.7L945.9 1551.2L942.3 1552.9L927.7 1559.5L913.2 1556.7L910.3 1551.2L898.7 1538.9ZM995.5 1551.2L1000.3 1548.1L1004.4 1551.2L1000.3 1556.7L995.9 1565L985.8 1572.5L979.4 1565L985.8 1556.2ZM811.7 1560.9L807.3 1565L811.7 1571.9L814.6 1565ZM474.7 1592.6L477.9 1578.8L485.2 1592.6L477.9 1595ZM521.5 1585.7L517.8 1592.6L521.5 1596.6L536 1603L550.5 1592.6L565 1595.2L567.9 1592.6L565 1588L550.5 1592.6L536 1587.5ZM637.5 1591.5L635.5 1592.6L637.5 1606.5L637.5 1606.5L637.5 1606.5L639.2 1592.6ZM536 1608.4L527.3 1620.3L536 1630.7L550.5 1620.3L550.5 1620.3L550.5 1620.3ZM896.3 1634.1L898.7 1620.3L900.8 1634.1L900.2 1647.9L898.7 1650.2L897.3 1647.9ZM633.9 1661.8L637.5 1660.4L644.8 1661.8L641.2 1675.6L637.5 1679L630.3 1675.6ZM739.1 1661.8L753.6 1647.9L761.9 1661.8L753.6 1672.8ZM779 1661.8L782.6 1657.1L787.5 1661.8L782.6 1664.5ZM504.7 1675.6L507 1672.5L510.6 1675.6L507 1678.1ZM546.9 1675.6L550.5 1661.8L557.7 1675.6L550.5 1682.5ZM601.3 1675.6L608.5 1672.5L618.2 1675.6L608.5 1682.5ZM565 1689.4L579.5 1680.2L594 1682.5L601.3 1689.4L594 1694L579.5 1691.5ZM690.7 1703.2L695.6 1696.3L697 1703.2L695.6 1704.6ZM650.2 1730.8L652.1 1728.5L659.3 1730.8L652.1 1732.6ZM618.7 1744.7L623 1740.5L626.1 1744.7L623 1748.4ZM719.8 1744.7L724.6 1741.2L727.8 1744.7L724.6 1748.6Z"/><path fill="none" stroke="#717171" stroke-width="5.5" stroke-linejoin="round" d="M559.2 1164.2L565 1161.9L567.9 1164.2L565 1167ZM722.8 1164.2L724.6 1162.8L725.9 1164.2L727.5 1178L724.6 1180L722.5 1178ZM575.5 1191.9L579.5 1188.9L583.9 1191.9L579.5 1205.7ZM665.1 1191.9L666.6 1190.6L669 1191.9L671.4 1205.7L666.6 1209.6L662.9 1205.7ZM558.8 1205.7L565 1201.9L579.5 1205.7L565 1212.6ZM710.1 1205.7L724.6 1202.2L729.4 1205.7L724.6 1210.3ZM762.3 1205.7L768.1 1202.2L771.4 1205.7L768.1 1210.3ZM604.4 1219.5L608.5 1216.4L612.2 1219.5L623 1228.7L637.5 1228.7L652.1 1227.4L659.3 1233.3L666.6 1239.3L681.1 1241.6L695.6 1242L706.5 1247.2L710.1 1250.6L713 1247.2L710.1 1233.3L710.1 1233.3L695.6 1219.5L710.1 1205.7L714.9 1219.5L724.6 1225.7L731.2 1233.3L731.9 1247.2L734.8 1261L739.1 1266.2L744.6 1261L747.4 1247.2L753.6 1244L762.3 1247.2L762.7 1261L768.1 1263.6L782.6 1271.3L791.4 1274.8L797.2 1279.4L800.4 1274.8L811.7 1268.3L820.9 1274.8L826.2 1282.7L832.6 1274.8L840.7 1261L847.3 1274.8L840.7 1283.4L833.4 1288.6L840.7 1295.5L855.2 1302.4L855.2 1302.4L869.7 1305.3L884.2 1307.7L896.4 1316.2L884.2 1327.3L877.8 1330.1L879.7 1343.9L877 1357.7L869.7 1369.2L866.8 1371.5L855.2 1385.4L855.2 1385.4L855.2 1385.4L869.7 1385.4L884.2 1385.4L884.2 1385.4L898.7 1381.7L910.3 1385.4L898.7 1391.5L892.1 1399.2L890.4 1413L884.2 1418.9L869.7 1413L869.7 1413L855.2 1410.7L840.7 1406.1L832 1413L837.8 1426.8L840.7 1431.4L850.4 1440.6L855.2 1444.6L857.6 1440.6L869.7 1431.4L884.2 1440.6L884.2 1440.6L889.1 1454.4L884.2 1458.4L869.7 1466L855.2 1463.1L848.6 1454.4L840.7 1446.2L829.8 1454.4L831.3 1468.3L840.7 1475.9L851.6 1482.1L855.2 1489L863.9 1482.1L869.7 1472.9L873.3 1482.1L874.1 1495.9L869.7 1509.7L869.7 1509.7L869.7 1509.7L880.1 1523.6L869.7 1536.1L857.6 1523.6L855.2 1514.3L850.4 1509.7L840.7 1504.2L837.1 1509.7L831 1523.6L826.2 1537.4L816.5 1523.6L811.7 1521.8L809.2 1523.6L802 1537.4L811.7 1544.3L815.3 1551.2L811.7 1554L800.1 1565L797.2 1570.5L789.9 1578.8L782.6 1582.6L768.1 1578.8L771.8 1565L768.1 1562.2L761.7 1551.2L753.6 1547.7L747.6 1551.2L748.3 1565L746.4 1578.8L753.6 1585.7L768.1 1578.8L769.7 1592.6L768.1 1594.6L757.3 1606.5L753.6 1609.5L746.4 1606.5L739.1 1599.6L724.6 1599.6L717.4 1606.5L710.1 1614.4L704.7 1620.3L710.1 1627.2L718.8 1620.3L724.6 1615.7L739.1 1612L743.5 1620.3L739.1 1625.5L728.8 1634.1L724.6 1636.9L710.1 1638.3L695.6 1638.7L690.7 1634.1L681.1 1624.9L676.2 1620.3L666.6 1613.4L660.8 1620.3L652.1 1628.6L645.8 1620.3L644.8 1606.5L647.2 1592.6L637.5 1585.7L625.1 1592.6L623 1599.6L608.5 1606.5L604.9 1592.6L594 1585.1L584.3 1592.6L594 1604.5L608.5 1606.5L594 1609.9L579.5 1612L565 1613.4L550.5 1613.4L542.4 1606.5L550.5 1599.6L565 1601.4L575.2 1592.6L572.2 1578.8L565 1575.4L561.4 1578.8L550.5 1584L536 1578.8L536 1578.8L527 1565L536 1555.8L542.4 1551.2L537.1 1537.4L536 1536.1L525.6 1523.6L521.5 1515.7L512.8 1509.7L521.5 1499.4L536 1506.3L540.3 1495.9L536 1489L521.5 1489L507 1494.2L492.4 1484.9L487.6 1482.1L492.4 1480.4L499.2 1468.3L507 1459.8L513.6 1454.4L511.8 1440.6L507 1426.8L507 1426.8L492.4 1413L507 1408.4L516.6 1399.2L521.5 1393.6L530.2 1385.4L521.5 1377.1L507 1385.4L503.3 1371.5L492.4 1364.6L488.5 1357.7L492.4 1353.1L503.3 1343.9L507 1339.9L521.5 1330.1L521.5 1330.1L521.5 1330.1L507 1316.2L507 1316.2L492.4 1309.3L485.2 1302.4L492.4 1300.1L502.8 1288.6L505.5 1274.8L501.5 1261L507 1255.8L511.3 1261L509 1274.8L521.5 1284L536 1280.3L550.5 1282.7L560.2 1274.8L557.7 1261L565 1251.8L579.5 1248.4L586.8 1247.2L594 1233.3L596.9 1247.2L606.5 1261L598.9 1274.8L608.5 1281.7L623 1274.8L637.5 1284.7L643.6 1274.8L637.5 1269L623 1274.8L610.6 1261L623 1253.4L627.9 1247.2L623 1238.5L608.5 1239.3L594 1233.3ZM695.6 1254.1L691.2 1261L695.6 1266.2L702.8 1261ZM862.4 1261L869.7 1254.1L880.1 1261L869.7 1269.6ZM906 1261L913.2 1258.2L914.3 1261L913.2 1262.5ZM467.1 1288.6L477.9 1286.2L483.4 1288.6L477.9 1299L473.1 1302.4L463.4 1308L458.6 1302.4L463.4 1293.2ZM892.5 1288.6L898.7 1284L906 1288.6L898.7 1299ZM927.7 1288.6L942.3 1284L951 1288.6L942.3 1292.8ZM782.6 1293.2L779.7 1302.4L782.6 1306.4L792.3 1302.4ZM921.3 1302.4L927.7 1288.6L933 1302.4L927.7 1306.4ZM565 1315L562.1 1316.2L565 1319.7L579.5 1318L582.9 1316.2L579.5 1314.4ZM739.1 1310.7L736.5 1316.2L739.1 1318.6L740.9 1316.2ZM826.2 1312.8L822.5 1316.2L826.2 1319.4L834.9 1316.2ZM469.6 1330.1L477.9 1323.9L485.2 1330.1L477.9 1343.9ZM782.6 1324.9L778.3 1330.1L782.6 1334.7L793.5 1343.9L797.2 1347.3L806.8 1343.9L807.5 1330.1L797.2 1318.6ZM536 1339.9L530.7 1343.9L525.1 1357.7L536 1368.1L544.7 1357.7L539.2 1343.9ZM826.2 1343.9L826.2 1343.9L822.5 1357.7L826.2 1359.3L840.7 1357.7L840.7 1357.7L852.6 1343.9L840.7 1334.3ZM565 1356.2L557.7 1357.7L565 1359.4L566.3 1357.7ZM608.5 1357.7L608.5 1357.7L598.9 1371.5L608.5 1372.8L611.7 1371.5L608.5 1357.7ZM471.7 1371.5L477.9 1367.8L485.2 1371.5L492.4 1379.8L507 1385.4L492.4 1390L477.9 1385.4L477.9 1385.4ZM811.7 1371.5L811.7 1371.5L808.6 1385.4L811.7 1388.3L826.2 1389.3L830.3 1385.4L826.2 1383.7L811.7 1371.5ZM909.4 1371.5L913.2 1367.3L924.8 1371.5L913.2 1382.6ZM463.4 1399.2L477.9 1385.4L480.8 1399.2L477.9 1400.9ZM652.1 1410.9L648.4 1413L652.1 1415.1L666.6 1413L666.6 1413L666.6 1413ZM942.3 1413L956.8 1410.2L961.6 1413L971.3 1422.2L972.7 1426.8L971.3 1428.1L956.8 1431L949.5 1426.8ZM898.7 1426.8L913.2 1422.2L915.3 1426.8L920.5 1440.6L913.2 1446.8L904.9 1440.6ZM811.7 1437.2L809.6 1440.6L803.4 1454.4L800.8 1468.3L811.7 1477.5L818.9 1468.3L821.3 1454.4L813.3 1440.6ZM468.3 1454.4L477.9 1440.6L492.4 1446.2L497.9 1454.4L492.4 1458.6L477.9 1465.5ZM550.5 1479.3L546.9 1482.1L550.5 1483.8L557.7 1482.1ZM753.6 1473.3L747.3 1482.1L753.6 1492.8L760 1482.1ZM797.2 1485.5L795.2 1495.9L793.5 1509.7L797.2 1513.7L800.4 1509.7L811.7 1495.9L811.7 1495.9L811.7 1495.9ZM946.9 1495.9L956.8 1483.7L971.3 1492.8L975.7 1495.9L971.3 1500.9L956.8 1505.8ZM710.1 1505.8L705.3 1509.7L710.1 1515.3L711.8 1509.7ZM579.5 1523.6L579.5 1523.6L579.5 1537.4L579.5 1537.4L579.5 1537.4L579.5 1523.6ZM623 1521.2L621 1523.6L615 1537.4L608.5 1548.4L594 1551.2L594 1551.2L594 1551.2L608.5 1553.5L613.4 1551.2L623 1547.2L637.5 1547.7L642.4 1551.2L652.1 1557.3L659.3 1551.2L652.1 1545L645.5 1537.4L637.5 1531.4L625.9 1523.6ZM782.6 1517.3L774.6 1523.6L782.6 1535.1L789.9 1523.6ZM739.1 1527.7L726.4 1537.4L739.1 1544.3L743.7 1537.4ZM490.6 1551.2L492.4 1549.2L493.7 1551.2L492.4 1565ZM695.6 1540.8L692.7 1551.2L695.6 1553.8L699.9 1551.2ZM782.6 1540.1L775.4 1551.2L782.6 1559.1L792.3 1551.2ZM837.1 1551.2L840.7 1537.4L847.9 1551.2L840.7 1555.1ZM492.4 1565L507 1563.9L509.4 1565L507 1567ZM550.5 1561.1L547.6 1565L550.5 1570.5L556.3 1565ZM819.4 1565L826.2 1557.6L834.6 1565L840.7 1572.7L849.8 1565L855.2 1556.7L869.7 1553.5L877 1565L869.7 1573.6L855.2 1575.4L852.3 1578.8L840.7 1585L829.1 1578.8L826.2 1577.1ZM710.1 1574.7L704.7 1578.8L710.1 1589.2L716.3 1578.8ZM695.6 1603L687.3 1606.5L695.6 1612.6L702.8 1606.5ZM775.4 1606.5L782.6 1600.5L792.3 1606.5L782.6 1612.8ZM801.5 1606.5L811.7 1600.4L826.2 1600.2L831.8 1606.5L826.2 1620.3L811.7 1613.9ZM517.3 1634.1L521.5 1624.9L527.3 1634.1L521.5 1636.6ZM818.9 1634.1L826.2 1620.3L828.2 1634.1L826.2 1635.3ZM675.3 1661.8L681.1 1656.2L684.7 1661.8L681.1 1668.7Z"/><path fill="none" stroke="#8d8d8d" stroke-width="5.5" stroke-linejoin="round" d="M632.7 1247.2L637.5 1237.3L652.1 1237.9L663.7 1247.2L662.4 1261L666.6 1264.9L673.8 1274.8L681.1 1281.1L695.6 1274.8L710.1 1277.1L719.8 1288.6L718.8 1302.4L724.6 1307L729.9 1316.2L739.1 1324.3L745.5 1316.2L753.6 1303.8L757.3 1302.4L753.6 1295.5L748.8 1288.6L739.1 1274.8L753.6 1261L768.1 1267.9L779.7 1274.8L777.8 1288.6L772.5 1302.4L768.1 1316.2L768.1 1316.2L768.1 1316.2L771 1330.1L768.1 1337L764.9 1343.9L759.4 1357.7L768.1 1364.6L782.6 1371.5L777.4 1385.4L782.6 1399.2L782.6 1399.2L797.2 1403.8L799.2 1399.2L797.2 1397.2L788.4 1385.4L782.6 1371.5L793.5 1357.7L797.2 1356L811.7 1354.9L813.5 1357.7L811.7 1360L804.4 1371.5L803.4 1385.4L811.7 1393.2L826.2 1399.2L811.7 1413L811.7 1413L797.2 1417.6L790.7 1426.8L797.2 1437.9L799.2 1440.6L797.2 1445.2L793 1454.4L782.6 1460.7L768.1 1468.3L760.9 1454.4L758.5 1440.6L768.1 1434.5L775.4 1426.8L768.1 1418.2L753.6 1422.2L750.3 1426.8L749.5 1440.6L746.4 1454.4L751.2 1468.3L742.7 1482.1L751.2 1495.9L753.6 1506.3L764.5 1495.9L764.5 1482.1L768.1 1468.3L782.6 1474.6L791.9 1482.1L791.9 1495.9L784.5 1509.7L782.6 1511L768.1 1520.8L753.6 1516.6L739.1 1520.1L724.6 1519.6L716.1 1509.7L710.1 1495.9L710.1 1495.9L710.1 1495.9L695.6 1505.1L694.1 1509.7L695.6 1514.3L702.8 1523.6L695.6 1528.2L685.9 1537.4L687.8 1551.2L695.6 1558.1L707.2 1551.2L710.1 1546.6L714.2 1551.2L724.6 1561.1L735 1551.2L739.1 1549.2L741.5 1551.2L741.8 1565L739.1 1578.8L724.6 1574.2L710.1 1567.8L695.6 1578.8L695.6 1578.8L695.6 1578.8L704.8 1592.6L695.6 1598.7L687.1 1592.6L681.1 1585.7L674.5 1592.6L666.6 1601.9L655.7 1592.6L652.1 1583.4L637.5 1580L623 1584.8L608.5 1578.8L623 1571.9L637.5 1565L652.1 1565L652.1 1565L666.6 1552.7L668.4 1551.2L666.6 1550.3L652.1 1537.4L657.9 1523.6L652.1 1518L643.8 1523.6L637.5 1526.5L633.2 1523.6L623 1515.5L615.8 1523.6L608.5 1535.6L606.5 1537.4L594 1544.9L589.5 1551.2L579.5 1561.3L568.1 1551.2L579.5 1541.7L586.1 1537.4L594 1527L597.2 1523.6L597.2 1509.7L594 1507.2L579.5 1505.8L565 1499.9L552.9 1509.7L565 1513.2L575.9 1523.6L565 1535.7L561.8 1537.4L550.5 1551.2L542.7 1537.4L536 1529.8L530.8 1523.6L536 1515.9L546.3 1523.6L550.5 1526.6L552.2 1523.6L550.5 1514.3L547.6 1509.7L547.6 1495.9L550.5 1492.5L565 1491.3L579.5 1488.2L586.8 1482.1L579.5 1477.5L566.6 1468.3L565 1466L550.5 1461.4L547.6 1468.3L536 1477.5L529.5 1468.3L521.5 1456.8L520.1 1454.4L521.5 1451L530.2 1440.6L531.1 1426.8L536 1417.6L537.6 1413L536 1410.2L527.7 1399.2L536 1391.3L550.5 1390L552.9 1385.4L550.5 1381.4L542.4 1371.5L550.5 1362.9L565 1363.8L569.4 1357.7L565 1352.3L550.5 1354.3L543.2 1343.9L536 1335L528.7 1330.1L536 1321.4L550.5 1318.6L560.8 1330.1L565 1332.2L566.6 1330.1L579.5 1320.9L588.4 1316.2L579.5 1311.2L565 1308.7L554.6 1302.4L553.1 1288.6L565 1278.2L568.6 1274.8L570.4 1261L579.5 1254.7L594 1258.2L596.1 1261L594 1263.7L589.6 1274.8L594 1285.8L597.6 1288.6L608.5 1292.4L613.4 1288.6L623 1281.1L632.7 1288.6L637.5 1294.5L652.1 1293.8L657.5 1288.6L652.1 1280.3L649.6 1274.8L637.5 1263.3L623 1263.3L621 1261L623 1259.7ZM673.8 1261L681.1 1255.4L684 1261L681.1 1264.9ZM717.4 1261L724.6 1251.8L727.5 1261L724.6 1274.8ZM808.4 1274.8L811.7 1272.9L814.3 1274.8L818.9 1288.6L811.7 1293.2L802 1288.6ZM531.1 1288.6L536 1287.2L540.8 1288.6L536 1292.1ZM498.9 1302.4L507 1293.8L515 1302.4L507 1309.3ZM695.6 1297.8L694.1 1302.4L695.6 1305.9L699.2 1302.4ZM818.9 1302.4L826.2 1293.2L835.8 1302.4L826.2 1307ZM608.5 1310.9L601.3 1316.2L608.5 1327.8L613.7 1316.2ZM804.4 1316.2L811.7 1309.3L816.5 1316.2L811.7 1324.1ZM857.6 1316.2L869.7 1309L884.2 1310.4L892.6 1316.2L884.2 1323.9L869.7 1330.1L869.7 1330.1L869.7 1330.1L875.1 1343.9L869.7 1357.7L869.7 1357.7L855.2 1368.1L849.8 1357.7L855.2 1350.8L860 1343.9L855.2 1338.7L843.1 1330.1L855.2 1320.2ZM817.1 1330.1L826.2 1324.8L838.3 1330.1L826.2 1337ZM515.7 1343.9L521.5 1339.9L524.1 1343.9L521.5 1348.5ZM739.1 1339.9L735.9 1343.9L739.1 1347L742.3 1343.9ZM777.8 1343.9L782.6 1342.4L784.5 1343.9L782.6 1347.3ZM608.5 1349.1L605.4 1357.7L594 1369L591 1371.5L594 1374.8L608.5 1375.9L619.8 1371.5L623 1364.6L637.5 1357.7L637.5 1357.7L637.5 1357.7L623 1348.5ZM652.1 1365.5L646.1 1371.5L652.1 1376.9L661.3 1371.5ZM816.5 1371.5L826.2 1363.4L840.7 1371.5L826.2 1379.7ZM844.8 1399.2L855.2 1392.3L869.7 1392.3L884.2 1396.9L885.5 1399.2L884.2 1403.8L869.7 1406.1L855.2 1404.9ZM579.5 1409.2L572.2 1413L579.5 1415.4L594 1414.2L596.1 1413L594 1411.8ZM652.1 1405.5L639.4 1413L652.1 1420.4L666.6 1416.3L678.7 1413L666.6 1408.9ZM565 1418.9L560.5 1426.8L565 1430.5L568.2 1426.8ZM817.5 1426.8L826.2 1419.9L830.5 1426.8L837.1 1440.6L826.2 1447.5L821.3 1440.6ZM594 1440.6L594 1440.6L594 1454.4L594 1454.4L596.4 1468.3L608.5 1473.6L621.4 1482.1L623 1489L637.5 1493.6L652.1 1484.4L653.5 1482.1L661.1 1468.3L652.1 1464.2L644 1468.3L637.5 1474.4L623 1468.3L623 1468.3L608.5 1454.4L608.5 1454.4L594 1440.6ZM637.5 1435.1L630.8 1440.6L637.5 1452.5L643.8 1440.6ZM681.1 1437.2L677.7 1440.6L681.1 1444.1L688.3 1440.6ZM710.1 1438.9L704.3 1440.6L710.1 1444.6L724.6 1440.6L724.6 1440.6L724.6 1440.6ZM863.7 1440.6L869.7 1436L877 1440.6L869.7 1454.4ZM666.6 1450.5L662.9 1454.4L666.6 1462.3L671 1454.4ZM504.1 1468.3L507 1465.1L512.4 1468.3L511.8 1482.1L507 1485.5L502.1 1482.1ZM724.6 1463.1L715.9 1468.3L724.6 1472L730 1468.3ZM825 1468.3L826.2 1464.8L827 1468.3L826.2 1482.1ZM681.1 1481.2L679.6 1482.1L681.1 1485.5L688.3 1482.1ZM826.2 1482.1L840.7 1479.3L845.5 1482.1L840.7 1491.3ZM950.2 1495.9L956.8 1487.8L970 1495.9L956.8 1502.5ZM808.4 1509.7L811.7 1505.8L826.2 1505.1L828 1509.7L826.2 1513.2L811.7 1513.2ZM863.7 1523.6L869.7 1516.6L874.9 1523.6L869.7 1529.8ZM747 1537.4L753.6 1524.8L768.1 1525.9L776.2 1537.4L768.1 1548.9L753.6 1544.3ZM532.6 1565L536 1561.6L540.3 1565L536 1570.2ZM808.8 1606.5L811.7 1604.7L826.2 1606.5L811.7 1608.6Z"/><path fill="none" stroke="#aaaaaa" stroke-width="5.5" stroke-linejoin="round" d="M574.7 1274.8L579.5 1261L584 1274.8L585.7 1288.6L589.6 1302.4L579.5 1308.1L565 1302.4L565 1302.4L559.7 1288.6L565 1284ZM757.3 1274.8L768.1 1272.2L772.5 1274.8L771.8 1288.6L768.1 1296.9L761.9 1288.6ZM621.4 1288.6L623 1287.4L624.6 1288.6L636.3 1302.4L632.7 1316.2L623 1323.2L618.9 1316.2L608.5 1305.6L602.3 1302.4L608.5 1298.7ZM666.6 1288.6L681.1 1287.4L684.7 1288.6L686.9 1302.4L690.7 1316.2L690.4 1330.1L695.6 1336.4L707.7 1330.1L710.1 1326.6L724.6 1320.9L739.1 1330.1L727.8 1343.9L724.6 1349.4L710.1 1343.9L710.1 1343.9L710.1 1343.9L695.6 1352.2L681.1 1348.5L679 1343.9L666.6 1334.7L655.7 1343.9L666.6 1350.8L677.4 1357.7L681.1 1359.4L692.4 1371.5L693.8 1385.4L695.6 1394.6L700.4 1399.2L710.1 1401.9L712.3 1399.2L716.3 1385.4L710.1 1379.4L702.8 1371.5L710.1 1365.4L724.6 1361.2L733.3 1357.7L739.1 1354.6L744.9 1357.7L753.6 1371.5L753.6 1371.5L768.1 1378.4L770.8 1385.4L768.1 1392.3L753.6 1399.2L739.1 1399.2L739.1 1399.2L739.1 1399.2L753.6 1399.2L758.5 1413L753.6 1414.5L744.7 1426.8L739.1 1440.6L724.6 1433L710.1 1434.6L695.6 1437.9L681.1 1431.4L672.1 1440.6L666.6 1445.6L658.4 1454.4L652.1 1460.1L642.8 1454.4L648.9 1440.6L637.5 1430.5L623 1426.8L623 1426.8L623 1426.8L623 1426.8L625.3 1440.6L623 1449.8L613.4 1440.6L608.5 1439.2L594 1433.7L586 1440.6L579.5 1448.5L565 1454.4L556.3 1440.6L565 1435.1L572.2 1426.8L579.5 1419.5L594 1420.5L606.5 1413L594 1406.1L579.5 1402.9L565 1410.2L559.2 1413L554.9 1426.8L550.5 1433.7L542.2 1426.8L545.6 1413L550.5 1402.6L552.1 1399.2L558.9 1385.4L550.5 1371.5L565 1368.1L572.6 1357.7L565 1348.5L550.5 1348.5L547.3 1343.9L550.5 1330.1L565 1337.5L570.6 1330.1L579.5 1323.7L590.1 1330.1L594 1337L603.7 1343.9L602.2 1357.7L594 1365.9L587.1 1371.5L594 1378.8L608.5 1379.1L618.9 1385.4L623 1399.2L623 1399.2L623 1399.2L637.5 1392.3L642.4 1385.4L652.1 1380.7L666.6 1373.8L667.5 1371.5L666.6 1369.6L652.1 1361.2L645.6 1357.7L637.5 1349.1L631.3 1343.9L637.5 1338L640.6 1330.1L641.2 1316.2L652.1 1302.4L666.6 1309.3L669.5 1302.4ZM701 1288.6L710.1 1282.9L714.9 1288.6L710.1 1298.5ZM750 1316.2L753.6 1310.7L760.1 1316.2L761.9 1330.1L756.8 1343.9L753.6 1349.4L750.4 1343.9L739.1 1330.1ZM863.7 1316.2L869.7 1312.6L884.2 1313.1L888.8 1316.2L884.2 1320.4L869.7 1323.2ZM628.5 1371.5L637.5 1364.6L641.8 1371.5L637.5 1380.2ZM821.3 1371.5L826.2 1367.5L833.4 1371.5L826.2 1375.6ZM795.7 1385.4L797.2 1371.5L798.2 1385.4L797.2 1387.3ZM637.5 1405.1L631.7 1413L637.5 1419.9L652.1 1425.7L666.6 1419.6L681.1 1419.9L695.6 1413L695.6 1413L695.6 1413L681.1 1406.1L666.6 1404.9L652.1 1400.2ZM676.6 1454.4L681.1 1449.8L689.4 1454.4L695.6 1461.4L702.8 1468.3L695.6 1474.2L681.1 1476.6L672.4 1482.1L678.4 1495.9L681.1 1500.5L686.9 1509.7L681.1 1517.6L670.2 1523.6L677.7 1537.4L681.1 1545.7L683 1551.2L695.6 1562.4L702.8 1565L695.6 1570.2L681.1 1578.8L666.6 1571.9L661.1 1565L666.6 1560.4L677.4 1551.2L666.6 1546L656.9 1537.4L665.1 1523.6L666.6 1516.6L669.5 1509.7L666.6 1508.3L659.3 1509.7L652.1 1511.1L647.2 1509.7L652.1 1495.9L652.1 1495.9L660.8 1482.1L666.6 1472.9L669.2 1468.3ZM574.7 1468.3L579.5 1461.4L585.7 1468.3L579.5 1471.7ZM597.6 1482.1L608.5 1478.9L613.4 1482.1L608.5 1492.5L605.6 1495.9L594 1500.9L579.5 1495.9L594 1484.9ZM707.2 1482.1L710.1 1478.6L724.6 1478.3L735.5 1482.1L739.1 1483.3L747.2 1495.9L742 1509.7L739.1 1511.5L724.6 1514.7L720.3 1509.7L720.5 1495.9L710.1 1484.4ZM773 1482.1L782.6 1480L785.3 1482.1L788.6 1495.9L782.6 1505.5L772.6 1495.9ZM953.5 1495.9L956.8 1491.8L963.4 1495.9L956.8 1499.2ZM605.3 1509.7L608.5 1500.5L623 1509.7L610.6 1523.6L608.5 1527L605.3 1523.6ZM556.5 1523.6L565 1516.6L572.2 1523.6L565 1531.7ZM548.3 1537.4L550.5 1534.3L553.7 1537.4L550.5 1541.3ZM750.3 1537.4L753.6 1531.1L768.1 1537.4L753.6 1540.8ZM573.3 1551.2L579.5 1546L584.9 1551.2L579.5 1556.7ZM693.2 1592.6L695.6 1588.7L698.2 1592.6L695.6 1594.4Z"/><path fill="none" stroke="#c6c6c6" stroke-width="5.5" stroke-linejoin="round" d="M573.1 1302.4L579.5 1293.2L584 1302.4L579.5 1304.9ZM612.2 1302.4L623 1294.1L630.3 1302.4L623 1314.3ZM650.2 1316.2L652.1 1313.9L655 1316.2L664.1 1330.1L652.1 1340.7L644.4 1330.1ZM869.7 1316.2L884.2 1315.7L885 1316.2L884.2 1316.9ZM574.7 1330.1L579.5 1326.6L585.3 1330.1L579.5 1337ZM671.4 1330.1L681.1 1319L685.2 1330.1L681.1 1337ZM557.7 1343.9L565 1342.8L567.1 1343.9L565 1344.7ZM575.7 1357.7L579.5 1350.8L594 1345.4L599.1 1357.7L594 1362.7L583.3 1371.5L579.5 1379.2L567.4 1371.5ZM659.3 1357.7L666.6 1356.6L668.4 1357.7L666.6 1359.7ZM672.4 1371.5L681.1 1363.8L688.3 1371.5L689.2 1385.4L681.1 1397.8L676.2 1399.2L666.6 1400.8L661.7 1399.2L666.6 1385.4L666.6 1385.4ZM713 1371.5L724.6 1366.9L734.3 1371.5L739.1 1376.1L750.7 1385.4L739.1 1391.5L732.5 1399.2L733.3 1413L724.6 1423.4L721.7 1426.8L710.1 1430.3L695.6 1431L684.7 1426.8L695.6 1421.6L704.7 1413L710.1 1408.8L717.9 1399.2L724.6 1387.3L727.5 1385.4L724.6 1382.6ZM587.8 1385.4L594 1382.9L608.5 1382.2L613.7 1385.4L608.5 1396.9L601.3 1399.2L594 1400.3L589.2 1399.2ZM650.4 1385.4L652.1 1384.6L666.6 1385.4L652.1 1388.1ZM560.2 1399.2L565 1385.4L573.7 1399.2L565 1403.3ZM576.3 1426.8L579.5 1423.6L594 1426.8L579.5 1437.9ZM594 1426.8L608.5 1419.9L615 1426.8L608.5 1432.3ZM657.9 1426.8L666.6 1422.9L679 1426.8L666.6 1440.6ZM563.5 1440.6L565 1439.7L572.2 1440.6L565 1442.9ZM649.4 1454.5L652.1 1447.5L653.9 1454.4L652.1 1456.1ZM675.8 1468.3L681.1 1457.2L690.7 1468.3L681.1 1472ZM660.1 1495.9L666.6 1484.9L671.8 1495.9L666.6 1501.4ZM730 1495.9L739.1 1489.6L743.1 1495.9L739.1 1503.6ZM778.2 1495.9L782.6 1488L785.3 1495.9L782.6 1500.2ZM560.7 1523.6L565 1520.1L568.6 1523.6L565 1527.6ZM661.7 1537.4L666.6 1529.7L672.1 1537.4L666.6 1541.7Z"/><path fill="none" stroke="#e3e3e3" stroke-width="5.5" stroke-linejoin="round" d="M648.2 1330.1L652.1 1322.4L658.1 1330.1L652.1 1335.4ZM578.9 1357.7L579.5 1356.6L594 1353.1L595.9 1357.7L594 1359.6L579.5 1371.5ZM677.2 1371.5L681.1 1368.1L684.3 1371.5L684.7 1385.4L681.1 1390.9L674.6 1385.4Z"/></g><rect x="2610.5" y="720.3" width="150.0" height="1440.2" fill="url(#cg)"/><rect x="360.2" y="120.5" width="1440.2" height="479.8" fill="none" stroke="#000" stroke-width="3.0"/><path d="M360.2 600.3L360.2 567.8M360.2 120.5L360.2 153M440 600.3L440 583.8M440 120.5L440 137M519.8 600.3L519.8 583.8M519.8 120.5L519.8 137M599.5 600.3L599.5 583.8M599.5 120.5L599.5 137M679.2 600.3L679.2 583.8M679.2 120.5L679.2 137M759 600.3L759 567.8M759 120.5L759 153M838.8 600.3L838.8 583.8M838.8 120.5L838.8 137M918.5 600.3L918.5 583.8M918.5 120.5L918.5 137M998.2 600.3L998.2 583.8M998.2 120.5L998.2 137M1078 600.3L1078 583.8M1078 120.5L1078 137M1157.8 600.3L1157.8 567.8M1157.8 120.5L1157.8 153M1237.5 600.3L1237.5 583.8M1237.5 120.5L1237.5 137M1317.2 600.3L1317.2 583.8M1317.2 120.5L1317.2 137M1397 600.3L1397 583.8M1397 120.5L1397 137M1476.8 600.3L1476.8 583.8M1476.8 120.5L1476.8 137M1556.5 600.3L1556.5 567.8M1556.5 120.5L1556.5 153M1636.2 600.3L1636.2 583.8M1636.2 120.5L1636.2 137M1716 600.3L1716 583.8M1716 120.5L1716 137M1795.8 600.3L1795.8 583.8M1795.8 120.5L1795.8 137" stroke="#000" stroke-width="2.0" fill="none"/><path d="M360.2 600.3L392.8 600.3M1800.4 600.3L1767.9 600.3M360.2 527L376.8 527M1800.4 527L1783.9 527M360.2 453.8L376.8 453.8M1800.4 453.8L1783.9 453.8M360.2 380.5L376.8 380.5M1800.4 380.5L1783.9 380.5M360.2 307.3L376.8 307.3M1800.4 307.3L1783.9 307.3M360.2 234L392.8 234M1800.4 234L1767.9 234M360.2 160.7L376.8 160.7M1800.4 160.7L1783.9 160.7" stroke="#000" stroke-width="2.0" fill="none"/><rect x="360.2" y="720.3" width="1440.2" height="1440.2" fill="none" stroke="#000" stroke-width="3.0"/><path d="M360.2 2160.5L360.2 2128M360.2 720.3L360.2 752.8M440 2160.5L440 2144M440 720.3L440 736.8M519.8 2160.5L519.8 2144M519.8 720.3L519.8 736.8M599.5 2160.5L599.5 2144M599.5 720.3L599.5 736.8M679.2 2160.5L679.2 2144M679.2 720.3L679.2 736.8M759 2160.5L759 2128M759 720.3L759 752.8M838.8 2160.5L838.8 2144M838.8 720.3L838.8 736.8M918.5 2160.5L918.5 2144M918.5 720.3L918.5 736.8M998.2 2160.5L998.2 2144M998.2 720.3L998.2 736.8M1078 2160.5L1078 2144M1078 720.3L1078 736.8M1157.8 2160.5L1157.8 2128M1157.8 720.3L1157.8 752.8M1237.5 2160.5L1237.5 2144M1237.5 720.3L1237.5 736.8M1317.2 2160.5L1317.2 2144M1317.2 720.3L1317.2 736.8M1397 2160.5L1397 2144M1397 720.3L1397 736.8M1476.8 2160.5L1476.8 2144M1476.8 720.3L1476.8 736.8M1556.5 2160.5L1556.5 2128M1556.5 720.3L1556.5 752.8M1636.2 2160.5L1636.2 2144M1636.2 720.3L1636.2 736.8M1716 2160.5L1716 2144M1716 720.3L1716 736.8M1795.8 2160.5L1795.8 2144M1795.8 720.3L1795.8 736.8" stroke="#000" stroke-width="2.0" fill="none"/><path d="M360.2 2140.3L376.8 2140.3M1800.4 2140.3L1783.9 2140.3M360.2 2070.2L376.8 2070.2M1800.4 2070.2L1783.9 2070.2M360.2 2000.2L392.8 2000.2M1800.4 2000.2L1767.9 2000.2M360.2 1930.1L376.8 1930.1M1800.4 1930.1L1783.9 1930.1M360.2 1860.1L376.8 1860.1M1800.4 1860.1L1783.9 1860.1M360.2 1790L376.8 1790M1800.4 1790L1783.9 1790M360.2 1720L392.8 1720M1800.4 1720L1767.9 1720M360.2 1650L376.8 1650M1800.4 1650L1783.9 1650M360.2 1579.9L376.8 1579.9M1800.4 1579.9L1783.9 1579.9M360.2 1509.8L376.8 1509.8M1800.4 1509.8L1783.9 1509.8M360.2 1439.8L392.8 1439.8M1800.4 1439.8L1767.9 1439.8M360.2 1369.8L376.8 1369.8M1800.4 1369.8L1783.9 1369.8M360.2 1299.7L376.8 1299.7M1800.4 1299.7L1783.9 1299.7M360.2 1229.6L376.8 1229.6M1800.4 1229.6L1783.9 1229.6M360.2 1159.6L392.8 1159.6M1800.4 1159.6L1767.9 1159.6M360.2 1089.5L376.8 1089.5M1800.4 1089.5L1783.9 1089.5M360.2 1019.5L376.8 1019.5M1800.4 1019.5L1783.9 1019.5M360.2 949.5L376.8 949.5M1800.4 949.5L1783.9 949.5M360.2 879.4L392.8 879.4M1800.4 879.4L1767.9 879.4M360.2 809.3L376.8 809.3M1800.4 809.3L1783.9 809.3M360.2 739.3L376.8 739.3M1800.4 739.3L1783.9 739.3" stroke="#000" stroke-width="2.0" fill="none"/><rect x="1920.5" y="720.3" width="570.1" height="1440.2" fill="none" stroke="#000" stroke-width="3.0"/><path d="M1920.5 2160.5L1920.5 2128M1920.5 720.3L1920.5 752.8M2002 2160.5L2002 2144M2002 720.3L2002 736.8M2083.5 2160.5L2083.5 2144M2083.5 720.3L2083.5 736.8M2165 2160.5L2165 2144M2165 720.3L2165 736.8M2246.5 2160.5L2246.5 2144M2246.5 720.3L2246.5 736.8M2328 2160.5L2328 2128M2328 720.3L2328 752.8M2409.5 2160.5L2409.5 2144M2409.5 720.3L2409.5 736.8" stroke="#000" stroke-width="2.0" fill="none"/><path d="M1920.5 2140.3L1937 2140.3M2490.6 2140.3L2474.1 2140.3M1920.5 2070.2L1937 2070.2M2490.6 2070.2L2474.1 2070.2M1920.5 2000.2L1953 2000.2M2490.6 2000.2L2458.1 2000.2M1920.5 1930.1L1937 1930.1M2490.6 1930.1L2474.1 1930.1M1920.5 1860.1L1937 1860.1M2490.6 1860.1L2474.1 1860.1M1920.5 1790L1937 1790M2490.6 1790L2474.1 1790M1920.5 1720L1953 1720M2490.6 1720L2458.1 1720M1920.5 1650L1937 1650M2490.6 1650L2474.1 1650M1920.5 1579.9L1937 1579.9M2490.6 1579.9L2474.1 1579.9M1920.5 1509.8L1937 1509.8M2490.6 1509.8L2474.1 1509.8M1920.5 1439.8L1953 1439.8M2490.6 1439.8L2458.1 1439.8M1920.5 1369.8L1937 1369.8M2490.6 1369.8L2474.1 1369.8M1920.5 1299.7L1937 1299.7M2490.6 1299.7L2474.1 1299.7M1920.5 1229.6L1937 1229.6M2490.6 1229.6L2474.1 1229.6M1920.5 1159.6L1953 1159.6M2490.6 1159.6L2458.1 1159.6M1920.5 1089.5L1937 1089.5M2490.6 1089.5L2474.1 1089.5M1920.5 1019.5L1937 1019.5M2490.6 1019.5L2474.1 1019.5M1920.5 949.5L1937 949.5M2490.6 949.5L2474.1 949.5M1920.5 879.4L1953 879.4M2490.6 879.4L2458.1 879.4M1920.5 809.3L1937 809.3M2490.6 809.3L2474.1 809.3M1920.5 739.3L1937 739.3M2490.6 739.3L2474.1 739.3" stroke="#000" stroke-width="2.0" fill="none"/><rect x="2610.5" y="720.3" width="150" height="1440.2" fill="none" stroke="#000" stroke-width="3.0"/><path d="M2760.5 2160.5L2728 2160.5M2760.5 2088.5L2744 2088.5M2760.5 2016.5L2744 2016.5M2760.5 1944.5L2744 1944.5M2760.5 1872.5L2728 1872.5M2760.5 1800.5L2744 1800.5M2760.5 1728.4L2744 1728.4M2760.5 1656.4L2744 1656.4M2760.5 1584.4L2728 1584.4M2760.5 1512.4L2744 1512.4M2760.5 1440.4L2744 1440.4M2760.5 1368.4L2744 1368.4M2760.5 1296.4L2728 1296.4M2760.5 1224.4L2744 1224.4M2760.5 1152.4L2744 1152.4M2760.5 1080.3L2744 1080.3M2760.5 1008.3L2728 1008.3M2760.5 936.3L2744 936.3M2760.5 864.3L2744 864.3M2760.5 792.3L2744 792.3M2760.5 720.3L2728 720.3" stroke="#000" stroke-width="2.0" fill="none"/><text transform="matrix(0 -0.6505 1.0775 0 209.92 500.30)" style="font-family:'Liberation Sans',sans-serif;font-weight:bold;font-size:100px"># Counts</text><text transform="matrix(0.5394 0 0 0.8507 252.38 255.55)" style="font-family:'Liberation Sans',sans-serif;font-weight:bold;font-size:100px">500</text><text transform="matrix(0.5319 0 0 0.8451 313.87 621.15)" style="font-family:'Liberation Sans',sans-serif;font-weight:bold;font-size:100px">0</text><text transform="matrix(0.7778 0 0 1.2767 1916.56 279.69)" style="font-family:'Liberation Sans',sans-serif;font-weight:bold;font-size:100px">PepDF</text><text transform="matrix(0.6744 0 0 1.0521 1920.13 431.45)" style="font-family:'Liberation Sans',sans-serif;font-weight:bold;font-size:100px">Time window: 5 ns</text><text transform="matrix(0.5552 0 0 0.8437 281.09 901.96)" style="font-family:'Liberation Sans',sans-serif;font-weight:bold;font-size:100px">40</text><text transform="matrix(0.5490 0 0 0.8338 281.75 1181.97)" style="font-family:'Liberation Sans',sans-serif;font-weight:bold;font-size:100px">20</text><text transform="matrix(0.5213 0 0 0.8056 313.91 1459.99)" style="font-family:'Liberation Sans',sans-serif;font-weight:bold;font-size:100px">0</text><text transform="matrix(0.6484 0 0 0.8479 233.31 1741.35)" style="font-family:'Liberation Sans',sans-serif;font-weight:bold;font-size:100px">−20</text><text transform="matrix(0.6484 0 0 0.8479 233.31 2021.65)" style="font-family:'Liberation Sans',sans-serif;font-weight:bold;font-size:100px">−40</text><text transform="matrix(0 -0.6760 1.0549 0 190.85 1783.53)" style="font-family:'Liberation Sans',sans-serif;font-weight:bold;font-size:100px">Precession (degrees)</text><text transform="matrix(0.5458 0 0 0.8465 322.32 2236.55)" style="font-family:'Liberation Sans',sans-serif;font-weight:bold;font-size:100px">0.0</text><text transform="matrix(0.5439 0 0 0.8465 721.42 2236.55)" style="font-family:'Liberation Sans',sans-serif;font-weight:bold;font-size:100px">0.5</text><text transform="matrix(0.5457 0 0 0.8634 1119.63 2236.84)" style="font-family:'Liberation Sans',sans-serif;font-weight:bold;font-size:100px">1.0</text><text transform="matrix(0.5415 0 0 0.8757 1518.35 2236.82)" style="font-family:'Liberation Sans',sans-serif;font-weight:bold;font-size:100px">1.5</text><text transform="matrix(0.6804 0 0 1.0549 657.24 2343.85)" style="font-family:'Liberation Sans',sans-serif;font-weight:bold;font-size:100px">Lateral displacement (nm)</text><text transform="matrix(0.5681 0 0 0.8338 1905.33 2236.17)" style="font-family:'Liberation Sans',sans-serif;font-weight:bold;font-size:100px">0</text><text transform="matrix(0.5412 0 0 0.8338 2282.98 2236.17)" style="font-family:'Liberation Sans',sans-serif;font-weight:bold;font-size:100px">500</text><text transform="matrix(0.6521 0 0 1.0704 2065.10 2344.73)" style="font-family:'Liberation Sans',sans-serif;font-weight:bold;font-size:100px"># Counts</text><text transform="matrix(0.5426 0 0 0.8507 2777.74 741.55)" style="font-family:'Liberation Sans',sans-serif;font-weight:bold;font-size:100px">1.0</text><text transform="matrix(0.5348 0 0 0.8310 2778.26 1028.17)" style="font-family:'Liberation Sans',sans-serif;font-weight:bold;font-size:100px">0.8</text><text transform="matrix(0.5389 0 0 0.8268 2778.24 1315.87)" style="font-family:'Liberation Sans',sans-serif;font-weight:bold;font-size:100px">0.6</text><text transform="matrix(0.5230 0 0 0.8352 2778.31 1605.16)" style="font-family:'Liberation Sans',sans-serif;font-weight:bold;font-size:100px">0.4</text><text transform="matrix(0.5389 0 0 0.8352 2778.24 1893.16)" style="font-family:'Liberation Sans',sans-serif;font-weight:bold;font-size:100px">0.2</text><text transform="matrix(0.5389 0 0 0.8352 2778.24 2181.16)" style="font-family:'Liberation Sans',sans-serif;font-weight:bold;font-size:100px">0.0</text><text transform="matrix(0 -0.5415 0.8493 0 2929.45 1733.89)" style="font-family:'Liberation Sans',sans-serif;font-weight:bold;font-size:100px">Normalized Mean Time</text><path d="M0 2367h1.2v16h0.8v15.5h31v1.5H0z" fill="#000"/></svg></body></html>
